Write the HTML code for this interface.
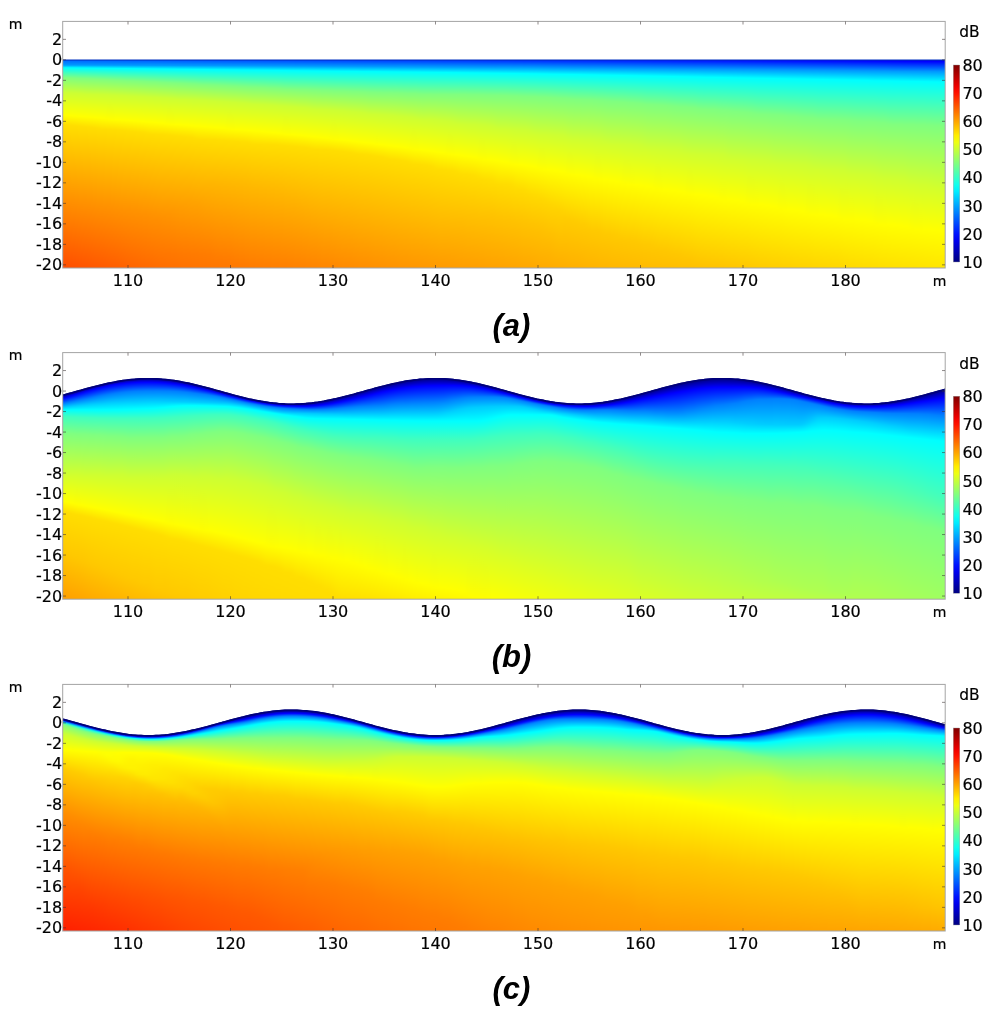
<!DOCTYPE html>
<html lang="en"><head><meta charset="utf-8"><title>Sound pressure level panels</title>
<style>
html,body{margin:0;padding:0;background:#fff}
body{width:1000px;height:1021px;position:relative;overflow:hidden;font-family:"DejaVu Sans","Liberation Sans",sans-serif}
.hm{position:absolute;left:63px;width:882px;height:246.5px;overflow:hidden}
.in{position:absolute;left:-16px;top:0;width:914px;height:246.5px;filter:url(#hb)}
.hm i{position:absolute;top:0;height:246.5px;display:block}
svg{position:absolute;left:0;top:0;transform:translateZ(0);will-change:transform}
.t{font:16px "DejaVu Sans","Liberation Sans",sans-serif;fill:#000;stroke:#000;stroke-width:.2px}
.u{font:14px "DejaVu Sans","Liberation Sans",sans-serif;fill:#000;stroke:#000;stroke-width:.2px}
.d{font:15.4px "DejaVu Sans","Liberation Sans",sans-serif;fill:#000;stroke:#000;stroke-width:.2px}
.cap{font:italic bold 31px "Liberation Sans",sans-serif;fill:#000}
</style></head><body>
<div class="hm" style="top:21.5px"><div class="in"><i style="left:0px;width:4.5px;background:linear-gradient(#006aff 38.5px,#09f 43.1px,#0ff 45.7px,#80ff80 55.5px,#cf3 70.5px,#ff0 93px,#ffde00 102.5px,#ff9500 172.5px,#ff4c00 246.5px)"></i><i style="left:4px;width:4.5px;background:linear-gradient(#006aff 38.5px,#09f 43.1px,#0ff 45.7px,#80ff80 55.5px,#cf3 70.5px,#ff0 93px,#ffde00 102.5px,#ff9500 172.5px,#ff4c00 246.5px)"></i><i style="left:8px;width:4.5px;background:linear-gradient(#006aff 38.5px,#09f 43.1px,#0ff 45.7px,#80ff80 55.5px,#cf3 70.5px,#ff0 93px,#ffde00 102.5px,#ff9500 172.5px,#ff4c00 246.5px)"></i><i style="left:12px;width:4.5px;background:linear-gradient(#006aff 38.5px,#09f 43.1px,#0ff 45.7px,#80ff80 55.5px,#cf3 70.5px,#ff0 93px,#ffde00 102.5px,#ff9500 172.5px,#ff4c00 246.5px)"></i><i style="left:16px;width:4.5px;background:linear-gradient(#0069ff 38.5px,#09f 43.11px,#0ff 45.73px,#7fff80 55.59px,#cf3 70.6px,#ff0 93.16px,#ffde00 102.7px,#ff9600 172.5px,#ff4d00 246.5px)"></i><i style="left:20px;width:4.5px;background:linear-gradient(#0069ff 38.5px,#09f 43.12px,#0ff 45.78px,#80ff7f 55.78px,#cf3 70.79px,#ff0 93.48px,#ffde00 103.1px,#ff9200 177.5px,#ff4f00 246.5px)"></i><i style="left:24px;width:4.5px;background:linear-gradient(#0068ff 38.5px,#09f 43.13px,#0ff 45.83px,#80ff7f 55.97px,#cf3 70.98px,#ff0 93.8px,#ffde00 103.5px,#ff9200 177.5px,#ff5000 246.5px)"></i><i style="left:28px;width:4.5px;background:linear-gradient(#0068ff 38.5px,#09f 43.14px,#0ff 45.88px,#7fff80 56.15px,#cf3 71.18px,#ff0 94.12px,#ffde00 104px,#ff9300 177.5px,#ff5100 246.5px)"></i><i style="left:32px;width:4.5px;background:linear-gradient(#0067ff 38.5px,#09f 43.15px,#0ff 45.93px,#7fff80 56.34px,#cf3 71.38px,#ff0 94.44px,#ffde00 104.4px,#ff9400 177.5px,#ff5300 246.5px)"></i><i style="left:36px;width:4.5px;background:linear-gradient(#0067ff 38.5px,#09f 43.16px,#0ff 45.98px,#80ff7f 56.53px,#ceff31 72.5px,#ff0 94.76px,#ffde00 104.8px,#ff9400 177.5px,#ff5400 246.5px)"></i><i style="left:40px;width:4.5px;background:linear-gradient(#06f 38.5px,#09f 43.17px,#0ff 46.03px,#80ff7f 56.72px,#ceff31 72.5px,#ff0 95.08px,#ffde00 105.2px,#ff9500 177.5px,#f50 246.5px)"></i><i style="left:44px;width:4.5px;background:linear-gradient(#06f 38.5px,#09f 43.18px,#0ff 46.08px,#80ff7f 56.91px,#cdff32 72.5px,#ff0 95.41px,#ffde00 105.6px,#ff9500 177.5px,#ff5700 246.5px)"></i><i style="left:48px;width:4.5px;background:linear-gradient(#0065ff 38.5px,#09f 43.19px,#0ff 46.13px,#80ff7f 57.1px,#cdff32 72.5px,#ff0 95.73px,#ffde00 106px,#ff9200 182.5px,#ff5800 246.5px)"></i><i style="left:52px;width:4.5px;background:linear-gradient(#0065ff 38.5px,#09f 43.21px,#0ff 46.18px,#80ff7f 57.29px,#cf3 72.5px,#ff0 96.05px,#fd0 107.5px,#ff9200 182.5px,#ff5900 246.5px)"></i><i style="left:56px;width:4.5px;background:linear-gradient(#0064ff 38.5px,#09f 43.22px,#0ff 46.23px,#80ff7f 57.48px,#cf3 72.62px,#ff0 96.38px,#fd0 107.5px,#ff9300 182.5px,#ff5a00 246.5px)"></i><i style="left:60px;width:4.5px;background:linear-gradient(#0064ff 38.5px,#09f 43.23px,#0ff 46.29px,#80ff7f 57.67px,#cf3 72.84px,#fffd00 97.5px,#ffde00 107.5px,#ff9300 182.5px,#ff5c00 246.5px)"></i><i style="left:64px;width:4.5px;background:linear-gradient(#0063ff 38.5px,#09f 43.24px,#0ff 46.34px,#7fff80 57.86px,#cf3 73.05px,#fffe00 97.5px,#ffde00 107.6px,#ff9400 182.5px,#ff5d00 246.5px)"></i><i style="left:68px;width:4.5px;background:linear-gradient(#0063ff 38.5px,#09f 43.26px,#0ff 46.39px,#7fff80 58.05px,#cf3 73.27px,#ff0 97.5px,#ffde00 108px,#ff9500 182.5px,#ff5e00 246.5px)"></i><i style="left:72px;width:4.5px;background:linear-gradient(#0062ff 38.5px,#09f 43.27px,#0ff 46.44px,#80ff7f 58.25px,#cf3 73.49px,#ff0 97.68px,#ffde00 108.4px,#ff9100 187.5px,#ff6000 246.5px)"></i><i style="left:76px;width:4.5px;background:linear-gradient(#0062ff 38.5px,#09f 43.28px,#0ff 46.49px,#81ff7e 58.8px,#cf3 73.71px,#ff0 98.01px,#ffde00 108.8px,#ff9200 187.5px,#ff6100 246.5px)"></i><i style="left:80px;width:4.5px;background:linear-gradient(#0061ff 38.5px,#09f 43.3px,#0ff 46.54px,#80ff7f 58.8px,#cf3 73.93px,#ff0 98.34px,#ffde00 109.2px,#ff9200 187.5px,#ff6300 246.5px)"></i><i style="left:84px;width:4.5px;background:linear-gradient(#0061ff 38.5px,#09f 43.31px,#0ff 46.59px,#80ff7f 58.83px,#cf3 74.16px,#ff0 98.67px,#ffde00 109.6px,#ff9300 187.5px,#ff6400 246.5px)"></i><i style="left:88px;width:4.5px;background:linear-gradient(#0060ff 38.5px,#09f 43.33px,#0ff 46.64px,#7fff80 59.02px,#cf3 74.38px,#ff0 99px,#ffde00 110px,#ff9300 187.5px,#ff6500 246.5px)"></i><i style="left:92px;width:4.5px;background:linear-gradient(#0060ff 38.5px,#09f 43.34px,#0ff 46.69px,#80ff7f 59.22px,#cf3 74.61px,#ff0 99.33px,#ffde00 110.4px,#ff9000 192.5px,#ff6700 246.5px)"></i><i style="left:96px;width:4.5px;background:linear-gradient(#005fff 38.5px,#009dff 43.49px,#0ff 46.74px,#7fff80 59.41px,#cf3 74.84px,#ff0 99.66px,#ffde00 110.8px,#ff9000 192.5px,#ff6800 246.5px)"></i><i style="left:100px;width:4.5px;background:linear-gradient(#005fff 38.5px,#009dff 43.49px,#0ff 46.79px,#7fff80 59.61px,#cf3 75.07px,#ff0 99.99px,#fd0 112.5px,#ff9100 192.5px,#ff6900 246.5px)"></i><i style="left:104px;width:4.5px;background:linear-gradient(#005eff 38.5px,#009cff 43.49px,#0ff 46.85px,#80ff7f 59.81px,#cf3 75.31px,#ff0 100.3px,#fd0 112.5px,#ff9200 192.5px,#ff6a00 246.5px)"></i><i style="left:108px;width:4.5px;background:linear-gradient(#005eff 38.5px,#009cff 43.49px,#0ff 46.9px,#80ff7f 60.01px,#cf3 75.54px,#ff0 100.7px,#ffde00 112.5px,#ff8e00 197.5px,#ff6c00 246.5px)"></i><i style="left:112px;width:4.5px;background:linear-gradient(#005dff 38.5px,#009bff 43.49px,#0ff 46.95px,#7fff80 60.2px,#cf3 75.78px,#ff0 101px,#ffde00 112.5px,#ff8f00 197.5px,#ff6f00 242.5px,#ff6d00 246.5px)"></i><i style="left:116px;width:4.5px;background:linear-gradient(#005dff 38.5px,#009bff 43.49px,#0ff 47px,#7fff80 60.4px,#cf3 76.02px,#ff0 101.3px,#ffde00 112.8px,#ff9400 192.5px,#ff7600 232.5px,#ff6e00 246.5px)"></i><i style="left:120px;width:4.5px;background:linear-gradient(#005cff 38.5px,#009aff 43.49px,#0ff 47.05px,#7fff80 60.6px,#cf3 76.26px,#fffd00 102.5px,#ffde00 113.2px,#ff9400 192.5px,#f70 232.5px,#ff6f00 246.5px)"></i><i style="left:124px;width:4.5px;background:linear-gradient(#005cff 38.5px,#009aff 43.49px,#0ff 47.1px,#80ff80 60.8px,#cf3 76.5px,#fffe00 102.5px,#ffde00 113.6px,#f90 187.5px,#f70 232.5px,#ff6f00 246.5px)"></i><i style="left:128px;width:4.5px;background:linear-gradient(#005bff 38.5px,#09f 43.49px,#0ff 47.15px,#7fff80 61px,#ceff31 77.5px,#ff0 102.5px,#ffde00 114px,#ff9a00 187.5px,#ff7800 232.5px,#ff7000 246.5px)"></i><i style="left:132px;width:4.5px;background:linear-gradient(#005bff 38.5px,#09f 43.5px,#0ff 47.25px,#80ff7f 61.21px,#cdff32 77.5px,#ff0 102.7px,#ffde00 114.4px,#ff9f00 182.5px,#ff7900 232.5px,#ff7100 246.5px)"></i><i style="left:136px;width:4.5px;background:linear-gradient(#005aff 38.5px,#09f 43.51px,#0ff 47.25px,#7fff80 61.41px,#cdff32 77.5px,#ff0 103px,#ffde00 114.8px,#ff9f00 182.5px,#ff7900 232.5px,#ff7200 246.5px)"></i><i style="left:140px;width:4.5px;background:linear-gradient(#005aff 38.5px,#09f 43.53px,#0ff 47.3px,#7fff80 61.62px,#cf3 77.5px,#ff0 103.3px,#ffde00 115.2px,#ffa400 177.5px,#ff7a00 232.5px,#ff7200 246.5px)"></i><i style="left:144px;width:4.5px;background:linear-gradient(#0059ff 38.5px,#09f 43.55px,#0ff 47.35px,#7fff80 61.83px,#cf3 77.74px,#ff0 103.7px,#ffde00 115.5px,#ffa400 178.2px,#ff7a00 232.5px,#ff7300 246.5px)"></i><i style="left:148px;width:4.5px;background:linear-gradient(#0059ff 38.5px,#09f 43.56px,#0ff 47.41px,#7fff80 62.04px,#cf3 77.99px,#ff0 104px,#fd0 117.5px,#ffa100 182.5px,#ff7b00 232.5px,#ff7400 246.5px)"></i><i style="left:152px;width:4.5px;background:linear-gradient(#0058ff 38.5px,#09f 43.58px,#0ff 47.46px,#82ff7d 62.85px,#cf3 78.25px,#ff0 104.3px,#fd0 117.5px,#ffa400 179.7px,#ff7b00 232.5px,#ff7400 246.5px)"></i><i style="left:156px;width:4.5px;background:linear-gradient(#0058ff 38.5px,#09f 43.6px,#0ff 47.51px,#81ff7e 62.85px,#cf3 78.51px,#ff0 104.7px,#fd0 117.5px,#ffab00 172.5px,#ff7c00 232.5px,#ff7500 246.5px)"></i><i style="left:160px;width:4.5px;background:linear-gradient(#0057ff 38.5px,#09f 43.62px,#0ff 47.56px,#80ff7f 62.85px,#cf3 78.77px,#ff0 105px,#ffde00 117.5px,#ffb000 167.5px,#ff7c00 232.5px,#ff7500 246.5px)"></i><i style="left:164px;width:4.5px;background:linear-gradient(#0057ff 38.5px,#09f 43.63px,#0ff 47.61px,#7fff80 62.9px,#cf3 79.03px,#ff0 105.3px,#ffde00 117.5px,#ffb400 162.5px,#ff7d00 232.5px,#ff7600 246.5px)"></i><i style="left:168px;width:4.5px;background:linear-gradient(#0056ff 38.5px,#09f 43.65px,#0ff 47.66px,#7fff80 63.12px,#cf3 79.3px,#ff0 105.6px,#ffde00 117.8px,#ffb500 162.5px,#ff7b00 237.5px,#ff7600 246.5px)"></i><i style="left:172px;width:4.5px;background:linear-gradient(#05f 38.5px,#09f 43.67px,#0ff 47.71px,#80ff7f 63.34px,#cf3 79.56px,#ff0 106px,#ffde00 118.2px,#ffb500 162.5px,#ff7b00 237.5px,#f70 246.5px)"></i><i style="left:176px;width:4.5px;background:linear-gradient(#05f 38.5px,#09f 43.69px,#0ff 47.76px,#7fff80 63.55px,#cf3 79.83px,#ff0 106.3px,#ffde00 118.5px,#ffb600 162.5px,#ff7c00 237.5px,#f70 246.5px)"></i><i style="left:180px;width:4.5px;background:linear-gradient(#0054ff 38.5px,#09f 43.71px,#0ff 47.81px,#80ff7f 63.77px,#cf3 80.1px,#fffd00 107.5px,#ffde00 118.8px,#ffb600 162.5px,#ff7c00 237.5px,#ff7800 246.5px)"></i><i style="left:184px;width:4.5px;background:linear-gradient(#0054ff 38.5px,#09f 43.73px,#0ff 47.86px,#7fff80 63.98px,#cf3 80.38px,#fffe00 107.5px,#ffde00 119.2px,#ffb700 162.5px,#ff7d00 237.5px,#ff7800 246.5px)"></i><i style="left:188px;width:4.5px;background:linear-gradient(#0053ff 38.5px,#09f 43.74px,#0ff 47.91px,#80ff7f 64.2px,#cf3 80.65px,#ff0 107.5px,#ffde00 119.5px,#ffb700 162.5px,#ff7b00 242.5px,#ff7900 246.5px)"></i><i style="left:192px;width:4.5px;background:linear-gradient(#0053ff 38.5px,#09f 43.76px,#0ff 47.97px,#7fff80 64.41px,#cf3 80.93px,#ff0 107.7px,#ffde00 119.9px,#ffb800 162.5px,#ff7b00 242.5px,#ff7900 246.5px)"></i><i style="left:196px;width:4.5px;background:linear-gradient(#0052ff 38.5px,#09f 43.78px,#0ff 48.02px,#7fff80 64.62px,#cf3 81.21px,#ff0 108px,#ffde00 120.2px,#ffb800 162.5px,#ff7c00 242.5px,#ff7a00 246.5px)"></i><i style="left:200px;width:4.5px;background:linear-gradient(#0052ff 38.5px,#09f 43.8px,#0ff 48.07px,#7fff80 64.83px,#cf3 81.5px,#ff0 108.4px,#ffde00 120.5px,#ffb900 162.5px,#ff7a00 246.5px)"></i><i style="left:204px;width:4.5px;background:linear-gradient(#0051ff 38.5px,#09f 43.82px,#0ff 48.12px,#7fff80 65.04px,#cdff32 82.5px,#ff0 108.7px,#fd0 122.5px,#ffb600 167.5px,#ff7b00 246.5px)"></i><i style="left:208px;width:4.5px;background:linear-gradient(#0051ff 38.5px,#09f 43.84px,#0ff 48.17px,#80ff7f 65.25px,#cdff32 82.5px,#ff0 109.1px,#fd0 122.5px,#ffb600 167.5px,#ff7b00 246.5px)"></i><i style="left:212px;width:4.5px;background:linear-gradient(#0050ff 38.5px,#09f 43.86px,#0ff 48.22px,#80ff7f 65.45px,#cf3 82.5px,#ff0 109.4px,#fd0 122.5px,#ffb700 167.5px,#ff7c00 246.5px)"></i><i style="left:216px;width:4.5px;background:linear-gradient(#0050ff 38.5px,#09f 43.88px,#0ff 48.27px,#80ff7f 65.65px,#cf3 82.65px,#ff0 109.8px,#ffde00 122.5px,#ffb700 167.5px,#ff7c00 246.5px)"></i><i style="left:220px;width:4.5px;background:linear-gradient(#004fff 38.5px,#09f 43.9px,#0ff 48.32px,#7fff80 65.84px,#cf3 82.95px,#ff0 110.2px,#ffde00 122.5px,#ffb800 167.5px,#ff7d00 246.5px)"></i><i style="left:224px;width:4.5px;background:linear-gradient(#004fff 38.5px,#09f 43.92px,#0ff 48.37px,#80ff7f 66.04px,#cf3 83.25px,#ff0 110.5px,#ffde00 122.5px,#ffb800 167.5px,#ff7d00 246.5px)"></i><i style="left:228px;width:4.5px;background:linear-gradient(#004eff 38.5px,#09f 43.94px,#0ff 48.42px,#7fff80 66.22px,#cf3 83.55px,#ff0 110.9px,#ffde00 122.8px,#ffb900 167.5px,#ff7e00 246.5px)"></i><i style="left:232px;width:4.5px;background:linear-gradient(#004eff 38.5px,#09f 43.96px,#0ff 48.47px,#80ff7f 66.41px,#cf3 83.85px,#ff0 111.3px,#ffde00 123.2px,#ffb500 172.5px,#ff7e00 246.5px)"></i><i style="left:236px;width:4.5px;background:linear-gradient(#004dff 38.5px,#09f 43.98px,#0ff 48.53px,#83ff7c 67.5px,#cf3 84.15px,#fffd00 112.5px,#ffde00 123.5px,#ffb600 172.5px,#ff7f00 246.5px)"></i><i style="left:240px;width:4.5px;background:linear-gradient(#004dff 38.5px,#09f 44px,#0ff 48.58px,#83ff7c 67.5px,#cf3 84.46px,#fffe00 112.5px,#ffde00 123.9px,#ffb700 172.5px,#ff7f00 246.5px)"></i><i style="left:244px;width:4.5px;background:linear-gradient(#004cff 38.5px,#09f 44.03px,#0ff 48.63px,#82ff7d 67.5px,#cf3 84.77px,#ff0 112.5px,#ffde00 124.2px,#ffb300 177.5px,#ff8000 246.5px)"></i><i style="left:248px;width:4.5px;background:linear-gradient(#004bff 38.5px,#09f 44.05px,#0ff 48.68px,#81ff7e 67.5px,#cf3 85.09px,#ff0 112.9px,#ffde00 124.6px,#ffb000 182.5px,#ff8100 246.5px)"></i><i style="left:252px;width:4.5px;background:linear-gradient(#004bff 38.5px,#09f 44.07px,#0ff 48.73px,#80ff7f 67.5px,#cf3 85.4px,#ff0 113.3px,#ffde00 125px,#ffad00 187.5px,#ff8100 246.5px)"></i><i style="left:256px;width:4.5px;background:linear-gradient(#004aff 38.5px,#09f 44.09px,#0ff 48.77px,#80ff7f 67.5px,#cf3 85.72px,#ff0 113.7px,#ffde00 125.4px,#fa0 192.5px,#ff8200 246.5px)"></i><i style="left:260px;width:4.5px;background:linear-gradient(#004aff 38.5px,#09f 44.11px,#0ff 48.82px,#80ff7f 67.67px,#cf3 86.04px,#ff0 114.2px,#ffde00 125.8px,#ffa700 197.5px,#ff8300 246.5px)"></i><i style="left:264px;width:4.5px;background:linear-gradient(#0049ff 38.5px,#09f 44.13px,#0ff 48.87px,#7fff80 67.84px,#ceff31 87.5px,#ff0 114.6px,#fd0 127.5px,#ff8300 246.5px)"></i><i style="left:268px;width:4.5px;background:linear-gradient(#0049ff 38.5px,#09f 44.16px,#0ff 48.92px,#80ff7f 68.02px,#cdff32 87.5px,#ff0 115px,#fd0 127.5px,#ff8400 246.5px)"></i><i style="left:272px;width:4.5px;background:linear-gradient(#0048ff 38.5px,#09f 44.18px,#0ff 48.97px,#7fff80 68.19px,#cdff32 87.5px,#ff0 115.5px,#ffde00 127.5px,#ff8500 246.5px)"></i><i style="left:276px;width:4.5px;background:linear-gradient(#0048ff 38.5px,#09f 44.2px,#0ff 49.02px,#7fff80 68.36px,#cf3 87.5px,#ff0 115.9px,#ffde00 127.5px,#ff8600 246.5px)"></i><i style="left:280px;width:4.5px;background:linear-gradient(#0047ff 38.5px,#09f 44.22px,#0ff 49.07px,#80ff7f 68.54px,#cf3 87.7px,#ff0 116.3px,#ffde00 127.8px,#ff8600 246.5px)"></i><i style="left:284px;width:4.5px;background:linear-gradient(#0047ff 38.5px,#09f 44.24px,#0ff 49.11px,#7fff80 68.7px,#cf3 88.04px,#fffd00 117.5px,#ffde00 128.3px,#ff8700 246.5px)"></i><i style="left:288px;width:4.5px;background:linear-gradient(#0046ff 38.5px,#09f 44.27px,#0ff 49.16px,#7fff80 68.87px,#cf3 88.39px,#fffe00 117.5px,#ffde00 128.8px,#f80 246.5px)"></i><i style="left:292px;width:4.5px;background:linear-gradient(#0046ff 38.5px,#09f 44.29px,#0ff 49.21px,#80ff7f 69.04px,#cf3 88.73px,#ff0 117.7px,#ffde00 129.2px,#ff8900 246.5px)"></i><i style="left:296px;width:4.5px;background:linear-gradient(#0045ff 38.5px,#09f 44.31px,#0ff 49.26px,#80ff7f 69.2px,#cf3 89.08px,#ff0 118.2px,#ffde00 129.8px,#ff8a00 246.5px)"></i><i style="left:300px;width:4.5px;background:linear-gradient(#0045ff 38.5px,#09f 44.34px,#0ff 49.3px,#80ff7f 69.36px,#cf3 89.43px,#ff0 118.6px,#ffde00 130.3px,#ff8a00 246.5px)"></i><i style="left:304px;width:4.5px;background:linear-gradient(#04f 38.5px,#09f 44.36px,#0ff 49.35px,#7fff80 69.51px,#cf3 89.79px,#ff0 119.1px,#ffde00 130.8px,#ff8b00 246.5px)"></i><i style="left:308px;width:4.5px;background:linear-gradient(#0043ff 38.5px,#09f 44.38px,#0ff 49.4px,#80ff7f 69.67px,#cf3 90.15px,#ff0 119.6px,#fd0 132.5px,#ff8c00 246.5px)"></i><i style="left:312px;width:4.5px;background:linear-gradient(#0043ff 38.5px,#09f 44.41px,#01fffe 49.57px,#80ff7f 69.82px,#cf3 90.51px,#ff0 120.1px,#ffde00 132.5px,#ff8d00 246.5px)"></i><i style="left:316px;width:4.5px;background:linear-gradient(#0042ff 38.5px,#09f 44.43px,#0ff 49.57px,#80ff7f 69.97px,#cf3 90.87px,#ff0 120.6px,#ffde00 132.5px,#ff8d00 246.5px)"></i><i style="left:320px;width:4.5px;background:linear-gradient(#0042ff 38.5px,#09f 44.45px,#0ff 49.57px,#7fff80 70.11px,#ceff31 92.5px,#ff0 121px,#ffde00 133.1px,#ff8e00 246.5px)"></i><i style="left:324px;width:4.5px;background:linear-gradient(#0041ff 38.5px,#09f 44.48px,#0ff 49.59px,#7fff80 70.25px,#ceff31 92.5px,#ff0 121.5px,#ffde00 133.7px,#ff8f00 246.5px)"></i><i style="left:328px;width:4.5px;background:linear-gradient(#0041ff 38.5px,#09f 44.5px,#0ff 49.64px,#7fff80 70.39px,#cdff32 92.5px,#fffe00 122.5px,#ffde00 134.3px,#ff9000 246.5px)"></i><i style="left:332px;width:4.5px;background:linear-gradient(#0040ff 38.5px,#09f 44.52px,#0ff 49.69px,#7fff80 70.52px,#cf3 92.5px,#ff0 122.5px,#ffde00 135px,#ff9000 246.5px)"></i><i style="left:336px;width:4.5px;background:linear-gradient(#0040ff 38.5px,#09f 44.55px,#0ff 49.73px,#7fff80 70.65px,#cf3 92.73px,#ff0 123px,#ffde00 135.7px,#ff9100 246.5px)"></i><i style="left:340px;width:4.5px;background:linear-gradient(#003fff 38.5px,#09f 44.57px,#0ff 49.78px,#80ff7f 70.78px,#cf3 93.12px,#ff0 123.5px,#fd0 137.5px,#ff9200 246.5px)"></i><i style="left:344px;width:4.5px;background:linear-gradient(#003fff 38.5px,#09f 44.6px,#0ff 49.83px,#80ff80 70.9px,#cf3 93.5px,#ff0 124px,#ffde00 137.5px,#ff9200 246.5px)"></i><i style="left:348px;width:4.5px;background:linear-gradient(#003eff 38.5px,#09f 44.62px,#0ff 49.88px,#80ff7f 71.02px,#cf3 93.89px,#ff0 124.5px,#ffde00 137.7px,#ff9300 246.5px)"></i><i style="left:352px;width:4.5px;background:linear-gradient(#003dff 38.5px,#00a4ff 45.24px,#0ff 49.93px,#80ff7f 71.13px,#cf3 94.28px,#ff0 125px,#ffde00 138.5px,#ff9400 246.5px)"></i><i style="left:356px;width:4.5px;background:linear-gradient(#003dff 38.5px,#00a4ff 45.24px,#0ff 49.98px,#7fff80 71.23px,#cf3 94.68px,#ff0 125.5px,#ffde00 139.2px,#ff9400 246.5px)"></i><i style="left:360px;width:4.5px;background:linear-gradient(#003cff 38.5px,#00a3ff 45.24px,#0ff 50.03px,#7fff80 71.33px,#cf3 95.08px,#ff0 126.1px,#ffde00 139.9px,#ff9500 246.5px)"></i><i style="left:364px;width:4.5px;background:linear-gradient(#003cff 38.5px,#00a3ff 45.24px,#0ff 50.07px,#80ff7f 71.43px,#cf3 95.49px,#fffd00 127.5px,#fd0 142.5px,#ff9600 246.5px)"></i><i style="left:368px;width:4.5px;background:linear-gradient(#003bff 38.5px,#00a2ff 45.24px,#0ff 50.12px,#80ff7f 71.52px,#cfff30 97.5px,#fffe00 127.5px,#fd0 142.5px,#ff9600 246.5px)"></i><i style="left:372px;width:4.5px;background:linear-gradient(#003bff 38.5px,#00a2ff 45.24px,#0ff 50.17px,#82ff7d 72.5px,#ceff31 97.5px,#ff0 127.6px,#ffde00 142.5px,#ff9700 246.5px)"></i><i style="left:376px;width:4.5px;background:linear-gradient(#003aff 38.5px,#00a1ff 45.24px,#0ff 50.22px,#82ff7d 72.5px,#cdff32 97.5px,#ff0 128.2px,#ffde00 143px,#ff9700 246.5px)"></i><i style="left:380px;width:4.5px;background:linear-gradient(#003aff 38.5px,#00a1ff 45.24px,#0ff 50.28px,#82ff7d 72.5px,#cdff32 97.5px,#ff0 128.7px,#ffde00 143.8px,#ff9800 246.5px)"></i><i style="left:384px;width:4.5px;background:linear-gradient(#0039ff 38.5px,#00a0ff 45.24px,#0ff 50.33px,#81ff7e 72.5px,#cf3 97.59px,#ff0 129.2px,#ffde00 144.6px,#f90 246.5px)"></i><i style="left:388px;width:4.5px;background:linear-gradient(#0039ff 38.5px,#00a0ff 45.24px,#0ff 50.38px,#81ff7e 72.5px,#cf3 98.02px,#ff0 129.8px,#fd0 147.5px,#f90 246.5px)"></i><i style="left:392px;width:4.5px;background:linear-gradient(#0038ff 38.5px,#009fff 45.24px,#0ff 50.43px,#81ff7e 72.5px,#cf3 98.46px,#ff0 130.4px,#fd0 147.5px,#ffab00 222.5px,#ff9a00 246.5px)"></i><i style="left:396px;width:4.5px;background:linear-gradient(#0037ff 38.5px,#009fff 45.24px,#0ff 50.48px,#81ff7e 72.5px,#cf3 98.89px,#ff0 130.9px,#ffde00 147.5px,#ffb100 212.5px,#ff9a00 246.5px)"></i><i style="left:400px;width:4.5px;background:linear-gradient(#0037ff 38.5px,#009eff 45.24px,#0ff 50.53px,#80ff7f 72.5px,#cf3 99.33px,#fffd00 132.5px,#ffde00 148px,#ffb500 207.5px,#ff9b00 246.5px)"></i><i style="left:404px;width:4.5px;background:linear-gradient(#0036ff 38.5px,#009eff 45.24px,#0ff 50.59px,#80ff7f 72.5px,#cf3 99.78px,#fffe00 132.5px,#ffde00 148.8px,#ffb900 202.5px,#ff9b00 246.5px)"></i><i style="left:408px;width:4.5px;background:linear-gradient(#0036ff 38.5px,#009dff 45.24px,#0ff 50.64px,#80ff7f 72.5px,#d0ff2f 102.5px,#ff0 132.6px,#ffde00 149.7px,#ffb900 202.5px,#ff9c00 246.5px)"></i><i style="left:412px;width:4.5px;background:linear-gradient(#0035ff 38.5px,#009dff 45.24px,#0ff 50.7px,#80ff7f 72.5px,#cfff30 102.5px,#ff0 133.2px,#fd0 152.5px,#ffb900 202.5px,#ff9d00 246.5px)"></i><i style="left:416px;width:4.5px;background:linear-gradient(#0035ff 38.5px,#009cff 45.24px,#0ff 50.75px,#80ff7f 72.51px,#ceff31 102.5px,#ff0 133.8px,#fd0 152.5px,#ffbd00 197.5px,#ff9d00 246.5px)"></i><i style="left:420px;width:4.5px;background:linear-gradient(#0034ff 38.5px,#009cff 45.24px,#0ff 50.81px,#7fff80 72.59px,#cdff32 102.5px,#ff0 134.4px,#ffde00 152.5px,#ffbe00 197.5px,#ff9e00 246.5px)"></i><i style="left:424px;width:4.5px;background:linear-gradient(#0034ff 38.5px,#009bff 45.24px,#0ff 50.86px,#7fff80 72.68px,#cdff32 102.5px,#ff0 134.9px,#ffde00 153.2px,#ffc100 192.5px,#ff9e00 246.5px)"></i><i style="left:428px;width:4.5px;background:linear-gradient(#03f 38.5px,#009bff 45.24px,#0ff 50.92px,#80ff7f 72.78px,#cf3 102.5px,#ff0 135.5px,#ffde00 154.1px,#ffc200 192.5px,#ff9f00 246.5px)"></i><i style="left:432px;width:4.5px;background:linear-gradient(#0032ff 38.5px,#009aff 45.24px,#0ff 50.97px,#7fff80 72.87px,#cf3 103px,#fffd00 137.5px,#ffdc00 157.5px,#ffbf00 197.5px,#ff9f00 246.5px)"></i><i style="left:436px;width:4.5px;background:linear-gradient(#0032ff 38.5px,#009aff 45.24px,#0ff 51.03px,#7fff80 72.97px,#cf3 103.4px,#fffe00 137.5px,#fd0 157.5px,#ffbf00 197.5px,#ffa000 246.5px)"></i><i style="left:440px;width:4.5px;background:linear-gradient(#0031ff 38.5px,#009aff 45.24px,#0ff 51.09px,#7fff80 73.08px,#cf3 103.9px,#ff0 137.5px,#ffde00 157.5px,#ffc300 192.5px,#ffa100 246.5px)"></i><i style="left:444px;width:4.5px;background:linear-gradient(#0031ff 38.5px,#09f 45.24px,#0ff 51.15px,#7fff80 73.19px,#cf3 104.3px,#ff0 138px,#ffde00 157.7px,#ffc300 192.5px,#ffa100 246.5px)"></i><i style="left:448px;width:4.5px;background:linear-gradient(#0030ff 38.5px,#09f 45.26px,#0ff 51.21px,#7fff80 73.31px,#d0ff2f 107.5px,#ff0 138.6px,#ffdb00 162.5px,#ffc100 197.5px,#ffa200 246.5px)"></i><i style="left:452px;width:4.5px;background:linear-gradient(#0030ff 38.5px,#00baff 47.25px,#0ff 51.27px,#80ff7f 73.44px,#cfff30 107.5px,#ff0 139.2px,#ffdc00 162.5px,#ffc100 197.5px,#ffa200 246.5px)"></i><i style="left:456px;width:4.5px;background:linear-gradient(#002fff 38.5px,#00baff 47.25px,#0ff 51.33px,#80ff7f 73.57px,#cfff30 107.5px,#ff0 139.8px,#ffdc00 162.5px,#ffc200 197.5px,#ffa300 246.5px)"></i><i style="left:460px;width:4.5px;background:linear-gradient(#002fff 38.5px,#00b9ff 47.25px,#0ff 51.39px,#80ff7f 73.71px,#ceff31 107.5px,#ff0 140.4px,#fd0 162.5px,#ffc200 197.5px,#ffa400 246.5px)"></i><i style="left:464px;width:4.5px;background:linear-gradient(#002eff 38.5px,#00b9ff 47.25px,#0ff 51.46px,#7fff80 73.85px,#cdff32 107.5px,#fffd00 142.5px,#ffde00 162.5px,#ffc300 197.5px,#ffa400 246.5px)"></i><i style="left:468px;width:4.5px;background:linear-gradient(#002dff 38.5px,#00b8ff 47.25px,#0ff 51.52px,#80ff7f 74.01px,#cf3 107.5px,#fffe00 142.5px,#ffdb00 167.5px,#ffc000 202.5px,#ffa500 246.5px)"></i><i style="left:472px;width:4.5px;background:linear-gradient(#002dff 38.5px,#00deff 49.57px,#0ff 51.58px,#7fff80 74.17px,#cf3 107.7px,#ff0 142.5px,#ffdb00 167.5px,#ffc400 197.5px,#ffa600 246.5px)"></i><i style="left:476px;width:4.5px;background:linear-gradient(#002cff 38.5px,#0df 49.57px,#0ff 51.65px,#7fff80 74.34px,#cf3 108.1px,#ff0 143.1px,#ffdc00 167.5px,#ffc500 197.5px,#ffa700 246.5px)"></i><i style="left:480px;width:4.5px;background:linear-gradient(#002cff 38.5px,#0ff 51.72px,#7fff80 74.52px,#cf3 108.6px,#ff0 143.8px,#ffd900 172.5px,#ffc200 202.5px,#ffa700 246.5px)"></i><i style="left:484px;width:4.5px;background:linear-gradient(#002bff 38.5px,#0ff 51.78px,#80ff7f 74.71px,#d1ff2e 112.5px,#ff0 144.5px,#ffda00 172.5px,#ffc300 202.5px,#ffa800 246.5px)"></i><i style="left:488px;width:4.5px;background:linear-gradient(#002bff 38.5px,#0ff 51.85px,#80ff7f 74.9px,#d0ff2f 112.5px,#ff0 145.2px,#ffdb00 172.5px,#ffc300 202.5px,#ffa900 246.5px)"></i><i style="left:492px;width:4.5px;background:linear-gradient(#002aff 38.5px,#0ff 51.92px,#7fff80 75.09px,#cfff30 112.5px,#fffd00 147.5px,#ffd700 177.5px,#ffc100 207.5px,#fa0 246.5px)"></i><i style="left:496px;width:4.5px;background:linear-gradient(#0029ff 38.5px,#0ff 51.99px,#80ff7f 75.3px,#cfff30 112.5px,#fffe00 147.5px,#ffd800 177.5px,#ffc500 202.5px,#fa0 246.5px)"></i><i style="left:500px;width:4.5px;background:linear-gradient(#0029ff 38.5px,#0ff 52.06px,#80ff7f 75.51px,#ceff31 112.5px,#ff0 147.5px,#ffd500 182.5px,#ffb900 222.5px,#ffab00 246.5px)"></i><i style="left:504px;width:4.5px;background:linear-gradient(#0028ff 38.5px,#01fffe 52.23px,#7fff80 75.72px,#cdff32 112.5px,#ff0 148px,#ffd600 182.5px,#ffc000 212.5px,#ffac00 246.5px)"></i><i style="left:508px;width:4.5px;background:linear-gradient(#0028ff 38.5px,#0ff 52.23px,#7fff80 75.94px,#cf3 112.5px,#ff0 148.7px,#ffd200 187.5px,#ffad00 246.5px)"></i><i style="left:512px;width:4.5px;background:linear-gradient(#0027ff 38.5px,#0ff 52.28px,#7fff80 76.16px,#cf3 112.7px,#ff0 149.5px,#ffd300 187.5px,#ffad00 246.5px)"></i><i style="left:516px;width:4.5px;background:linear-gradient(#0027ff 38.5px,#0ff 52.35px,#7fff80 76.39px,#cf3 113.2px,#ff0 150.2px,#fc0 196.1px,#ffae00 246.5px)"></i><i style="left:520px;width:4.5px;background:linear-gradient(#0026ff 38.5px,#0ff 52.43px,#7fff80 76.62px,#d1ff2e 117.5px,#fffd00 152.5px,#fc0 197.5px,#ffaf00 246.5px)"></i><i style="left:524px;width:4.5px;background:linear-gradient(#0025ff 38.5px,#0ff 52.5px,#81ff7e 77.5px,#d0ff2f 117.5px,#fffe00 152.5px,#fc0 198.3px,#ffb000 246.5px)"></i><i style="left:528px;width:4.5px;background:linear-gradient(#0025ff 38.5px,#0ff 52.58px,#80ff7f 77.5px,#d0ff2f 117.5px,#ff0 152.5px,#fc0 199.4px,#ffb000 246.5px)"></i><i style="left:532px;width:4.5px;background:linear-gradient(#0024ff 38.5px,#00d1ff 49.57px,#0ff 52.65px,#80ff7f 77.5px,#cfff30 117.5px,#ff0 153.1px,#ffcb00 202.5px,#ffb100 246.5px)"></i><i style="left:536px;width:4.5px;background:linear-gradient(#0024ff 38.5px,#00d0ff 49.57px,#0ff 52.73px,#7fff80 77.59px,#ceff31 117.5px,#ff0 153.8px,#ffcb00 202.5px,#ffb200 246.5px)"></i><i style="left:540px;width:4.5px;background:linear-gradient(#0023ff 38.5px,#00cfff 49.57px,#0ff 52.8px,#80ff7f 77.84px,#ceff31 117.5px,#ff0 154.5px,#ffc900 207.5px,#ffb300 246.5px)"></i><i style="left:544px;width:4.5px;background:linear-gradient(#0023ff 38.5px,#00acff 47.25px,#0ff 52.88px,#80ff7f 78.09px,#cdff32 117.5px,#ff0 155.2px,#ffca00 207.5px,#ffb300 246.5px)"></i><i style="left:548px;width:4.5px;background:linear-gradient(#02f 38.5px,#00abff 47.25px,#0ff 52.96px,#7fff80 78.34px,#cf3 117.5px,#fffd00 157.5px,#ffca00 207.5px,#ffb400 246.5px)"></i><i style="left:552px;width:4.5px;background:linear-gradient(#0021ff 38.5px,#00abff 47.25px,#0ff 53.04px,#80ff7f 78.6px,#cf3 117.8px,#fffe00 157.5px,#ffcb00 207.5px,#ffb500 246.5px)"></i><i style="left:556px;width:4.5px;background:linear-gradient(#0021ff 38.5px,#0af 47.25px,#0ff 53.12px,#7fff80 78.85px,#d2ff2d 122.5px,#ff0 157.5px,#ffc900 212.5px,#ffb500 246.5px)"></i><i style="left:560px;width:4.5px;background:linear-gradient(#0020ff 38.5px,#00a9ff 47.25px,#0ff 53.19px,#7fff80 79.11px,#d1ff2e 122.5px,#ff0 158px,#ffc900 212.5px,#ffb600 246.5px)"></i><i style="left:564px;width:4.5px;background:linear-gradient(#0020ff 38.5px,#00a9ff 47.25px,#0ff 53.27px,#7fff80 79.37px,#d0ff2f 122.5px,#ff0 158.7px,#ffca00 212.5px,#ffb700 246.5px)"></i><i style="left:568px;width:4.5px;background:linear-gradient(#001fff 38.5px,#00a8ff 47.25px,#0ff 53.35px,#7fff80 79.63px,#d0ff2f 122.5px,#ff0 159.3px,#ffcb00 212.5px,#ffb700 246.5px)"></i><i style="left:572px;width:4.5px;background:linear-gradient(#001fff 38.5px,#00a8ff 47.25px,#0ff 53.43px,#80ff7f 79.9px,#cfff30 122.5px,#ff0 160px,#ffc800 217.5px,#ffb800 246.5px)"></i><i style="left:576px;width:4.5px;background:linear-gradient(#001eff 38.5px,#00a7ff 47.25px,#0ff 53.51px,#80ff7f 80.18px,#ceff31 122.5px,#fffd00 162.5px,#ffc900 217.5px,#ffb800 246.5px)"></i><i style="left:580px;width:4.5px;background:linear-gradient(#001dff 38.5px,#00a7ff 47.25px,#0ff 53.59px,#7fff80 80.46px,#ceff31 122.5px,#fffe00 162.5px,#ffc900 217.5px,#ffb900 246.5px)"></i><i style="left:584px;width:4.5px;background:linear-gradient(#001dff 38.5px,#00a6ff 47.25px,#0ff 53.67px,#80ff7f 80.76px,#cdff32 122.5px,#fffe00 162.5px,#ffca00 217.5px,#ffb900 246.5px)"></i><i style="left:588px;width:4.5px;background:linear-gradient(#001cff 38.5px,#00a5ff 47.25px,#0ff 53.76px,#7fff80 81.06px,#cf3 122.5px,#ff0 162.6px,#ffca00 217.5px,#ffba00 246.5px)"></i><i style="left:592px;width:4.5px;background:linear-gradient(#001cff 38.5px,#00a5ff 47.25px,#0ff 53.84px,#80ff7f 81.37px,#cf3 122.6px,#ff0 163.2px,#ffc800 222.5px,#ffba00 246.5px)"></i><i style="left:596px;width:4.5px;background:linear-gradient(#001bff 38.5px,#00a4ff 47.25px,#0ff 53.92px,#81ff7e 82.5px,#d2ff2d 127.5px,#ff0 163.9px,#ffc900 222.5px,#fb0 246.5px)"></i><i style="left:600px;width:4.5px;background:linear-gradient(#001bff 38.5px,#00a4ff 47.25px,#0ff 54px,#80ff7f 82.5px,#d1ff2e 127.5px,#ff0 164.5px,#ffc900 222.5px,#fb0 246.5px)"></i><i style="left:604px;width:4.5px;background:linear-gradient(#001aff 38.5px,#00a3ff 47.25px,#0ff 54.08px,#80ff7f 82.5px,#d0ff2f 127.5px,#ff0 165.2px,#ffca00 222.5px,#ffbc00 246.5px)"></i><i style="left:608px;width:4.5px;background:linear-gradient(#0019ff 38.5px,#00a3ff 47.25px,#0ff 54.16px,#7fff80 82.66px,#d0ff2f 127.5px,#fffd00 167.5px,#ffc700 227.5px,#ffbc00 246.5px)"></i><i style="left:612px;width:4.5px;background:linear-gradient(#0019ff 38.5px,#00a2ff 47.25px,#0ff 54.24px,#80ff7f 83px,#cfff30 127.5px,#fffe00 167.5px,#ffc800 227.5px,#ffbc00 246.5px)"></i><i style="left:616px;width:4.5px;background:linear-gradient(#0018ff 38.5px,#00a2ff 47.25px,#0ff 54.33px,#80ff7f 83.34px,#cfff30 127.5px,#ff0 167.5px,#ffc800 227.5px,#ffbd00 246.5px)"></i><i style="left:620px;width:4.5px;background:linear-gradient(#0018ff 38.5px,#00a1ff 47.25px,#0ff 54.41px,#80ff7f 83.68px,#ceff31 127.5px,#ff0 167.7px,#ffc900 227.5px,#ffbd00 246.5px)"></i><i style="left:624px;width:4.5px;background:linear-gradient(#0017ff 38.5px,#00a0ff 47.25px,#0ff 54.49px,#7fff80 84.02px,#cdff32 127.5px,#ff0 168.3px,#ffc600 232.5px,#ffbe00 246.5px)"></i><i style="left:628px;width:4.5px;background:linear-gradient(#0016ff 38.5px,#00a0ff 47.25px,#0ff 54.57px,#7fff80 84.37px,#cdff32 127.5px,#ff0 168.9px,#ffc700 232.5px,#ffbe00 246.5px)"></i><i style="left:632px;width:4.5px;background:linear-gradient(#0016ff 38.5px,#009fff 47.25px,#0ff 54.65px,#7fff80 84.72px,#cf3 127.5px,#ff0 169.6px,#ffc700 232.5px,#ffbf00 246.5px)"></i><i style="left:636px;width:4.5px;background:linear-gradient(#0015ff 38.5px,#009fff 47.25px,#0ff 54.73px,#80ff7f 85.07px,#d2ff2d 132.5px,#ff0 170.2px,#ffc500 237.5px,#ffbf00 246.5px)"></i><i style="left:640px;width:4.5px;background:linear-gradient(#0015ff 38.5px,#009eff 47.25px,#0ff 54.81px,#80ff7f 85.42px,#d1ff2e 132.5px,#fffd00 172.5px,#ffc500 237.5px,#ffbf00 246.5px)"></i><i style="left:644px;width:4.5px;background:linear-gradient(#0014ff 38.5px,#009eff 47.25px,#0ff 54.9px,#80ff7f 85.77px,#d0ff2f 132.5px,#fffe00 172.5px,#ffc600 237.5px,#ffc000 246.5px)"></i><i style="left:648px;width:4.5px;background:linear-gradient(#0013ff 38.5px,#009dff 47.25px,#0ff 54.98px,#80ff7f 86.12px,#d0ff2f 132.5px,#ff0 172.5px,#ffc300 242.5px,#ffc000 246.5px)"></i><i style="left:652px;width:4.5px;background:linear-gradient(#0013ff 38.5px,#009dff 47.25px,#0ff 55.06px,#81ff7e 87.5px,#cfff30 132.5px,#ff0 172.7px,#ffc400 242.5px,#ffc100 246.5px)"></i><i style="left:656px;width:4.5px;background:linear-gradient(#0012ff 38.5px,#009cff 47.25px,#01fffe 55.29px,#81ff7e 87.5px,#cfff30 132.5px,#ff0 173.3px,#ffc100 246.5px)"></i><i style="left:660px;width:4.5px;background:linear-gradient(#0012ff 38.5px,#009cff 47.25px,#0ff 55.29px,#80ff7f 87.5px,#ceff31 132.5px,#ff0 174px,#ffc200 246.5px)"></i><i style="left:664px;width:4.5px;background:linear-gradient(#01f 38.5px,#009bff 47.25px,#0ff 55.3px,#80ff7f 87.5px,#ceff31 132.5px,#ff0 174.6px,#ffc200 246.5px)"></i><i style="left:668px;width:4.5px;background:linear-gradient(#01f 38.5px,#009bff 47.25px,#0ff 55.38px,#80ff7f 87.84px,#cdff32 132.5px,#ff0 175.2px,#ffc300 246.5px)"></i><i style="left:672px;width:4.5px;background:linear-gradient(#0010ff 38.5px,#009aff 47.25px,#0ff 55.46px,#7fff80 88.17px,#cdff32 132.5px,#fffe00 177.5px,#ffc300 246.5px)"></i><i style="left:676px;width:4.5px;background:linear-gradient(#000fff 38.5px,#009aff 47.25px,#0ff 55.54px,#80ff80 88.5px,#cf3 132.5px,#fffe00 177.5px,#ffc400 246.5px)"></i><i style="left:680px;width:4.5px;background:linear-gradient(#000fff 38.5px,#09f 47.25px,#0ff 55.62px,#80ff7f 88.83px,#d1ff2e 137.5px,#ff0 177.5px,#ffc500 246.5px)"></i><i style="left:684px;width:4.5px;background:linear-gradient(#000eff 38.5px,#09f 47.27px,#0ff 55.7px,#7fff80 89.16px,#d1ff2e 137.5px,#ff0 177.8px,#ffc500 246.5px)"></i><i style="left:688px;width:4.5px;background:linear-gradient(#000eff 38.5px,#09f 47.31px,#0ff 55.78px,#80ff7f 89.5px,#d0ff2f 137.5px,#ff0 178.4px,#ffc600 246.5px)"></i><i style="left:692px;width:4.5px;background:linear-gradient(#000dff 38.5px,#09f 47.36px,#0ff 55.86px,#80ff7f 89.84px,#d0ff2f 137.5px,#ff0 179.1px,#ffc700 246.5px)"></i><i style="left:696px;width:4.5px;background:linear-gradient(#000cff 38.5px,#09f 47.4px,#0ff 55.94px,#80ff7f 90.18px,#cfff30 137.5px,#ff0 179.7px,#ffc700 246.5px)"></i><i style="left:700px;width:4.5px;background:linear-gradient(#000cff 38.5px,#09f 47.44px,#0ff 56.02px,#80ff7f 90.52px,#ceff31 137.5px,#fffd00 182.5px,#ffc800 246.5px)"></i><i style="left:704px;width:4.5px;background:linear-gradient(#000bff 38.5px,#09f 47.48px,#0ff 56.1px,#7fff80 90.86px,#ceff31 137.5px,#fffe00 182.5px,#ffc900 246.5px)"></i><i style="left:708px;width:4.5px;background:linear-gradient(#000bff 38.5px,#09f 47.52px,#0ff 56.18px,#82ff7d 92.5px,#cdff32 137.5px,#fffe00 182.5px,#ffca00 246.5px)"></i><i style="left:712px;width:4.5px;background:linear-gradient(#000aff 38.5px,#09f 47.57px,#0ff 56.26px,#81ff7e 92.5px,#cdff32 137.5px,#ff0 182.5px,#ffcb00 246.5px)"></i><i style="left:716px;width:4.5px;background:linear-gradient(#0009ff 38.5px,#09f 47.61px,#0ff 56.34px,#81ff7e 92.5px,#cf3 137.5px,#ff0 183px,#ffcb00 246.5px)"></i><i style="left:720px;width:4.5px;background:linear-gradient(#0009ff 38.5px,#09f 47.65px,#0ff 56.42px,#80ff7f 92.5px,#cf3 137.6px,#ff0 183.7px,#fc0 246.5px)"></i><i style="left:724px;width:4.5px;background:linear-gradient(#0008ff 38.5px,#09f 47.69px,#0ff 56.5px,#7fff80 92.58px,#d1ff2e 142.5px,#ff0 184.3px,#ffcd00 246.5px)"></i><i style="left:728px;width:4.5px;background:linear-gradient(#0008ff 38.5px,#09f 47.74px,#0ff 56.58px,#80ff7f 92.93px,#d0ff2f 142.5px,#ff0 185px,#ffcd00 246.5px)"></i><i style="left:732px;width:4.5px;background:linear-gradient(#0007ff 38.5px,#09f 47.78px,#0ff 56.67px,#80ff7f 93.27px,#d0ff2f 142.5px,#fffd00 187.5px,#ffce00 246.5px)"></i><i style="left:736px;width:4.5px;background:linear-gradient(#0006ff 38.5px,#09f 47.82px,#0ff 56.75px,#80ff7f 93.61px,#cfff30 142.5px,#fffe00 187.5px,#ffcf00 246.5px)"></i><i style="left:740px;width:4.5px;background:linear-gradient(#0006ff 38.5px,#09f 47.87px,#0ff 56.83px,#7fff80 93.94px,#cfff30 142.5px,#ff0 187.5px,#ffcf00 246.5px)"></i><i style="left:744px;width:4.5px;background:linear-gradient(#0005ff 38.5px,#09f 47.91px,#0ff 56.91px,#80ff7f 94.28px,#ceff31 142.5px,#ff0 187.6px,#ffd000 246.5px)"></i><i style="left:748px;width:4.5px;background:linear-gradient(#0005ff 38.5px,#09f 47.96px,#0ff 56.99px,#80ff7f 94.61px,#ceff31 142.5px,#ff0 188.3px,#ffd100 246.5px)"></i><i style="left:752px;width:4.5px;background:linear-gradient(#0004ff 38.5px,#09f 48px,#0ff 57.07px,#7fff80 94.93px,#cdff32 142.5px,#ff0 188.9px,#ffd400 242.5px,#ffd200 246.5px)"></i><i style="left:756px;width:4.5px;background:linear-gradient(#0003ff 38.5px,#09f 48.04px,#0ff 57.16px,#7fff80 95.25px,#cdff32 142.5px,#ff0 189.6px,#ffd500 242.5px,#ffd200 246.5px)"></i><i style="left:760px;width:4.5px;background:linear-gradient(#0003ff 38.5px,#09f 48.09px,#0ff 57.24px,#7fff80 95.57px,#cf3 142.5px,#fffd00 192.5px,#ffd500 242.5px,#ffd300 246.5px)"></i><i style="left:764px;width:4.5px;background:linear-gradient(#0002ff 38.5px,#09f 48.13px,#0ff 57.32px,#80ff7f 95.89px,#d1ff2e 147.5px,#fffe00 192.5px,#ffd600 242.5px,#ffd300 246.5px)"></i><i style="left:768px;width:4.5px;background:linear-gradient(#0002ff 38.5px,#09f 48.18px,#0ff 57.4px,#82ff7d 97.5px,#d1ff2e 147.5px,#fffe00 192.5px,#ffd700 242.5px,#ffd400 246.5px)"></i><i style="left:772px;width:4.5px;background:linear-gradient(#0001ff 38.5px,#09f 48.22px,#0ff 57.48px,#81ff7e 97.5px,#d0ff2f 147.5px,#ff0 192.5px,#ffd700 242.5px,#ffd500 246.5px)"></i><i style="left:776px;width:4.5px;background:linear-gradient(#00f 38.5px,#09f 48.27px,#0ff 57.57px,#81ff7e 97.5px,#cfff30 147.5px,#ff0 192.7px,#ffd800 242.5px,#ffd500 246.5px)"></i><i style="left:780px;width:4.5px;background:linear-gradient(#00f 38.5px,#09f 48.31px,#0ff 57.65px,#80ff7f 97.5px,#cfff30 147.5px,#ff0 193.3px,#ffd800 242.5px,#ffd600 246.5px)"></i><i style="left:784px;width:4.5px;background:linear-gradient(#0000fe 38.5px,#09f 48.36px,#0ff 57.73px,#80ff7f 97.5px,#ceff31 147.5px,#ff0 193.9px,#ffd900 242.5px,#ffd700 246.5px)"></i><i style="left:788px;width:4.5px;background:linear-gradient(#0000fd 38.5px,#09f 48.41px,#0ff 57.82px,#80ff7f 97.64px,#ceff31 147.5px,#ff0 194.5px,#ffd900 242.5px,#ffd700 246.5px)"></i><i style="left:792px;width:4.5px;background:linear-gradient(#0000fd 38.5px,#09f 48.45px,#0ff 57.9px,#80ff7f 97.91px,#cdff32 147.5px,#fffd00 197.5px,#ffda00 242.5px,#ffd800 246.5px)"></i><i style="left:796px;width:4.5px;background:linear-gradient(#0000fc 38.5px,#09f 48.5px,#0ff 57.98px,#80ff7f 98.18px,#cdff32 147.5px,#fffe00 197.5px,#ffd800 246.5px)"></i><i style="left:800px;width:4.5px;background:linear-gradient(#0000fc 38.5px,#03f 41.97px,#09f 48.54px,#0ff 58.07px,#80ff7f 98.45px,#d1ff2e 152.5px,#fffe00 197.5px,#ffd900 246.5px)"></i><i style="left:804px;width:4.5px;background:linear-gradient(#0000fb 38.5px,#001dff 40.65px,#09f 48.59px,#0ff 58.15px,#7fff80 98.71px,#d1ff2e 152.5px,#fffe00 197.5px,#ffda00 246.5px)"></i><i style="left:808px;width:4.5px;background:linear-gradient(#0000fa 38.5px,#001dff 40.65px,#09f 48.64px,#0ff 58.23px,#7fff80 98.97px,#d0ff2f 152.5px,#ff0 197.5px,#ffda00 246.5px)"></i><i style="left:812px;width:4.5px;background:linear-gradient(#0000fa 38.5px,#000aff 39.5px,#09f 48.68px,#0ff 58.32px,#7fff80 99.23px,#d0ff2f 152.5px,#ff0 198px,#ffdb00 246.5px)"></i><i style="left:816px;width:4.5px;background:linear-gradient(#0000f9 38.5px,#000aff 39.5px,#09f 48.73px,#0ff 58.4px,#7fff80 99.49px,#cfff30 152.5px,#ff0 198.6px,#ffdb00 246.5px)"></i><i style="left:820px;width:4.5px;background:linear-gradient(#0000f9 38.5px,#0009ff 39.5px,#09f 48.78px,#0ff 58.48px,#80ff7f 99.75px,#cfff30 152.5px,#ff0 199.2px,#ffdc00 246.5px)"></i><i style="left:824px;width:4.5px;background:linear-gradient(#0000f8 38.5px,#0008ff 39.5px,#09f 48.83px,#01fffe 58.8px,#80ff7f 100px,#ceff31 152.5px,#ff0 199.7px,#ffdc00 246.5px)"></i><i style="left:828px;width:4.5px;background:linear-gradient(#0000f7 38.5px,#0008ff 39.5px,#09f 48.87px,#0ff 58.8px,#80ff7f 100.2px,#cdff32 152.5px,#fffd00 202.5px,#fd0 246.5px)"></i><i style="left:832px;width:4.5px;background:linear-gradient(#0000f7 38.5px,#0007ff 39.5px,#09f 48.92px,#0ff 58.8px,#7fff80 100.5px,#d2ff2d 157.5px,#fffe00 202.5px,#ffde00 246.5px)"></i><i style="left:836px;width:4.5px;background:linear-gradient(#0000f6 38.5px,#0007ff 39.5px,#09f 48.97px,#0ff 58.82px,#80ff7f 100.7px,#d1ff2e 157.5px,#fffe00 202.5px,#ffde00 246.5px)"></i><i style="left:840px;width:4.5px;background:linear-gradient(#0000f5 38.5px,#0006ff 39.5px,#09f 49.02px,#0ff 58.91px,#82ff7d 102.5px,#d1ff2e 157.5px,#ff0 202.5px,#ffdf00 246.5px)"></i><i style="left:844px;width:4.5px;background:linear-gradient(#0000f5 38.5px,#0005ff 39.5px,#009eff 49.57px,#0ff 58.99px,#81ff7e 102.5px,#d0ff2f 157.5px,#ff0 202.6px,#ffdf00 246.5px)"></i><i style="left:848px;width:4.5px;background:linear-gradient(#0000f4 38.5px,#0005ff 39.5px,#009eff 49.57px,#0ff 59.07px,#81ff7e 102.5px,#d0ff2f 157.5px,#ff0 203.1px,#ffe000 246.5px)"></i><i style="left:852px;width:4.5px;background:linear-gradient(#0000f4 38.5px,#0004ff 39.5px,#009dff 49.57px,#0ff 59.16px,#81ff7e 102.5px,#cfff30 157.5px,#ff0 203.7px,#ffe000 246.5px)"></i><i style="left:856px;width:4.5px;background:linear-gradient(#0000f3 38.5px,#0003ff 39.5px,#009dff 49.57px,#0ff 59.24px,#80ff7f 102.5px,#cfff30 157.5px,#ff0 204.2px,#ffe100 246.5px)"></i><i style="left:860px;width:4.5px;background:linear-gradient(#0000f2 38.5px,#0003ff 39.5px,#009cff 49.57px,#0ff 59.33px,#80ff7f 102.5px,#d3ff2c 162.5px,#ff0 204.8px,#ffe100 246.5px)"></i><i style="left:864px;width:4.5px;background:linear-gradient(#0000f2 38.5px,#0002ff 39.5px,#009cff 49.57px,#0ff 59.41px,#80ff7f 102.5px,#d3ff2c 162.5px,#fffd00 207.5px,#ffe200 246.5px)"></i><i style="left:868px;width:4.5px;background:linear-gradient(#0000f1 38.5px,#0002ff 39.5px,#009bff 49.57px,#0ff 59.5px,#7fff80 102.6px,#d2ff2d 162.5px,#fffe00 207.5px,#ffe200 246.5px)"></i><i style="left:872px;width:4.5px;background:linear-gradient(#0000f1 38.5px,#0001ff 39.5px,#009bff 49.57px,#0ff 59.59px,#80ff7f 102.8px,#d1ff2e 162.5px,#fffe00 207.5px,#ffe300 246.5px)"></i><i style="left:876px;width:4.5px;background:linear-gradient(#0000f0 38.5px,#00f 39.5px,#009aff 49.57px,#0ff 59.67px,#80ff7f 103px,#d1ff2e 162.5px,#ff0 207.5px,#ffe300 246.5px)"></i><i style="left:880px;width:4.5px;background:linear-gradient(#0000ef 38.5px,#00f 39.5px,#009aff 49.57px,#0ff 59.76px,#80ff7f 103.2px,#d0ff2f 162.5px,#ff0 207.5px,#ffe400 246.5px)"></i><i style="left:884px;width:4.5px;background:linear-gradient(#0000ef 38.5px,#0000fe 39.5px,#09f 49.57px,#0ff 59.84px,#7fff80 103.4px,#d5ff2a 167.5px,#ff0 207.9px,#ffe400 246.5px)"></i><i style="left:888px;width:4.5px;background:linear-gradient(#00e 38.5px,#0000fd 39.5px,#09f 49.6px,#0ff 59.93px,#7fff80 103.6px,#d4ff2b 167.5px,#ff0 208.5px,#ffe500 246.5px)"></i><i style="left:892px;width:4.5px;background:linear-gradient(#0000ed 38.5px,#0000fd 39.5px,#09f 49.65px,#0ff 60.01px,#80ff7f 103.8px,#d3ff2c 167.5px,#ff0 209px,#ffe500 246.5px)"></i><i style="left:896px;width:4.5px;background:linear-gradient(#0000ed 38.5px,#0000fc 39.5px,#0074ff 47.25px,#09f 49.7px,#0ff 60.1px,#80ff80 104px,#d3ff2c 167.5px,#ff0 209.5px,#ffe600 246.5px)"></i><i style="left:900px;width:4.5px;background:linear-gradient(#0000ed 38.5px,#0000fc 39.5px,#0074ff 47.25px,#09f 49.7px,#0ff 60.1px,#80ff80 104px,#d3ff2c 167.5px,#ff0 209.5px,#ffe600 246.5px)"></i><i style="left:904px;width:4.5px;background:linear-gradient(#0000ed 38.5px,#0000fc 39.5px,#0074ff 47.25px,#09f 49.7px,#0ff 60.1px,#80ff80 104px,#d3ff2c 167.5px,#ff0 209.5px,#ffe600 246.5px)"></i><i style="left:908px;width:4.5px;background:linear-gradient(#0000ed 38.5px,#0000fc 39.5px,#0074ff 47.25px,#09f 49.7px,#0ff 60.1px,#80ff80 104px,#d3ff2c 167.5px,#ff0 209.5px,#ffe600 246.5px)"></i><i style="left:912px;width:2.5px;background:linear-gradient(#0000ed 38.5px,#0000fc 39.5px,#0074ff 47.25px,#09f 49.7px,#0ff 60.1px,#80ff80 104px,#d3ff2c 167.5px,#ff0 209.5px,#ffe600 246.5px)"></i></div></div>
<div class="hm" style="top:352.7px"><div class="in"><i style="left:0px;width:4.5px;background:linear-gradient(#000080 45.23px,#00f 48.98px,#0080ff 53.98px,#0cf 54.38px,#0ff 56.8px,#3fffc0 63.3px,#80ff80 80.3px,#d6ff29 124.2px,#ff0 148.3px,#ffde00 159.2px,#ffc800 199.2px,#ff9e00 246.5px)"></i><i style="left:4px;width:4.5px;background:linear-gradient(#000080 44.28px,#00f 48.03px,#0080ff 53.04px,#0cf 54.2px,#0ff 56.8px,#3fffc0 63.3px,#80ff80 80.3px,#df2 128.3px,#ff0 148.3px,#ffde00 158.3px,#ffc800 198.3px,#ff9e00 246.5px)"></i><i style="left:8px;width:4.5px;background:linear-gradient(#000080 43.29px,#00f 47.04px,#0080ff 52.05px,#00cfff 54.36px,#0ff 56.8px,#41ffbe 63.6px,#80ff80 80.3px,#dbff24 127.3px,#ff0 148.3px,#ffde00 158.3px,#ffc500 202.3px,#ff9e00 246.5px)"></i><i style="left:12px;width:4.5px;background:linear-gradient(#000080 42.26px,#00f 46.01px,#00b7ff 53.33px,#0cf 54.2px,#0ff 56.8px,#3fffc0 63.3px,#81ff7e 81.26px,#daff25 126.3px,#ff0 148.3px,#ffde00 158.3px,#ffc600 201.3px,#ff9e00 246.5px)"></i><i style="left:16px;width:4.5px;background:linear-gradient(#000080 41.19px,#00f 44.88px,#0080ff 50.11px,#0df 54.92px,#0ff 56.8px,#3fffc0 63.42px,#80ff80 80.4px,#d7ff28 125.2px,#ff0 148.7px,#ffde00 158.8px,#ffc800 200.2px,#ff9f00 246.5px)"></i><i style="left:20px;width:4.5px;background:linear-gradient(#000080 40.1px,#00f 43.67px,#007fff 49.34px,#00d1ff 53.83px,#01fffe 56.89px,#3fffc0 63.65px,#80ff80 80.6px,#d5ff2a 124.1px,#ff0 149.5px,#ffde00 159.7px,#ffc600 204.1px,#ffa100 246.5px)"></i><i style="left:24px;width:4.5px;background:linear-gradient(#000080 39px,#00f 42.47px,#007fff 48.55px,#0cf 53.09px,#0ff 56.8px,#3fffc0 63.86px,#80ff80 80.8px,#d3ff2c 123px,#ff0 150.3px,#ffde00 160.6px,#ffc800 203px,#ffa200 246.5px)"></i><i style="left:28px;width:4.5px;background:linear-gradient(#000080 37.88px,#00f 41.24px,#007fff 47.74px,#0cf 52.66px,#0ff 56.8px,#3fffc0 64.06px,#81ff7e 81.88px,#d1ff2e 121.9px,#fffd00 151.9px,#ffde00 161.9px,#ffc600 206.9px,#ffa400 246.5px)"></i><i style="left:32px;width:4.5px;background:linear-gradient(#000080 36.77px,#00f 40.05px,#0080ff 46.92px,#0cf 52.25px,#0ff 56.8px,#3fffc0 64.23px,#80ff80 81.2px,#ceff31 120.8px,#ff0 151.9px,#ffde00 162.4px,#ffc800 205.8px,#ffa500 246.5px)"></i><i style="left:36px;width:4.5px;background:linear-gradient(#000080 35.66px,#00f 38.87px,#007fff 46.08px,#00d2ff 52.45px,#0ff 56.8px,#40ffbf 64.66px,#80ff80 81.4px,#d4ff2b 124.7px,#ff0 152.7px,#ffde00 163.3px,#ffc600 209.7px,#ffa700 246.5px)"></i><i style="left:40px;width:4.5px;background:linear-gradient(#000080 34.57px,#00f 37.73px,#0084ff 45.64px,#0cf 51.48px,#0ff 56.8px,#3fffc0 64.54px,#80ff80 81.6px,#d2ff2d 123.6px,#ff0 153.6px,#ffde00 164.3px,#ffc900 208.6px,#ffa900 246.5px)"></i><i style="left:44px;width:4.5px;background:linear-gradient(#000080 33.51px,#00f 36.63px,#0081ff 44.58px,#0cf 51.12px,#0ff 56.8px,#3fffc0 64.67px,#81ff7e 82.51px,#d0ff2f 122.5px,#ff0 154.3px,#ffde00 165.2px,#ffc700 212.5px,#fa0 246.5px)"></i><i style="left:48px;width:4.5px;background:linear-gradient(#000080 32.48px,#00f 35.59px,#007fff 43.59px,#0cf 50.78px,#0ff 56.83px,#3fffc0 64.78px,#80ff80 82px,#ceff31 121.5px,#ff0 155.1px,#ffde00 166.5px,#ffc900 211.5px,#ffac00 246.5px)"></i><i style="left:52px;width:4.5px;background:linear-gradient(#000080 31.49px,#00f 34.6px,#0080ff 42.79px,#00d7ff 51.8px,#0ff 56.8px,#42ffbd 65.5px,#80ff80 82.2px,#cf3 120.5px,#ff0 155.9px,#ffde00 167.1px,#ffc700 215.5px,#ffad00 246.5px)"></i><i style="left:56px;width:4.5px;background:linear-gradient(#000080 30.56px,#00f 33.68px,#0080ff 42.03px,#00d1ff 50.86px,#0ff 56.78px,#3fffc0 64.97px,#7fff80 82.4px,#d2ff2d 124.6px,#ff0 156.7px,#ffde00 168.1px,#ffc900 214.6px,#ffaf00 246.5px)"></i><i style="left:60px;width:4.5px;background:linear-gradient(#000080 29.68px,#00f 32.86px,#007fff 41.32px,#00cdff 49.98px,#0ff 56.74px,#3fffc0 65.04px,#82ff7d 83.68px,#d0ff2f 123.7px,#ff0 157.5px,#ffde00 169px,#ffc700 218.7px,#ffb000 246.5px)"></i><i style="left:64px;width:4.5px;background:linear-gradient(#000080 28.86px,#00f 32.12px,#007fff 40.68px,#0cf 49.63px,#0ff 56.67px,#3fffc0 65.11px,#7fff80 82.89px,#cfff30 122.9px,#ff0 158.3px,#ffde00 170px,#ffc900 217.9px,#ffb200 246.5px)"></i><i style="left:68px;width:4.5px;background:linear-gradient(#000080 28.11px,#00f 31.47px,#007fff 40.1px,#0cf 49.39px,#0ff 56.59px,#3fffc0 65.16px,#80ff7f 83.16px,#cdff32 122.1px,#ff0 159.1px,#ffde00 170.9px,#ffc700 222.1px,#ffb300 246.5px)"></i><i style="left:72px;width:4.5px;background:linear-gradient(#000080 27.44px,#00f 30.91px,#007fff 39.59px,#00deff 51.79px,#0ff 56.49px,#3fffc0 65.2px,#7fff80 83.42px,#cf3 121.4px,#ff0 159.9px,#ffde00 171.9px,#ffc900 221.4px,#ffb400 246.5px)"></i><i style="left:76px;width:4.5px;background:linear-gradient(#000080 26.85px,#00f 30.43px,#0080ff 39.15px,#00dbff 51.2px,#0ff 56.38px,#42ffbd 65.85px,#7fff80 83.67px,#cf3 121.7px,#ff0 160.8px,#ffde00 172.9px,#ffc700 225.8px,#ffb600 246.5px)"></i><i style="left:80px;width:4.5px;background:linear-gradient(#000080 26.34px,#00f 30.03px,#007fff 38.77px,#00d9ff 50.69px,#0ff 56.25px,#40ffbf 65.35px,#82ff7d 85.35px,#d0ff2f 125.3px,#ff0 161.5px,#ffde00 173.9px,#ffc800 225.3px,#ffb700 246.5px)"></i><i style="left:84px;width:4.5px;background:linear-gradient(#000080 25.93px,#00f 29.72px,#0080ff 38.47px,#0ff 56.12px,#3fffc0 65.28px,#81ff7e 84.93px,#d0ff2f 124.9px,#ff0 162.3px,#ffde00 174.9px,#ffca00 224.9px,#ffb800 246.5px)"></i><i style="left:88px;width:4.5px;background:linear-gradient(#000080 25.6px,#00f 29.48px,#0080ff 38.24px,#0ff 55.97px,#3fffc0 65.29px,#80ff7f 84.6px,#cfff30 124.6px,#ff0 163.1px,#ffde00 175.9px,#ffc700 229.6px,#ffba00 246.5px)"></i><i style="left:92px;width:4.5px;background:linear-gradient(#000080 25.37px,#00f 29.32px,#007fff 38.07px,#0ff 55.82px,#3fffc0 65.3px,#80ff7f 84.37px,#cfff30 124.4px,#fffe00 164.4px,#ffde00 176.9px,#ffc900 229.4px,#fb0 246.5px)"></i><i style="left:96px;width:4.5px;background:linear-gradient(#000080 25.24px,#00f 29.23px,#0080ff 37.98px,#0ff 55.67px,#3fffc0 65.29px,#7fff80 84.29px,#ceff31 124.2px,#ff0 164.7px,#ffde00 177.9px,#ffca00 229.2px,#ffbc00 246.5px)"></i><i style="left:100px;width:4.5px;background:linear-gradient(#000080 25.2px,#00f 29.2px,#0080ff 37.95px,#0ff 55.51px,#3fffc0 65.24px,#80ff7f 84.23px,#ceff31 124.2px,#ff0 165.5px,#ffde00 179.2px,#ffc700 234.2px,#ffbd00 246.5px)"></i><i style="left:104px;width:4.5px;background:linear-gradient(#000080 25.26px,#00f 29.25px,#007fff 37.93px,#0ff 55.27px,#3fffc0 65.13px,#80ff7f 84.26px,#ceff31 124.3px,#ff0 166.3px,#ffde00 180px,#ffc900 234.3px,#ffbf00 246.5px)"></i><i style="left:108px;width:4.5px;background:linear-gradient(#000080 25.42px,#00f 29.37px,#0080ff 37.92px,#00d6ff 49.77px,#0ff 54.96px,#3fffc0 64.98px,#80ff7f 84.42px,#ceff31 124.4px,#ff0 167.1px,#ffde00 181px,#ffca00 234.4px,#ffc000 246.5px)"></i><i style="left:112px;width:4.5px;background:linear-gradient(#000080 25.67px,#00f 29.58px,#0080ff 37.93px,#00d8ff 50.02px,#01fffe 54.68px,#3fffc0 64.78px,#81ff7e 84.68px,#cfff30 124.7px,#ff0 167.9px,#ffde00 182.1px,#ffca00 234.7px,#ffc100 246.5px)"></i><i style="left:116px;width:4.5px;background:linear-gradient(#000080 26.02px,#00f 29.87px,#007fff 37.96px,#0cf 48.61px,#0ff 54.18px,#41ffbe 65.02px,#82ff7d 85.02px,#cfff30 125px,#ff0 168.7px,#ffde00 183.1px,#ffc700 240px,#ffc200 246.5px)"></i><i style="left:120px;width:4.5px;background:linear-gradient(#000080 26.46px,#00f 30.24px,#0080ff 38.05px,#0cf 48.67px,#0ff 53.78px,#3fffc0 64.31px,#80ff7f 83.26px,#cf3 122.3px,#fffd00 170.5px,#ffde00 185.5px,#ffc800 240.5px,#ffc300 246.5px)"></i><i style="left:124px;width:4.5px;background:linear-gradient(#000080 26.99px,#00f 30.69px,#0080ff 38.19px,#0cf 48.73px,#0ff 53.4px,#3fffc0 64.03px,#80ff7f 82.99px,#cf3 122.3px,#fffd00 171px,#ffde00 186px,#ffc900 241px,#ffc400 246.5px)"></i><i style="left:128px;width:4.5px;background:linear-gradient(#000080 27.6px,#00f 31.22px,#007fff 38.39px,#0cf 48.81px,#0ff 53.06px,#3fffc0 63.75px,#7fff80 82.71px,#cf3 122.3px,#fffe00 171.6px,#ffde00 186.6px,#ffc900 241.6px,#ffc600 246.5px)"></i><i style="left:132px;width:4.5px;background:linear-gradient(#000080 28.29px,#00f 31.83px,#007fff 38.67px,#0cf 48.9px,#0ff 52.8px,#3fffc0 63.45px,#7fff80 82.43px,#cf3 122.3px,#fffe00 172.3px,#ffde00 187.3px,#ffca00 242.3px,#ffc700 246.5px)"></i><i style="left:136px;width:4.5px;background:linear-gradient(#000080 29.06px,#00f 32.53px,#0080ff 39.04px,#00d1ff 49.36px,#0ff 52.64px,#3fffc0 63.15px,#81ff7e 83.06px,#cdff32 123.1px,#fffe00 173.1px,#ffde00 188.4px,#ffc800 246.5px)"></i><i style="left:140px;width:4.5px;background:linear-gradient(#000080 29.89px,#00f 33.27px,#0080ff 39.5px,#0cf 49.1px,#0ff 52.6px,#3fffc0 62.85px,#80ff7f 81.77px,#ceff31 123.9px,#fffe00 173.9px,#ffde00 189.5px,#ffc900 246.5px)"></i><i style="left:144px;width:4.5px;background:linear-gradient(#000080 30.79px,#00f 34.08px,#007fff 39.97px,#0cf 49.22px,#0ff 52.62px,#3fffc0 62.57px,#80ff80 81.3px,#ceff31 124.8px,#fffe00 174.8px,#ffde00 190.6px,#ffca00 246.5px)"></i><i style="left:148px;width:4.5px;background:linear-gradient(#000080 31.74px,#00f 34.93px,#0080ff 40.49px,#0cf 49.34px,#0ff 52.66px,#3fffc0 62.29px,#80ff7f 80.78px,#cfff30 125.7px,#fffe00 175.7px,#ffde00 191.7px,#ffcb00 246.5px)"></i><i style="left:152px;width:4.5px;background:linear-gradient(#000080 32.73px,#00f 35.82px,#007fff 40.92px,#00cdff 49.52px,#0ff 52.72px,#3fffc0 62.04px,#82ff7d 81.74px,#cf3 122.8px,#fffd00 176.7px,#ffde00 192.8px,#fc0 246.5px)"></i><i style="left:156px;width:4.5px;background:linear-gradient(#000080 33.77px,#00f 36.75px,#0080ff 41.43px,#0cf 49.61px,#0ff 52.8px,#3fffc0 61.82px,#7fff80 79.7px,#cf3 123px,#fffd00 177.8px,#ffde00 193.8px,#fc0 246.5px)"></i><i style="left:160px;width:4.5px;background:linear-gradient(#000080 34.84px,#00f 37.7px,#0080ff 41.98px,#0cf 49.76px,#0ff 52.89px,#3fffc0 61.62px,#7fff80 79.21px,#cdff32 123.8px,#ff0 177.4px,#ffde00 194.9px,#ffcd00 246.5px)"></i><i style="left:164px;width:4.5px;background:linear-gradient(#000080 35.93px,#00f 38.69px,#0081ff 42.68px,#0cf 49.91px,#0ff 53px,#3fffc0 61.47px,#81ff7e 79.94px,#cdff32 124.9px,#ff0 178.2px,#ffde00 196px,#ffce00 246.5px)"></i><i style="left:168px;width:4.5px;background:linear-gradient(#000080 37.04px,#00f 39.7px,#0080ff 43.26px,#0cf 50.07px,#0ff 53.12px,#3fffc0 61.39px,#7fff80 78.49px,#ceff31 126.1px,#ff0 179px,#ffde00 197.1px,#ffcf00 246.5px)"></i><i style="left:172px;width:4.5px;background:linear-gradient(#000080 38.16px,#00f 40.73px,#007fff 44.01px,#0cf 50.23px,#0ff 53.26px,#3fffc0 61.31px,#7fff80 78.32px,#cfff30 127.2px,#ff0 179.9px,#ffde00 198.1px,#ffd000 246.5px)"></i><i style="left:176px;width:4.5px;background:linear-gradient(#000080 39.27px,#00f 41.77px,#007fff 44.87px,#0cf 50.4px,#0ff 53.4px,#3fffc0 61.32px,#80ff7f 78.33px,#cf3 124.5px,#ff0 180.8px,#ffde00 199.2px,#ffd100 246.5px)"></i><i style="left:180px;width:4.5px;background:linear-gradient(#000080 40.38px,#00f 42.82px,#007fff 45.78px,#00daff 51.44px,#0ff 53.62px,#3fffc0 61.5px,#81ff7e 79.38px,#cf3 124.9px,#ff0 181.7px,#ffde00 200.3px,#ffd100 246.5px)"></i><i style="left:184px;width:4.5px;background:linear-gradient(#000080 41.46px,#00f 43.84px,#007fff 46.68px,#0ff 53.97px,#3fffc0 61.83px,#80ff7f 78.89px,#cf3 125.6px,#ff0 182.7px,#ffde00 201.4px,#ffd200 246.5px)"></i><i style="left:188px;width:4.5px;background:linear-gradient(#000080 42.52px,#00f 44.84px,#007fff 47.56px,#00f0ff 53.59px,#0ff 54.42px,#41ffbe 62.83px,#7fff80 79.39px,#cf3 126.5px,#ff0 183.7px,#ffde00 202.5px,#ffd300 246.5px)"></i><i style="left:192px;width:4.5px;background:linear-gradient(#000080 43.54px,#00f 45.81px,#007fff 48.42px,#00cfff 52.3px,#0ff 54.95px,#3fffc0 62.86px,#80ff7f 80.02px,#cf3 127.6px,#ff0 184.8px,#ffde00 203.6px,#ffd400 246.5px)"></i><i style="left:196px;width:4.5px;background:linear-gradient(#000080 44.53px,#00f 46.74px,#0080ff 49.26px,#00d5ff 53.28px,#0ff 55.59px,#3fffc0 63.51px,#80ff7f 80.73px,#cdff32 128.5px,#ff0 185.8px,#ffde00 204.7px,#ffd400 246.5px)"></i><i style="left:200px;width:4.5px;background:linear-gradient(#000080 45.46px,#00f 47.63px,#007fff 50.06px,#00d9ff 54.21px,#0ff 56.18px,#3fffc0 64.22px,#7fff80 81.5px,#cdff32 129.5px,#ff0 186.9px,#ffde00 205.8px,#ffd500 246.5px)"></i><i style="left:204px;width:4.5px;background:linear-gradient(#000080 46.33px,#0001ff 48.48px,#0080ff 50.84px,#00dcff 55.08px,#0ff 56.84px,#3fffc0 64.96px,#80ff7f 82.31px,#cf3 130.3px,#ff0 187.9px,#ffde00 207px,#ffd600 246.5px)"></i><i style="left:208px;width:4.5px;background:linear-gradient(#000080 47.14px,#0002ff 49.29px,#0080ff 51.58px,#0ff 57.49px,#3fffc0 65.71px,#7fff80 83.12px,#cf3 131.1px,#ff0 188.9px,#ffde00 208.2px,#ffd600 246.5px)"></i><i style="left:212px;width:4.5px;background:linear-gradient(#000080 47.87px,#0002ff 50.02px,#0080ff 52.28px,#0ff 58.11px,#3fffc0 66.45px,#80ff7f 83.92px,#cf3 131.9px,#ff0 189.8px,#ffde00 209.4px,#ffd700 246.5px)"></i><i style="left:216px;width:4.5px;background:linear-gradient(#000080 48.54px,#00f 50.64px,#007fff 52.94px,#00dcff 57.29px,#0ff 58.69px,#3fffc0 67.17px,#80ff7f 84.69px,#cf3 132.8px,#ff0 190.7px,#ffde00 212.5px,#ffd700 246.5px)"></i><i style="left:220px;width:4.5px;background:linear-gradient(#000080 49.12px,#0002ff 51.27px,#0080ff 53.56px,#0cf 57.4px,#0ff 59.31px,#3fffc0 67.99px,#7fff80 85.55px,#cf3 133.9px,#fffd00 193.1px,#ffde00 213.1px,#ffd800 246.5px)"></i><i style="left:224px;width:4.5px;background:linear-gradient(#000080 49.61px,#0001ff 51.76px,#007fff 54.11px,#00d4ff 58.37px,#0ff 59.95px,#3fffc0 68.92px,#7fff80 86.5px,#cfff30 138.6px,#fffd00 193.6px,#ffde00 213.6px,#ffd800 246.5px)"></i><i style="left:228px;width:4.5px;background:linear-gradient(#000080 50.02px,#00f 52.18px,#0080ff 54.61px,#00ceff 58.77px,#0ff 60.61px,#41ffbe 70.32px,#80ff7f 87.52px,#ceff31 139px,#fffe00 194px,#ffde00 214.7px,#ffd900 246.5px)"></i><i style="left:232px;width:4.5px;background:linear-gradient(#000080 50.33px,#00f 52.53px,#0080ff 55.03px,#0cf 59.2px,#0ff 61.25px,#3fffc0 70.97px,#81ff7e 89.33px,#ceff31 139.3px,#ff0 194.3px,#ffde00 216.1px,#ffd900 246.5px)"></i><i style="left:236px;width:4.5px;background:linear-gradient(#000080 50.55px,#00f 52.79px,#007fff 55.37px,#0cf 59.6px,#0ff 61.88px,#3fffc0 72.03px,#7fff80 89.67px,#cdff32 139.6px,#ff0 194.8px,#ffde00 219.6px,#ffd900 246.5px)"></i><i style="left:240px;width:4.5px;background:linear-gradient(#000080 50.67px,#00f 52.96px,#0080ff 55.67px,#0ff 62.46px,#3fffc0 73.09px,#80ff7f 90.77px,#cf3 140.1px,#ff0 195.6px,#ffde00 219.7px,#ffda00 246.5px)"></i><i style="left:244px;width:4.5px;background:linear-gradient(#000080 50.7px,#00f 53.07px,#007fff 55.84px,#00eaff 61.76px,#0ff 63.03px,#43ffbc 75.05px,#80ff7f 91.84px,#cfff30 144.7px,#ff0 196.3px,#ffde00 220.7px,#ffda00 246.5px)"></i><i style="left:248px;width:4.5px;background:linear-gradient(#000080 50.62px,#00f 53.18px,#0080ff 56.07px,#0cf 60.15px,#0ff 63.62px,#3fffc0 75.06px,#7fff80 92.87px,#ceff31 144.6px,#ff0 197.1px,#ffde00 224.6px,#ffda00 246.5px)"></i><i style="left:252px;width:4.5px;background:linear-gradient(#000080 50.45px,#00f 53.25px,#007fff 56.28px,#0cf 60.29px,#0ff 64.21px,#3fffc0 75.92px,#80ff7f 94.45px,#cdff32 144.4px,#fffd00 199.4px,#ffde00 224.4px,#ffdb00 246.5px)"></i><i style="left:256px;width:4.5px;background:linear-gradient(#000080 50.19px,#00f 53.26px,#0080ff 56.46px,#0cf 60.42px,#0ff 64.73px,#3fffc0 76.67px,#7fff80 94.74px,#d0ff2f 149.2px,#fffe00 199.2px,#ffde00 225.7px,#ffdb00 246.5px)"></i><i style="left:260px;width:4.5px;background:linear-gradient(#000080 49.83px,#00f 53.16px,#0080ff 56.57px,#0cf 60.54px,#0ff 65.15px,#4fb 78.83px,#80ff7f 95.62px,#cfff30 148.8px,#ff0 199.5px,#ffde00 228.8px,#ffdb00 246.5px)"></i><i style="left:264px;width:4.5px;background:linear-gradient(#000080 49.38px,#00f 52.93px,#0080ff 56.58px,#0cf 60.65px,#0ff 65.4px,#40ffbf 78.38px,#80ff7f 96.48px,#cdff32 148.4px,#ff0 200.2px,#ffde00 229.2px,#ffdb00 246.5px)"></i><i style="left:268px;width:4.5px;background:linear-gradient(#000080 48.84px,#00f 52.57px,#0080ff 56.51px,#0cf 60.76px,#0ff 65.62px,#3fffc0 78.84px,#80ff7f 97.84px,#d1ff2e 152.8px,#fffd00 202.8px,#ffde00 232.8px,#ffdc00 246.5px)"></i><i style="left:272px;width:4.5px;background:linear-gradient(#000080 48.22px,#00f 52.12px,#007fff 56.38px,#0cf 60.85px,#0ff 65.65px,#3fffc0 79.52px,#80ff7f 98.15px,#cfff30 152.2px,#fffe00 202.2px,#ffde00 232.8px,#ffdc00 246.5px)"></i><i style="left:276px;width:4.5px;background:linear-gradient(#000080 47.51px,#00f 51.58px,#0080ff 56.27px,#00cfff 61.24px,#0ff 65.75px,#4fb 81.52px,#7fff80 98.95px,#cdff32 151.5px,#ff0 202.5px,#ffde00 236.5px,#ffdc00 246.5px)"></i><i style="left:280px;width:4.5px;background:linear-gradient(#000080 46.74px,#00f 50.97px,#0080ff 55.99px,#0cf 61.01px,#0ff 65.82px,#3fffc0 80.75px,#81ff7e 100.7px,#d1ff2e 155.7px,#fffd00 205.7px,#ffde00 236.7px,#ffdc00 246.5px)"></i><i style="left:284px;width:4.5px;background:linear-gradient(#000080 45.9px,#00f 50.28px,#007fff 55.72px,#0cf 61.08px,#0ff 65.89px,#4bffb4 84.9px,#7fff80 100.5px,#cfff30 154.9px,#fffe00 204.9px,#ffde00 239.9px,#fd0 246.5px)"></i><i style="left:288px;width:4.5px;background:linear-gradient(#000080 45px,#00f 49.53px,#007fff 55.42px,#00d3ff 61.78px,#0ff 65.95px,#47ffb8 84px,#7fff80 101.2px,#cdff32 154px,#ff0 204.9px,#ffde00 244px,#fd0 246.5px)"></i><i style="left:292px;width:4.5px;background:linear-gradient(#000080 44.04px,#00f 48.72px,#0080ff 55.11px,#0cf 61.16px,#0ff 66.02px,#42ffbd 83.04px,#81ff7e 103px,#d0ff2f 158px,#fffd00 208px,#fd0 246.5px)"></i><i style="left:296px;width:4.5px;background:linear-gradient(#000080 43.04px,#00f 47.86px,#0080ff 54.72px,#00e2ff 63.34px,#0ff 66.09px,#3fffc0 82.45px,#80ff7f 102.6px,#ceff31 157px,#ff0 207px,#ffde00 246.5px)"></i><i style="left:300px;width:4.5px;background:linear-gradient(#000080 42px,#0001ff 46.99px,#007fff 54.33px,#00d7ff 62.3px,#01fffe 66.35px,#4affb5 86px,#7fff80 103.3px,#d1ff2e 161px,#ff0 207.8px,#ffde00 246.5px)"></i><i style="left:304px;width:4.5px;background:linear-gradient(#000080 40.92px,#00f 46.03px,#007fff 53.95px,#0ff 66.28px,#45ffba 84.92px,#81ff7e 104.9px,#cfff30 159.9px,#fffe00 209.9px,#ffdf00 246.5px)"></i><i style="left:308px;width:4.5px;background:linear-gradient(#000080 39.83px,#00f 45.07px,#0080ff 53.64px,#0ff 66.39px,#41ffbe 83.83px,#80ff7f 104.5px,#ceff31 158.8px,#ff0 210.2px,#ffdf00 246.5px)"></i><i style="left:312px;width:4.5px;background:linear-gradient(#000080 38.72px,#00f 44.1px,#0080ff 53.38px,#0ff 66.51px,#3fffc0 83.34px,#80ff7f 105.1px,#d1ff2e 162.7px,#fffe00 212.7px,#ffe000 246.5px)"></i><i style="left:316px;width:4.5px;background:linear-gradient(#000080 37.6px,#00f 43.12px,#0080ff 53.15px,#0ff 66.64px,#48ffb7 86.6px,#81ff7e 106.6px,#cfff30 161.6px,#ff0 212.6px,#ffe100 246.5px)"></i><i style="left:320px;width:4.5px;background:linear-gradient(#000080 36.49px,#00f 42.14px,#0083ff 53.27px,#0ff 66.76px,#45ffba 85.49px,#80ff7f 106.3px,#cdff32 160.5px,#fffe00 215.5px,#ffe100 246.5px)"></i><i style="left:324px;width:4.5px;background:linear-gradient(#000080 35.39px,#00f 41.17px,#0080ff 52.71px,#0ff 66.89px,#41ffbe 84.39px,#7fff80 106.8px,#d0ff2f 164.4px,#ff0 215.2px,#ffe200 246.5px)"></i><i style="left:328px;width:4.5px;background:linear-gradient(#000080 34.3px,#00f 40.21px,#0080ff 52.46px,#0ff 67.01px,#3fffc0 84.02px,#81ff7e 108.3px,#ceff31 163.3px,#fffd00 218.3px,#ffe300 246.5px)"></i><i style="left:332px;width:4.5px;background:linear-gradient(#000080 33.25px,#00f 39.28px,#008bff 53.55px,#0ff 67.25px,#3fffc0 84.2px,#7fff80 108px,#d1ff2e 167.2px,#ff0 217.7px,#ffe400 246.5px)"></i><i style="left:336px;width:4.5px;background:linear-gradient(#000080 32.23px,#00f 38.39px,#0085ff 52.53px,#0ff 67.23px,#4fb 86.23px,#7fff80 108.6px,#cfff30 166.2px,#fffd00 221.2px,#ffe500 246.5px)"></i><i style="left:340px;width:4.5px;background:linear-gradient(#000080 31.26px,#00f 37.54px,#0081ff 51.56px,#0ff 67.32px,#41ffbe 85.26px,#81ff7e 110.3px,#cdff32 165.3px,#ff0 220.3px,#ffe600 246.5px)"></i><i style="left:344px;width:4.5px;background:linear-gradient(#000080 30.33px,#00f 36.75px,#0080ff 50.97px,#0ff 67.41px,#3fffc0 84.89px,#7fff80 110.1px,#d0ff2f 169.3px,#ff0 221.4px,#ffe700 246.5px)"></i><i style="left:348px;width:4.5px;background:linear-gradient(#000080 29.47px,#00f 36.03px,#0080ff 50.62px,#0ff 67.5px,#3fffc0 85.16px,#80ff7f 110.9px,#ceff31 168.5px,#fffe00 223.5px,#ffe800 246.5px)"></i><i style="left:352px;width:4.5px;background:linear-gradient(#000080 28.67px,#00f 35.41px,#0080ff 50.32px,#0ff 67.67px,#45ffba 87.67px,#81ff7e 112.7px,#cdff32 167.7px,#ff0 224px,#ffe900 246.5px)"></i><i style="left:356px;width:4.5px;background:linear-gradient(#000080 27.94px,#00f 34.8px,#008fff 52.29px,#0ff 67.69px,#42ffbd 86.94px,#80ff7f 112.4px,#d0ff2f 171.9px,#fffd00 226.9px,#ffeb00 246.5px)"></i><i style="left:360px;width:4.5px;background:linear-gradient(#000080 27.29px,#00f 34.29px,#008cff 51.64px,#0ff 67.77px,#40ffbf 86.29px,#80ff7f 113.1px,#ceff31 171.3px,#ff0 226.4px,#ffec00 246.5px)"></i><i style="left:364px;width:4.5px;background:linear-gradient(#000080 26.72px,#00f 33.86px,#0089ff 51.07px,#0ff 67.85px,#3fffc0 86.08px,#82ff7d 115.7px,#d1ff2e 175.7px,#ff0 227.6px,#ffed00 246.5px)"></i><i style="left:368px;width:4.5px;background:linear-gradient(#000080 26.23px,#00f 33.5px,#0086ff 50.58px,#0ff 67.92px,#3fffc0 86.22px,#81ff7e 115.2px,#d0ff2f 175.2px,#fffe00 230.2px,#fe0 246.5px)"></i><i style="left:372px;width:4.5px;background:linear-gradient(#000080 25.84px,#00f 33.2px,#0084ff 50.19px,#0ff 67.98px,#3fffc0 86.29px,#80ff7f 114.8px,#cfff30 174.8px,#ff0 229.8px,#fe0 246.5px)"></i><i style="left:376px;width:4.5px;background:linear-gradient(#000080 25.54px,#00f 32.98px,#0083ff 49.88px,#0ff 68.02px,#3fffc0 86.3px,#80ff7f 114.5px,#ceff31 174.5px,#ff0 230.8px,#ffef00 246.5px)"></i><i style="left:380px;width:4.5px;background:linear-gradient(#000080 25.33px,#00f 32.82px,#0082ff 49.68px,#0ff 68.04px,#3fffc0 86.3px,#80ff7f 114.3px,#d1ff2e 179.3px,#ff0 231.7px,#fff000 246.5px)"></i><i style="left:384px;width:4.5px;background:linear-gradient(#000080 25.22px,#00f 32.72px,#0082ff 49.57px,#0ff 68.05px,#3fffc0 86.3px,#80ff80 114.3px,#d0ff2f 179.2px,#fffd00 234.2px,#fff100 246.5px)"></i><i style="left:388px;width:4.5px;background:linear-gradient(#000080 25.21px,#00f 32.62px,#0084ff 49.56px,#0ff 68.05px,#3fffc0 86.3px,#80ff80 114.3px,#cfff30 179.2px,#fffe00 234.2px,#fff200 246.5px)"></i><i style="left:392px;width:4.5px;background:linear-gradient(#000080 25.29px,#00f 32.52px,#0087ff 49.64px,#00e8ff 64.29px,#0ff 68.05px,#3fffc0 86.3px,#80ff80 114.3px,#cfff30 179.3px,#ff0 234.3px,#fff300 246.5px)"></i><i style="left:396px;width:4.5px;background:linear-gradient(#000080 25.47px,#00f 32.44px,#008cff 49.82px,#00ceff 59.48px,#0ff 68.05px,#3fffc0 86.3px,#80ff7f 114.5px,#d3ff2c 184.5px,#ff0 234.8px,#fff400 246.5px)"></i><i style="left:400px;width:4.5px;background:linear-gradient(#000080 25.75px,#0001ff 32.5px,#007fff 47.32px,#00d3ff 59.75px,#0ff 68.05px,#3fffc0 86.3px,#80ff7f 114.8px,#d2ff2d 184.8px,#ff0 235.5px,#fff500 246.5px)"></i><i style="left:404px;width:4.5px;background:linear-gradient(#000080 26.12px,#00f 32.39px,#0080ff 46.64px,#0cf 57.69px,#0ff 68.05px,#3fffc0 86.3px,#80ff7f 115.1px,#d2ff2d 185.1px,#ff0 236.2px,#fff600 246.5px)"></i><i style="left:408px;width:4.5px;background:linear-gradient(#000080 26.59px,#00f 32.47px,#0086ff 46.89px,#0cf 56.89px,#0ff 68.05px,#3fffc0 86.3px,#81ff7e 115.6px,#d2ff2d 185.6px,#ff0 237px,#fff700 246.5px)"></i><i style="left:412px;width:4.5px;background:linear-gradient(#000080 27.14px,#00f 32.63px,#007fff 45.31px,#0cf 56.14px,#0ff 68.05px,#3fffc0 86.3px,#82ff7d 116.1px,#d1ff2e 186.1px,#ff0 237.9px,#fff800 246.5px)"></i><i style="left:416px;width:4.5px;background:linear-gradient(#000080 27.77px,#00f 32.89px,#0080ff 44.77px,#0cf 55.43px,#0ff 68.05px,#41ffbe 86.77px,#7fff80 114.3px,#d1ff2e 186.8px,#ff0 238.8px,#fff800 246.5px)"></i><i style="left:420px;width:4.5px;background:linear-gradient(#000080 28.48px,#00f 33.27px,#007fff 44.35px,#0cf 54.85px,#0ff 68.05px,#43ffbc 87.48px,#80ff7f 114.2px,#d6ff29 192.5px,#fffd00 242.5px,#fff900 246.5px)"></i><i style="left:424px;width:4.5px;background:linear-gradient(#000080 29.26px,#00f 33.77px,#0080ff 44.12px,#0cf 54.43px,#01fffe 68.26px,#3fffc0 85.8px,#7fff80 114.1px,#d6ff29 193.3px,#fffd00 243.3px,#fffa00 246.5px)"></i><i style="left:428px;width:4.5px;background:linear-gradient(#000080 30.11px,#00f 34.41px,#0080ff 44.06px,#00cdff 54.46px,#0ff 68px,#3fffc0 85.39px,#80ff7f 114.1px,#d6ff29 194.1px,#fffd00 244.1px,#fffb00 246.5px)"></i><i style="left:432px;width:4.5px;background:linear-gradient(#000080 31.02px,#00f 35.11px,#0080ff 44px,#0cf 53.99px,#0ff 67.63px,#40ffbf 85.02px,#81ff7e 115px,#d6ff29 195px,#fffd00 245px,#fffc00 246.5px)"></i><i style="left:436px;width:4.5px;background:linear-gradient(#000080 31.98px,#00f 35.88px,#0080ff 43.93px,#0cf 53.8px,#0ff 66.98px,#43ffbc 85.98px,#7fff80 113.5px,#d6ff29 196px,#fffd00 246.5px)"></i><i style="left:440px;width:4.5px;background:linear-gradient(#000080 32.99px,#00f 36.69px,#0081ff 44.06px,#0cf 53.62px,#0ff 66.13px,#3fffc0 83.82px,#80ff7f 113.3px,#d6ff29 197px,#fffe00 246.5px)"></i><i style="left:444px;width:4.5px;background:linear-gradient(#000080 34.04px,#00f 37.55px,#0080ff 43.89px,#0cf 53.46px,#0ff 65.17px,#3fffc0 83.3px,#80ff7f 113px,#d6ff29 198px,#ff0 246.5px)"></i><i style="left:448px;width:4.5px;background:linear-gradient(#000080 35.11px,#00f 38.46px,#007fff 43.98px,#0cf 53.32px,#0ff 64.19px,#42ffbd 84.11px,#81ff7e 114.1px,#d6ff29 199.1px,#feff01 246.5px)"></i><i style="left:452px;width:4.5px;background:linear-gradient(#000080 36.21px,#00f 39.41px,#0080ff 44.2px,#0cf 53.21px,#0ff 63.28px,#3fffc0 82.45px,#7fff80 112.4px,#daff25 205.2px,#fdff02 246.5px)"></i><i style="left:456px;width:4.5px;background:linear-gradient(#000080 37.32px,#00f 40.39px,#0080ff 44.56px,#0cf 53.12px,#0ff 62.51px,#3fffc0 82.17px,#7fff80 112.2px,#dbff24 206.3px,#fcff03 246.5px)"></i><i style="left:460px;width:4.5px;background:linear-gradient(#000080 38.44px,#00f 41.41px,#0080ff 45.18px,#0cf 53.07px,#0ff 61.99px,#41ffbe 82.44px,#80ff7f 112.4px,#dbff24 207.4px,#fbff04 246.5px)"></i><i style="left:464px;width:4.5px;background:linear-gradient(#000080 39.55px,#00f 42.45px,#007fff 45.85px,#00cdff 53.28px,#0ff 61.8px,#4fb 83.55px,#82ff7d 113.6px,#dbff24 208.6px,#faff05 246.5px)"></i><i style="left:468px;width:4.5px;background:linear-gradient(#000080 40.65px,#00f 43.5px,#0080ff 46.72px,#0cf 53.18px,#0ff 61.8px,#3fffc0 81.34px,#80ff7f 110.8px,#dbff24 209.7px,#f9ff06 246.5px)"></i><i style="left:472px;width:4.5px;background:linear-gradient(#000080 41.73px,#00f 44.54px,#0080ff 47.58px,#0cf 53.53px,#01fffe 62.03px,#3fffc0 81.09px,#80ff7f 110.7px,#dfff20 215.7px,#f8ff07 246.5px)"></i><i style="left:476px;width:4.5px;background:linear-gradient(#000080 42.78px,#00f 45.56px,#0080ff 48.43px,#0cf 54.05px,#0ff 61.8px,#41ffbe 81.78px,#7fff80 109.7px,#dfff20 216.8px,#f7ff08 246.5px)"></i><i style="left:480px;width:4.5px;background:linear-gradient(#000080 43.79px,#00f 46.55px,#0080ff 49.27px,#00cdff 54.86px,#0ff 61.8px,#4fb 82.8px,#7fff80 109.2px,#dfff20 217.8px,#f6ff09 246.5px)"></i><i style="left:484px;width:4.5px;background:linear-gradient(#000080 44.76px,#00f 47.49px,#007fff 50.08px,#00cfff 55.83px,#0ff 61.8px,#3fffc0 80.49px,#80ff80 108.8px,#e3ff1c 223.8px,#f5ff0a 246.5px)"></i><i style="left:488px;width:4.5px;background:linear-gradient(#000080 45.68px,#00f 48.39px,#0080ff 50.87px,#00d1ff 56.75px,#0ff 61.8px,#3fffc0 80.37px,#81ff7e 109.7px,#e3ff1c 224.7px,#f4ff0b 246.5px)"></i><i style="left:492px;width:4.5px;background:linear-gradient(#000080 46.54px,#00f 49.22px,#007fff 51.63px,#00d2ff 57.6px,#0ff 61.8px,#40ffbf 80.54px,#7fff80 108.3px,#e3ff1c 225.5px,#f3ff0c 246.5px)"></i><i style="left:496px;width:4.5px;background:linear-gradient(#000080 47.33px,#00f 49.98px,#0080ff 52.36px,#00d4ff 58.39px,#0ff 61.8px,#42ffbd 81.33px,#80ff7f 108.3px,#e7ff18 231.3px,#f2ff0d 246.5px)"></i><i style="left:500px;width:4.5px;background:linear-gradient(#000080 48.05px,#00f 50.66px,#0080ff 53.05px,#0ff 61.8px,#43ffbc 82.05px,#7fff80 108.4px,#e6ff19 232.1px,#f1ff0e 246.5px)"></i><i style="left:504px;width:4.5px;background:linear-gradient(#000080 48.69px,#00f 51.24px,#007fff 53.75px,#0ff 62.05px,#43ffbc 82.69px,#80ff7f 108.7px,#e6ff19 232.7px,#f0ff0f 246.5px)"></i><i style="left:508px;width:4.5px;background:linear-gradient(#000080 49.25px,#00f 51.72px,#007fff 54.52px,#0ff 62.91px,#4fb 83.25px,#7fff80 109px,#e5ff1a 233.2px,#efff10 246.5px)"></i><i style="left:512px;width:4.5px;background:linear-gradient(#000080 49.72px,#00f 52.13px,#0080ff 55.26px,#00d7ff 60.79px,#0ff 63.91px,#43ffbc 83.72px,#7fff80 109.4px,#e5ff1a 233.7px,#ef1 246.5px)"></i><i style="left:516px;width:4.5px;background:linear-gradient(#000080 50.11px,#00f 52.51px,#007fff 55.85px,#0cf 60.47px,#0ff 64.62px,#42ffbd 84.11px,#7fff80 109.8px,#e8ff17 239.1px,#edff12 246.5px)"></i><i style="left:520px;width:4.5px;background:linear-gradient(#000080 50.4px,#00f 52.84px,#0080ff 56.32px,#00d2ff 61.46px,#0ff 65.26px,#41ffbe 84.4px,#80ff7f 110.3px,#e7ff18 239.4px,#ecff13 246.5px)"></i><i style="left:524px;width:4.5px;background:linear-gradient(#000080 50.59px,#00f 53.11px,#0080ff 56.68px,#00ceff 61.66px,#0ff 65.87px,#40ffbf 84.59px,#7fff80 110.9px,#e6ff19 239.6px,#ebff14 246.5px)"></i><i style="left:528px;width:4.5px;background:linear-gradient(#000080 50.69px,#00f 53.32px,#007fff 56.93px,#0cf 61.97px,#0ff 66.46px,#3fffc0 85.19px,#80ff7f 111.4px,#e5ff1a 239.7px,#eaff15 246.5px)"></i><i style="left:532px;width:4.5px;background:linear-gradient(#000080 50.69px,#00f 53.44px,#007fff 57.09px,#0cf 62.44px,#0ff 67.03px,#3fffc0 85.95px,#7fff80 112px,#e5ff1a 239.7px,#eaff15 246.5px)"></i><i style="left:536px;width:4.5px;background:linear-gradient(#000080 50.59px,#00f 53.49px,#007fff 57.17px,#0cf 62.88px,#0ff 67.56px,#47ffb8 89.59px,#80ff7f 112.6px,#e7ff18 244.6px,#e9ff16 246.5px)"></i><i style="left:540px;width:4.5px;background:linear-gradient(#000080 50.4px,#00f 53.46px,#007fff 57.17px,#00d5ff 64.12px,#0ff 68.07px,#4fb 89.4px,#80ff7f 114.4px,#e6ff19 244.4px,#e8ff17 246.5px)"></i><i style="left:544px;width:4.5px;background:linear-gradient(#000080 50.11px,#00f 53.33px,#0080ff 57.11px,#0ef 66.89px,#0ff 68.55px,#42ffbd 89.11px,#80ff7f 114.2px,#e7ff18 246.5px)"></i><i style="left:548px;width:4.5px;background:linear-gradient(#000080 49.72px,#00f 53.11px,#007fff 56.99px,#0ff 68.99px,#3fffc0 88.93px,#80ff7f 115.2px,#e6ff19 246.5px)"></i><i style="left:552px;width:4.5px;background:linear-gradient(#000080 49.25px,#00f 52.79px,#0080ff 56.84px,#0ff 69.55px,#48ffb7 93.25px,#80ff7f 116.2px,#e5ff1a 246.5px)"></i><i style="left:556px;width:4.5px;background:linear-gradient(#000080 48.69px,#00f 52.39px,#0080ff 56.78px,#0ff 69.77px,#4fb 92.69px,#80ff7f 117.7px,#deff21 237.7px,#e4ff1b 246.5px)"></i><i style="left:560px;width:4.5px;background:linear-gradient(#000080 48.05px,#00f 51.94px,#0080ff 56.83px,#0ff 70.12px,#41ffbe 92.05px,#80ff7f 118.5px,#d9ff26 232.1px,#e3ff1c 246.5px)"></i><i style="left:564px;width:4.5px;background:linear-gradient(#000080 47.33px,#00f 51.41px,#007fff 56.96px,#0ff 70.44px,#49ffb6 96.33px,#81ff7e 121.3px,#d4ff2b 226.3px,#e2ff1d 246.5px)"></i><i style="left:568px;width:4.5px;background:linear-gradient(#000080 46.54px,#00f 50.83px,#007fff 57.14px,#0ff 70.89px,#45ffba 95.54px,#80ff7f 120.7px,#cfff30 220.5px,#e1ff1e 246.5px)"></i><i style="left:572px;width:4.5px;background:linear-gradient(#000080 45.68px,#00f 50.2px,#007fff 57.34px,#0ff 71.04px,#4dffb2 99.68px,#80ff7f 121.8px,#cdff32 219.7px,#e0ff1f 246.5px)"></i><i style="left:576px;width:4.5px;background:linear-gradient(#000080 44.76px,#00f 49.51px,#007fff 57.53px,#0ff 71.33px,#49ffb6 98.76px,#80ff7f 123.8px,#cf3 218.9px,#dfff20 246.5px)"></i><i style="left:580px;width:4.5px;background:linear-gradient(#000080 43.79px,#00f 48.79px,#007fff 57.68px,#0ff 71.62px,#50ffaf 102.8px,#7fff80 123.8px,#ceff31 222.8px,#deff21 246.5px)"></i><i style="left:584px;width:4.5px;background:linear-gradient(#000080 42.78px,#00f 47.99px,#007fff 57.76px,#0ff 71.92px,#57ffa8 106.8px,#81ff7e 126.8px,#d3ff2c 231.8px,#df2 246.5px)"></i><i style="left:588px;width:4.5px;background:linear-gradient(#000080 41.73px,#00f 47.17px,#0086ff 58.52px,#0ff 72.22px,#5dffa2 110.7px,#80ff7f 125.9px,#d8ff27 240.7px,#dcff23 246.5px)"></i><i style="left:592px;width:4.5px;background:linear-gradient(#000080 40.65px,#00f 46.34px,#007fff 57.66px,#0ff 72.54px,#64ff9b 114.7px,#7fff80 126.9px,#dbff24 246.5px)"></i><i style="left:596px;width:4.5px;background:linear-gradient(#000080 39.55px,#00f 45.51px,#0080ff 57.71px,#0ff 72.86px,#6bff94 118.6px,#80ff7f 128.6px,#daff25 246.5px)"></i><i style="left:600px;width:4.5px;background:linear-gradient(#000080 38.44px,#00f 44.71px,#0087ff 58.74px,#0ff 73.17px,#7fff80 129px,#daff25 246.5px)"></i><i style="left:604px;width:4.5px;background:linear-gradient(#000080 37.32px,#00f 43.91px,#007fff 58.03px,#0ff 73.49px,#80ff7f 130px,#d9ff26 246.5px)"></i><i style="left:608px;width:4.5px;background:linear-gradient(#000080 36.21px,#00f 43.13px,#0ff 73.81px,#7fff80 130.9px,#d8ff27 246.5px)"></i><i style="left:612px;width:4.5px;background:linear-gradient(#000080 35.11px,#00f 42.36px,#0ff 74.13px,#7fff80 131.8px,#d7ff28 246.5px)"></i><i style="left:616px;width:4.5px;background:linear-gradient(#000080 34.04px,#00f 41.61px,#00a2ff 63.04px,#0ff 74.45px,#80ff7f 133px,#d6ff29 246.5px)"></i><i style="left:620px;width:4.5px;background:linear-gradient(#000080 32.99px,#00f 40.86px,#09f 61.99px,#0ff 74.76px,#80ff7f 133.6px,#d5ff2a 246.5px)"></i><i style="left:624px;width:4.5px;background:linear-gradient(#000080 31.98px,#00f 40.12px,#0091ff 60.98px,#0ff 75.09px,#80ff7f 134.5px,#d4ff2b 246.5px)"></i><i style="left:628px;width:4.5px;background:linear-gradient(#000080 31.02px,#00f 39.4px,#008aff 60.02px,#0ff 75.41px,#75ff8a 130px,#80ff7f 135.3px,#d3ff2c 246.5px)"></i><i style="left:632px;width:4.5px;background:linear-gradient(#000080 30.11px,#00f 38.67px,#0085ff 59.11px,#0ff 75.73px,#71ff8e 129.1px,#7fff80 136.1px,#d2ff2d 246.5px)"></i><i style="left:636px;width:4.5px;background:linear-gradient(#000080 29.26px,#00f 38.01px,#00a4ff 63.26px,#0ff 76.06px,#64ff9b 123.3px,#80ff7f 138.3px,#d1ff2e 246.5px)"></i><i style="left:640px;width:4.5px;background:linear-gradient(#000080 28.48px,#00f 37.24px,#00e4ff 72.48px,#0ff 76.38px,#61ff9e 122.5px,#80ff7f 137.7px,#d0ff2f 246.5px)"></i><i style="left:644px;width:4.5px;background:linear-gradient(#000080 27.77px,#00f 36.58px,#0ff 76.77px,#5fa 116.8px,#7fff80 138.5px,#cfff30 246.5px)"></i><i style="left:648px;width:4.5px;background:linear-gradient(#000080 27.14px,#00f 35.99px,#0082ff 56.14px,#0ff 77.1px,#53ffac 116.1px,#81ff7e 141.1px,#cfff30 246.5px)"></i><i style="left:652px;width:4.5px;background:linear-gradient(#000080 26.59px,#00f 35.47px,#0083ff 55.59px,#00f4ff 75.59px,#0ff 77.49px,#51ffae 115.6px,#80ff7f 140.6px,#ceff31 246.5px)"></i><i style="left:656px;width:4.5px;background:linear-gradient(#000080 26.12px,#00f 35.05px,#0084ff 55.13px,#00efff 75.13px,#0ff 77.86px,#50ffaf 115.1px,#80ff7f 140.7px,#cdff32 246.5px)"></i><i style="left:660px;width:4.5px;background:linear-gradient(#000080 25.75px,#00f 34.7px,#0085ff 54.75px,#0ff 78.23px,#4effb1 114.8px,#7fff80 141.3px,#cf3 246.5px)"></i><i style="left:664px;width:4.5px;background:linear-gradient(#000080 25.47px,#00f 34.45px,#0080ff 53.01px,#0ff 78.57px,#4dffb2 114.5px,#80ff7f 142px,#cbff34 246.5px)"></i><i style="left:668px;width:4.5px;background:linear-gradient(#000080 25.29px,#00f 34.28px,#0080ff 52.47px,#01fffe 79.29px,#43ffbc 109.3px,#81ff7e 144.3px,#cbff34 246.5px)"></i><i style="left:672px;width:4.5px;background:linear-gradient(#000080 25.21px,#00f 34.2px,#007fff 52px,#0ff 79.21px,#43ffbc 109.2px,#80ff7f 144.2px,#c4ff3b 239.2px,#caff35 246.5px)"></i><i style="left:676px;width:4.5px;background:linear-gradient(#000080 25.22px,#00f 34.21px,#007fff 51.61px,#00e6ff 74.22px,#0ff 79.35px,#42ffbd 109.2px,#80ff7f 144.2px,#bfff40 234.2px,#c9ff36 246.5px)"></i><i style="left:680px;width:4.5px;background:linear-gradient(#000080 25.33px,#00f 34.21px,#0080ff 51.12px,#00e6ff 74.33px,#0ff 79.53px,#42ffbd 109.3px,#80ff7f 144.6px,#bfff40 234.3px,#c9ff36 246.5px)"></i><i style="left:684px;width:4.5px;background:linear-gradient(#000080 25.54px,#0001ff 34.29px,#0080ff 50.5px,#00ceff 69.54px,#0ff 79.72px,#42ffbd 109.5px,#80ff7f 145.2px,#baff45 229.5px,#c8ff37 246.5px)"></i><i style="left:688px;width:4.5px;background:linear-gradient(#000080 25.84px,#00f 34.14px,#0081ff 50.19px,#00ceff 69.84px,#0ff 79.89px,#43ffbc 109.8px,#7fff80 145.8px,#baff45 229.8px,#c7ff38 246.5px)"></i><i style="left:692px;width:4.5px;background:linear-gradient(#000080 26.23px,#00f 34.13px,#007fff 49.04px,#00cfff 70.23px,#0ff 80.23px,#43ffbc 110.2px,#80ff7f 146.2px,#b9ff46 230.2px,#c7ff38 246.5px)"></i><i style="left:696px;width:4.5px;background:linear-gradient(#000080 26.72px,#00f 34.17px,#0080ff 48.3px,#00cfff 70.72px,#01fffe 80.72px,#43ffbc 110.7px,#80ff80 146.7px,#b4ff4b 225.7px,#c6ff39 246.5px)"></i><i style="left:700px;width:4.5px;background:linear-gradient(#000080 27.29px,#00f 34.27px,#007fff 47.6px,#00d0ff 71.29px,#0ff 80.33px,#4fb 111.3px,#7fff80 147.1px,#b4ff4b 226.3px,#c5ff3a 246.5px)"></i><i style="left:704px;width:4.5px;background:linear-gradient(#000080 27.94px,#00f 34.47px,#007fff 46.99px,#00d2ff 71.94px,#0ff 80.43px,#45ffba 111.9px,#80ff7f 147.5px,#b4ff4b 226.9px,#c5ff3a 246.5px)"></i><i style="left:708px;width:4.5px;background:linear-gradient(#000080 28.67px,#00f 34.79px,#0080ff 46.52px,#0cf 71.05px,#0ff 80.51px,#46ffb9 112.7px,#7fff80 147.8px,#b3ff4c 227.7px,#c4ff3b 246.5px)"></i><i style="left:712px;width:4.5px;background:linear-gradient(#000080 29.47px,#00f 35.25px,#0080ff 46.25px,#0cf 71.24px,#0ff 80.55px,#47ffb8 113.5px,#80ff7f 148.5px,#b3ff4c 228.5px,#c3ff3c 246.5px)"></i><i style="left:716px;width:4.5px;background:linear-gradient(#000080 30.33px,#00f 35.86px,#007fff 46.09px,#0cf 71.34px,#0ff 80.54px,#40ffbf 109.3px,#80ff7f 149.3px,#b3ff4c 229.3px,#c3ff3c 246.5px)"></i><i style="left:720px;width:4.5px;background:linear-gradient(#000080 31.26px,#00f 36.56px,#007fff 45.97px,#0cf 71.43px,#0ff 80.51px,#41ffbe 110.3px,#80ff7f 150.3px,#b3ff4c 230.3px,#c2ff3d 246.5px)"></i><i style="left:724px;width:4.5px;background:linear-gradient(#000080 32.23px,#00f 37.33px,#0080ff 45.96px,#0cf 71.51px,#0ff 80.43px,#42ffbd 111.2px,#81ff7e 151.2px,#aeff51 226.2px,#c1ff3e 246.5px)"></i><i style="left:728px;width:4.5px;background:linear-gradient(#000080 33.25px,#0001ff 38.24px,#0080ff 45.78px,#00d0ff 72.25px,#0ff 80.32px,#4fb 112.2px,#7fff80 149.2px,#aeff51 227.2px,#c1ff3e 246.5px)"></i><i style="left:732px;width:4.5px;background:linear-gradient(#000080 34.3px,#00f 39.03px,#007fff 45.77px,#0cf 71.65px,#0ff 80.19px,#45ffba 113.3px,#7fff80 149.5px,#aeff51 228.3px,#c0ff3f 246.5px)"></i><i style="left:736px;width:4.5px;background:linear-gradient(#000080 35.39px,#00f 39.94px,#0080ff 45.87px,#0cf 71.7px,#0ff 80.03px,#47ffb8 114.4px,#7fff80 149.8px,#aeff51 229.4px,#bfff40 246.5px)"></i><i style="left:740px;width:4.5px;background:linear-gradient(#000080 36.49px,#00f 40.87px,#0080ff 46.1px,#0cf 71.74px,#0ff 79.85px,#48ffb7 115.5px,#80ff7f 150.5px,#aeff51 230.5px,#bfff40 246.5px)"></i><i style="left:744px;width:4.5px;background:linear-gradient(#000080 37.6px,#00f 41.81px,#0080ff 46.5px,#0cf 71.78px,#0ff 79.66px,#42ffbd 111.6px,#80ff7f 151.6px,#aeff51 231.6px,#beff41 246.5px)"></i><i style="left:748px;width:4.5px;background:linear-gradient(#000080 38.72px,#00f 42.75px,#0080ff 47.1px,#0cf 71.8px,#0ff 79.46px,#43ffbc 112.7px,#81ff7e 152.7px,#aeff51 232.7px,#bdff42 246.5px)"></i><i style="left:752px;width:4.5px;background:linear-gradient(#000080 39.83px,#00f 43.68px,#007fff 47.92px,#0cf 71.75px,#0ff 79.24px,#4fb 113.8px,#81ff7e 153.8px,#aeff51 233.8px,#bcff43 246.5px)"></i><i style="left:756px;width:4.5px;background:linear-gradient(#000080 40.92px,#00f 44.55px,#007fff 48.82px,#0cf 70.63px,#0ff 78.84px,#46ffb9 114.9px,#7fff80 151.7px,#aeff51 234.9px,#bcff43 246.5px)"></i><i style="left:760px;width:4.5px;background:linear-gradient(#000080 42px,#00f 45.39px,#0080ff 49.73px,#0cf 68.61px,#0ff 78.3px,#47ffb8 116px,#7fff80 152.1px,#aeff51 236px,#bf4 246.5px)"></i><i style="left:764px;width:4.5px;background:linear-gradient(#000080 43.04px,#00f 46.22px,#0080ff 50.64px,#0ff 77.78px,#50ffaf 122px,#80ff7f 152.6px,#afff50 237px,#baff45 246.5px)"></i><i style="left:768px;width:4.5px;background:linear-gradient(#000080 44.04px,#00f 47.08px,#007fff 51.56px,#0cf 64.76px,#01fffe 78.04px,#51ffae 123px,#80ff7f 153.1px,#afff50 238px,#b9ff46 246.5px)"></i><i style="left:772px;width:4.5px;background:linear-gradient(#000080 45px,#00f 48px,#0080ff 52.5px,#00d0ff 65.3px,#0ff 77.3px,#51ffae 124px,#80ff7f 154px,#afff50 239px,#b9ff46 246.5px)"></i><i style="left:776px;width:4.5px;background:linear-gradient(#000080 45.9px,#00f 48.9px,#0080ff 53.41px,#0cf 64.39px,#0ff 77.35px,#52ffad 124.9px,#80ff7f 154.9px,#afff50 239.9px,#b8ff47 246.5px)"></i><i style="left:780px;width:4.5px;background:linear-gradient(#000080 46.74px,#00f 49.75px,#007fff 54.27px,#0cf 64.59px,#0ff 77.46px,#53ffac 125.7px,#80ff7f 155.7px,#abff54 237.4px,#b7ff48 246.5px)"></i><i style="left:784px;width:4.5px;background:linear-gradient(#000080 47.51px,#00f 50.52px,#0080ff 55.08px,#0cf 64.88px,#0ff 77.62px,#5bffa4 131.5px,#80ff7f 156.5px,#abff54 238px,#b6ff49 246.5px)"></i><i style="left:788px;width:4.5px;background:linear-gradient(#000080 48.22px,#00f 51.23px,#007fff 55.82px,#0cf 65.25px,#0ff 77.83px,#5bffa4 132.2px,#80ff7f 157.2px,#abff54 238.6px,#b6ff49 246.5px)"></i><i style="left:792px;width:4.5px;background:linear-gradient(#000080 48.84px,#00f 51.86px,#0080ff 56.5px,#0cf 65.68px,#0ff 78.08px,#5bffa4 132.8px,#80ff7f 157.8px,#abff54 239.2px,#b5ff4a 246.5px)"></i><i style="left:796px;width:4.5px;background:linear-gradient(#000080 49.38px,#00f 52.41px,#0080ff 57.1px,#0cf 66.16px,#0ff 78.38px,#63ff9c 138.4px,#80ff7f 158.4px,#abff54 239.7px,#b4ff4b 246.5px)"></i><i style="left:800px;width:4.5px;background:linear-gradient(#000080 49.83px,#00f 52.87px,#007fff 57.62px,#0cf 66.66px,#0ff 78.83px,#63ff9c 138.8px,#80ff7f 158.8px,#abff54 240.3px,#b3ff4c 246.5px)"></i><i style="left:804px;width:4.5px;background:linear-gradient(#000080 50.19px,#00f 53.24px,#0080ff 58.07px,#0cf 67.18px,#0ff 79.19px,#72ff8d 149.2px,#80ff7f 159.2px,#b0ff4f 244.2px,#b3ff4c 246.5px)"></i><i style="left:808px;width:4.5px;background:linear-gradient(#000080 50.45px,#00f 53.52px,#007fff 58.42px,#0cf 67.69px,#0ff 79.45px,#80ff7f 158.8px,#afff50 244.4px,#b2ff4d 246.5px)"></i><i style="left:812px;width:4.5px;background:linear-gradient(#000080 50.62px,#00f 53.71px,#007fff 58.69px,#0cf 68.19px,#0ff 79.63px,#80ff7f 159.6px,#afff50 244.6px,#b1ff4e 246.5px)"></i><i style="left:816px;width:4.5px;background:linear-gradient(#000080 50.7px,#00f 53.8px,#0080ff 58.88px,#0cf 68.67px,#0ff 79.88px,#7fff80 160.3px,#aeff51 244.7px,#b0ff4f 246.5px)"></i><i style="left:820px;width:4.5px;background:linear-gradient(#000080 50.67px,#00f 53.83px,#007fff 59.07px,#0cf 69.17px,#0ff 80.21px,#7fff80 161.2px,#afff50 246.5px)"></i><i style="left:824px;width:4.5px;background:linear-gradient(#000080 50.55px,#00f 53.79px,#007fff 59.3px,#0cf 69.73px,#0ff 80.58px,#80ff7f 162px,#afff50 246.5px)"></i><i style="left:828px;width:4.5px;background:linear-gradient(#000080 50.33px,#00f 53.68px,#0080ff 59.55px,#00cdff 70.64px,#0ff 80.99px,#80ff7f 164.3px,#aeff51 246.5px)"></i><i style="left:832px;width:4.5px;background:linear-gradient(#000080 50.02px,#00f 53.51px,#007fff 59.79px,#0cf 70.94px,#0ff 81.42px,#80ff7f 164px,#adff52 246.5px)"></i><i style="left:836px;width:4.5px;background:linear-gradient(#000080 49.61px,#00f 53.27px,#007fff 60.02px,#0cf 71.55px,#0ff 81.86px,#7fff80 164.6px,#acff53 246.5px)"></i><i style="left:840px;width:4.5px;background:linear-gradient(#000080 49.12px,#00f 52.95px,#0080ff 60.22px,#00d3ff 73.47px,#0ff 82.32px,#80ff7f 165.5px,#abff54 246.5px)"></i><i style="left:844px;width:4.5px;background:linear-gradient(#000080 48.54px,#00f 52.57px,#0080ff 60.37px,#00cdff 72.89px,#0ff 82.77px,#80ff7f 167.5px,#abff54 246.5px)"></i><i style="left:848px;width:4.5px;background:linear-gradient(#000080 47.87px,#00f 52.12px,#0080ff 60.46px,#0cf 73.21px,#0ff 83.22px,#6fff90 156.9px,#7fff80 167.2px,#af5 246.5px)"></i><i style="left:852px;width:4.5px;background:linear-gradient(#000080 47.14px,#00f 51.59px,#0080ff 60.48px,#00d9ff 76.14px,#0ff 83.66px,#64ff9b 151.1px,#7fff80 168.1px,#a9ff56 246.5px)"></i><i style="left:856px;width:4.5px;background:linear-gradient(#000080 46.33px,#00f 51.03px,#0080ff 60.5px,#00ecff 80.33px,#0ff 84.09px,#59ffa6 145.3px,#80ff7f 170.3px,#a8ff57 246.5px)"></i><i style="left:860px;width:4.5px;background:linear-gradient(#000080 45.46px,#00f 50.46px,#007fff 60.54px,#0ff 84.52px,#56ffa9 144.5px,#80ff7f 170px,#a7ff58 246.5px)"></i><i style="left:864px;width:4.5px;background:linear-gradient(#000080 44.53px,#00f 49.87px,#007fff 60.62px,#0ff 84.96px,#4bffb4 138.5px,#80ff7f 170.9px,#a6ff59 246.5px)"></i><i style="left:868px;width:4.5px;background:linear-gradient(#000080 43.54px,#00f 49.28px,#0080ff 60.74px,#0ff 85.4px,#4fffb0 142.6px,#80ff7f 172.6px,#a6ff59 246.5px)"></i><i style="left:872px;width:4.5px;background:linear-gradient(#000080 42.52px,#00f 48.68px,#0080ff 60.89px,#0ff 85.84px,#4cffb3 141.5px,#7fff80 172.9px,#a5ff5a 246.5px)"></i><i style="left:876px;width:4.5px;background:linear-gradient(#000080 41.46px,#0001ff 48.21px,#007fff 61.08px,#0ff 86.29px,#48ffb7 140.5px,#80ff7f 175.5px,#a4ff5b 246.5px)"></i><i style="left:880px;width:4.5px;background:linear-gradient(#000080 40.38px,#00f 47.49px,#0080ff 61.32px,#0ff 86.73px,#4fb 139.4px,#80ff7f 174.9px,#a3ff5c 246.5px)"></i><i style="left:884px;width:4.5px;background:linear-gradient(#000080 39.27px,#00f 46.91px,#007fff 61.6px,#0ff 87.18px,#48ffb7 143.3px,#7fff80 175.9px,#a2ff5d 246.5px)"></i><i style="left:888px;width:4.5px;background:linear-gradient(#000080 38.16px,#00f 46.34px,#0082ff 62.51px,#00e5ff 82.16px,#0ff 87.64px,#4fb 142.2px,#80ff7f 177.2px,#a1ff5e 246.5px)"></i><i style="left:892px;width:4.5px;background:linear-gradient(#000080 37.04px,#00f 45.8px,#007fff 62.33px,#00deff 81.05px,#0ff 88.09px,#48ffb7 146.1px,#7fff80 178px,#a0ff5f 246.5px)"></i><i style="left:896px;width:4.5px;background:linear-gradient(#000080 35.93px,#00f 45.28px,#007fff 62.78px,#00d8ff 79.94px,#0ff 88.55px,#4fb 144.9px,#80ff7f 179.9px,#a0ff5f 246.5px)"></i><i style="left:900px;width:4.5px;background:linear-gradient(#000080 34.84px,#00f 44.19px,#007fff 61.69px,#0ff 88.55px,#42ffbd 143.8px,#80ff7f 178.8px,#a0ff5f 246.5px)"></i><i style="left:904px;width:4.5px;background:linear-gradient(#000080 33.77px,#00f 43.12px,#007fff 60.62px,#0ff 88.55px,#40ffbf 142.8px,#80ff80 178.8px,#a0ff5f 246.5px)"></i><i style="left:908px;width:4.5px;background:linear-gradient(#000080 32.73px,#00f 42.08px,#007fff 59.58px,#0ff 88.55px,#47ffb8 146.7px,#80ff80 178.8px,#a0ff5f 246.5px)"></i><i style="left:912px;width:2.5px;background:linear-gradient(#000080 31.98px,#00f 41.33px,#007fff 58.83px,#00f3ff 85.98px,#0ff 88.55px,#46ffb9 146px,#80ff80 178.8px,#a0ff5f 246.5px)"></i></div></div>
<div class="hm" style="top:684.5px"><div class="in"><i style="left:0px;width:4.5px;background:linear-gradient(#000080 30.47px,#00f 31.93px,#007fff 33.12px,#0ff 33.72px,#80ff7f 38.8px,#cf3 48.5px,#ff0 64.5px,#ffcb00 84.47px,#ff9200 124.5px,#ff6100 169.5px,#ff2800 234.5px,#ff1f00 246.5px)"></i><i style="left:4px;width:4.5px;background:linear-gradient(#000080 31.42px,#00f 32.87px,#0080ff 34.07px,#0ff 34.67px,#80ff7f 38.8px,#cf3 48.5px,#ff0 64.5px,#ffc900 85.42px,#ff9100 125.4px,#ff5b00 175.5px,#ff2400 240.4px,#ff1f00 246.5px)"></i><i style="left:8px;width:4.5px;background:linear-gradient(#000080 32.41px,#00f 33.86px,#0080ff 35.06px,#0ff 35.66px,#80ff7f 38.8px,#cf3 48.5px,#ff0 64.5px,#fc0 83.5px,#ff9000 126.4px,#ff5a00 176.4px,#ff2300 241.4px,#ff1f00 246.5px)"></i><i style="left:12px;width:4.5px;background:linear-gradient(#000080 33.44px,#00f 34.9px,#007fff 36.09px,#0ff 36.69px,#80ff7f 38.8px,#cf3 48.5px,#ff0 64.5px,#fc0 83.5px,#ff8f00 127.4px,#f50 182.4px,#f20 242.4px,#ff1f00 246.5px)"></i><i style="left:16px;width:4.5px;background:linear-gradient(#000080 34.51px,#00f 35.95px,#007fff 37.12px,#0ff 37.73px,#80ff7f 39.53px,#cf3 49.07px,#ff0 64.68px,#fc0 84.12px,#ff8e00 128.5px,#ff5400 183.5px,#ff2000 246.5px)"></i><i style="left:20px;width:4.5px;background:linear-gradient(#000080 35.6px,#00f 37px,#007fff 38.15px,#0ff 38.77px,#7fff80 40.95px,#cf3 50.2px,#ff0 65.02px,#fc0 85.33px,#ff8e00 129.6px,#ff5400 184.6px,#ff2000 246.5px)"></i><i style="left:24px;width:4.5px;background:linear-gradient(#000080 36.7px,#00f 38.08px,#007fff 39.2px,#0ff 39.83px,#80ff7f 42.34px,#cf3 51.28px,#fffe00 65.71px,#fc0 86.51px,#ff8e00 130.7px,#ff5400 185.7px,#ff2100 246.5px)"></i><i style="left:28px;width:4.5px;background:linear-gradient(#000080 37.82px,#0001ff 39.17px,#0080ff 40.27px,#0ff 40.91px,#80ff7f 43.67px,#cf3 52.33px,#ff0 65.67px,#fc0 87.64px,#f80 136.8px,#ff4600 201.8px,#f20 246.5px)"></i><i style="left:32px;width:4.5px;background:linear-gradient(#000080 38.93px,#0001ff 40.26px,#0080ff 41.34px,#00feff 41.99px,#7fff80 44.93px,#cf3 53.32px,#ff0 65.97px,#fc0 88.71px,#f80 137.9px,#ff4600 202.9px,#ff2300 246.5px)"></i><i style="left:36px;width:4.5px;background:linear-gradient(#000080 40.04px,#00f 41.34px,#0080ff 42.41px,#0ff 43.08px,#80ff7f 46.13px,#cf3 54.25px,#ff0 66.25px,#fc0 89.73px,#f80 139px,#ff4600 204px,#ff2400 246.5px)"></i><i style="left:40px;width:4.5px;background:linear-gradient(#000080 41.13px,#00f 42.41px,#007fff 43.46px,#0ff 44.15px,#7fff80 47.23px,#cf3 55.11px,#ff0 66.5px,#ffc500 95.13px,#ff8000 146.2px,#ff3700 222.9px,#ff2500 246.5px)"></i><i style="left:44px;width:4.5px;background:linear-gradient(#000080 42.19px,#00f 43.46px,#0080ff 44.51px,#0ff 45.2px,#7fff80 48.24px,#cf3 55.92px,#ff0 66.71px,#ffc500 96.19px,#ff8000 147.2px,#ff3900 221.2px,#ff2600 246.5px)"></i><i style="left:48px;width:4.5px;background:linear-gradient(#000080 43.22px,#0001ff 44.49px,#007fff 45.52px,#0ff 46.22px,#80ff7f 49.15px,#ceff31 56.95px,#ff0 66.89px,#ffc500 97.22px,#ff7b00 152.2px,#ff3700 225.5px,#ff2700 246.5px)"></i><i style="left:52px;width:4.5px;background:linear-gradient(#000080 44.21px,#00f 45.47px,#0080ff 46.51px,#0ff 47.21px,#80ff7f 49.94px,#cf3 57.14px,#fdff02 67.03px,#fff600 73.21px,#fc0 93.21px,#ff8000 149.1px,#ff3e00 218.2px,#ff2800 246.5px)"></i><i style="left:56px;width:4.5px;background:linear-gradient(#000080 45.14px,#00f 46.41px,#007fff 47.45px,#0ff 48.15px,#7fff80 50.7px,#cf3 57.66px,#fcff03 67.14px,#feff01 69.49px,#fc0 94.14px,#ff7b00 154.1px,#ff3e00 219.1px,#ff2900 246.5px)"></i><i style="left:60px;width:4.5px;background:linear-gradient(#000080 46.02px,#00f 47.3px,#0080ff 48.35px,#0ff 49.05px,#7fff80 51.47px,#cf3 58.15px,#fcff03 67.23px,#ff0 70.37px,#fff800 75.02px,#ffd400 90.02px,#ff8700 145px,#ff4c00 205px,#ff2a00 246.5px)"></i><i style="left:64px;width:4.5px;background:linear-gradient(#000080 46.84px,#00f 48.13px,#0080ff 49.19px,#00feff 49.89px,#80ff7f 52.23px,#cf3 58.61px,#fdff02 67.3px,#fff900 75.84px,#ffde00 85.84px,#ffc400 100.8px,#ff7b00 155.8px,#f40 215.8px,#ff2b00 246.5px)"></i><i style="left:68px;width:4.5px;background:linear-gradient(#000080 47.59px,#0001ff 48.9px,#0080ff 49.97px,#0ff 50.68px,#80ff7f 52.96px,#cf3 59.04px,#ff0 67.89px,#fff900 76.59px,#ffd300 91.59px,#ff8000 152.4px,#ff4800 211.6px,#ff2c00 246.5px)"></i><i style="left:72px;width:4.5px;background:linear-gradient(#000080 48.26px,#00f 49.59px,#007fff 50.67px,#00feff 51.39px,#80ff7f 53.66px,#cf3 59.45px,#ff0 67.42px,#fff900 77.26px,#ffef00 82.26px,#ffd300 92.26px,#ff8000 153.2px,#ff4900 212.3px,#ff2e00 246.5px)"></i><i style="left:76px;width:4.5px;background:linear-gradient(#000080 48.85px,#00f 50.2px,#007fff 51.3px,#0ff 52.04px,#80ff7f 54.31px,#cdff32 59.92px,#ff0 67.48px,#fff800 73.2px,#fff000 82.85px,#ffd300 92.85px,#ff7c00 157.8px,#ff4900 212.8px,#ff2f00 246.5px)"></i><i style="left:80px;width:4.5px;background:linear-gradient(#000080 49.36px,#00f 50.73px,#007fff 51.85px,#0ff 52.6px,#7fff80 54.89px,#ceff31 60.42px,#ff0 67.53px,#fff600 73.7px,#fff100 83.36px,#ffd400 93.36px,#ff8000 154.8px,#ff4a00 213.4px,#ff3000 246.5px)"></i><i style="left:84px;width:4.5px;background:linear-gradient(#000080 49.77px,#00f 51.17px,#007fff 52.31px,#0ff 53.08px,#7fff80 55.41px,#ceff31 60.84px,#ff0 67.59px,#fff400 74.12px,#fff200 83.77px,#fc0 97.5px,#ff7c00 158.8px,#ff4b00 213.8px,#ff3200 246.5px)"></i><i style="left:88px;width:4.5px;background:linear-gradient(#000080 50.1px,#00f 51.52px,#0080ff 52.68px,#0ff 53.47px,#7fff80 55.84px,#ceff31 61.16px,#ff0 67.66px,#fff200 79.1px,#fff100 84.1px,#ffe900 89.1px,#ffcd00 97.92px,#ff7800 164.1px,#ff4b00 214.1px,#f30 246.5px)"></i><i style="left:92px;width:4.5px;background:linear-gradient(#000080 50.33px,#00f 51.77px,#007fff 52.95px,#0ff 53.77px,#7fff80 56.17px,#ceff31 61.4px,#ff0 67.74px,#fff200 79.33px,#ffeb00 89.33px,#fc0 99.33px,#ff7900 164.3px,#ff4c00 214.3px,#ff3500 246.5px)"></i><i style="left:96px;width:4.5px;background:linear-gradient(#000080 50.46px,#0001ff 51.93px,#007fff 53.12px,#0ff 53.97px,#80ff7f 56.4px,#cdff32 61.53px,#ff0 67.84px,#fff100 79.46px,#ffec00 89.46px,#ffce00 99.46px,#ff7e00 159.5px,#ff5100 209.5px,#ff3600 246.5px)"></i><i style="left:100px;width:4.5px;background:linear-gradient(#000080 50.5px,#00f 51.98px,#007fff 53.19px,#0ff 54.08px,#80ff7f 56.5px,#cf3 61.68px,#ff0 67.97px,#fff000 79.5px,#ffeb00 89.5px,#ffe300 94.5px,#ffd100 99.5px,#ffbf00 109.5px,#ff7a00 164.5px,#ff5200 209.5px,#ff3700 246.5px)"></i><i style="left:104px;width:4.5px;background:linear-gradient(#000080 50.44px,#00f 51.94px,#007fff 53.16px,#0ff 54.1px,#80ff7f 56.48px,#cf3 61.94px,#ff0 68.15px,#ffef00 79.44px,#ffe500 94.44px,#ffc700 104.4px,#ff7b00 164.4px,#ff5300 209.4px,#ff3900 246.5px)"></i><i style="left:108px;width:4.5px;background:linear-gradient(#000080 50.28px,#00f 51.8px,#0080ff 53.04px,#00feff 54.02px,#7fff80 56.37px,#cf3 62.16px,#ff0 68.46px,#ffef00 79.28px,#ffe500 94.28px,#ffc100 109.3px,#f70 169.3px,#ff5000 214.3px,#ff3a00 246.5px)"></i><i style="left:112px;width:4.5px;background:linear-gradient(#000080 50.03px,#00f 51.56px,#0080ff 52.82px,#0ff 53.87px,#7fff80 56.2px,#cf3 62.37px,#ff0 68.88px,#ffea00 84.03px,#ffe500 94.03px,#ffda00 99.95px,#ffc200 109px,#ff7800 169px,#ff5100 214px,#ff3b00 246.5px)"></i><i style="left:116px;width:4.5px;background:linear-gradient(#000080 49.68px,#00f 51.23px,#007fff 52.5px,#0ff 53.63px,#7fff80 55.98px,#cf3 62.55px,#ff0 69.4px,#ffe900 83.68px,#ffe500 93.68px,#ffd300 103.7px,#ffc500 108.7px,#ff7900 168.7px,#ff5300 213.7px,#ff3d00 246.5px)"></i><i style="left:120px;width:4.5px;background:linear-gradient(#000080 49.24px,#00f 50.81px,#00bfff 52.71px,#0ff 53.32px,#80ff7f 55.73px,#ceff31 62.96px,#ff0 70px,#ffea00 83.24px,#ffdf00 98.24px,#ffbe00 113.2px,#ff7a00 168.2px,#ff5400 213.2px,#ff3e00 246.5px)"></i><i style="left:124px;width:4.5px;background:linear-gradient(#000080 48.71px,#00f 50.3px,#0ff 52.93px,#7fff80 55.45px,#cf3 62.9px,#ff0 70.66px,#ffe400 87.71px,#ffe000 97.71px,#ffb800 117.7px,#f70 172.7px,#f50 212.7px,#ff3f00 246.5px)"></i><i style="left:128px;width:4.5px;background:linear-gradient(#000080 48.1px,#00f 49.71px,#007fff 51.02px,#0ff 52.47px,#7fff80 55.17px,#cf3 63.07px,#ff0 71.35px,#ffe500 87.1px,#ffd900 102.1px,#ffba00 117.1px,#ff7800 172.1px,#ff5600 212.1px,#ff4100 246.5px)"></i><i style="left:132px;width:4.5px;background:linear-gradient(#000080 47.41px,#00f 49.03px,#0080ff 50.36px,#0ff 51.95px,#7fff80 54.9px,#cf3 63.25px,#ff0 72.07px,#ffdf00 91.41px,#ffda00 101.4px,#ffc200 111.4px,#ff7a00 171.4px,#ff5700 211.4px,#ff4200 246.5px)"></i><i style="left:136px;width:4.5px;background:linear-gradient(#000080 46.64px,#00f 48.28px,#0080ff 49.62px,#0ff 51.36px,#80ff7f 54.66px,#cf3 63.44px,#ff0 72.8px,#ffe000 90.64px,#ffd300 105.6px,#ffbd00 115.6px,#ff7b00 170.6px,#f50 215.6px,#ff4300 246.5px)"></i><i style="left:140px;width:4.5px;background:linear-gradient(#000080 45.81px,#00f 47.45px,#0080ff 48.8px,#0ff 50.73px,#80ff7f 54.45px,#cf3 63.64px,#ff0 73.5px,#ffda00 94.81px,#ffd600 104.8px,#ffb800 119.8px,#ff7800 174.8px,#ff5700 214.8px,#f40 246.5px)"></i><i style="left:144px;width:4.5px;background:linear-gradient(#000080 44.91px,#00f 46.56px,#007fff 47.91px,#0ff 50.05px,#80ff7f 54.3px,#cf3 63.87px,#ff0 74.18px,#ffd500 98.91px,#ffd100 108.9px,#ffba00 118.9px,#ff7900 173.9px,#ff5800 213.9px,#ff4500 246.5px)"></i><i style="left:148px;width:4.5px;background:linear-gradient(#000080 43.96px,#00f 45.61px,#0080ff 46.96px,#0ff 49.35px,#7fff80 54.21px,#cdff32 64.27px,#ff0 74.82px,#ffd500 97.96px,#ffd100 103px,#ffd200 108px,#ffb500 123px,#ff7b00 173px,#ff5600 218px,#ff4600 246.5px)"></i><i style="left:152px;width:4.5px;background:linear-gradient(#000080 42.97px,#00f 44.6px,#0080ff 45.94px,#0ff 48.72px,#80ff7f 54.16px,#cf3 64.44px,#ff0 75.49px,#ffcf00 102.8px,#ffcd00 112px,#ffb800 122px,#ff7800 177px,#ff5700 217px,#ff4700 246.5px)"></i><i style="left:156px;width:4.5px;background:linear-gradient(#000080 41.93px,#00f 43.55px,#0080ff 44.87px,#0ff 48.13px,#80ff7f 54.11px,#cf3 64.77px,#ff0 76.18px,#ffcd00 103.1px,#ffcd00 110.9px,#ffc700 115.9px,#ffb300 125.9px,#ff7900 175.9px,#ff5800 215.9px,#ff4800 246.5px)"></i><i style="left:160px;width:4.5px;background:linear-gradient(#000080 40.86px,#00f 42.46px,#007fff 43.77px,#01fffe 47.6px,#7fff80 54.06px,#cf3 65.21px,#ff0 76.86px,#ffcb00 104.9px,#ffc900 114.9px,#ffaf00 129.9px,#ff7b00 174.9px,#ff5700 219.9px,#ff4900 246.5px)"></i><i style="left:164px;width:4.5px;background:linear-gradient(#000080 39.77px,#00f 41.36px,#0080ff 42.67px,#0ff 46.87px,#80ff80 54px,#cf3 65.5px,#ff0 77.5px,#fc0 103.8px,#ffc400 118.8px,#fa0 133.8px,#ff7800 178.8px,#ff5800 218.8px,#ff4a00 246.5px)"></i><i style="left:168px;width:4.5px;background:linear-gradient(#000080 38.66px,#00f 40.31px,#0080ff 41.66px,#0ff 46.17px,#7fff80 53.91px,#cf3 65.88px,#ff0 78.1px,#fc0 104px,#ffc400 117.7px,#ffa400 139.9px,#ff7a00 177.7px,#ff5700 222.7px,#ff4b00 246.5px)"></i><i style="left:172px;width:4.5px;background:linear-gradient(#000080 37.54px,#00f 39.34px,#007fff 40.81px,#0ff 45.49px,#7fff80 53.79px,#cdff32 66.54px,#ff0 78.68px,#ffca00 106.5px,#ffbf00 121.5px,#ffa200 141.5px,#ff7b00 176.5px,#ff5800 221.5px,#ff4c00 246.5px)"></i><i style="left:176px;width:4.5px;background:linear-gradient(#000080 36.43px,#00f 38.44px,#007fff 40.09px,#0ff 44.82px,#80ff7f 53.66px,#cf3 66.71px,#ff0 79.25px,#ffcb00 105.4px,#ffb900 125.4px,#ff9300 155.4px,#ff7800 180.4px,#ff5900 220.4px,#ff4d00 246.5px)"></i><i style="left:180px;width:4.5px;background:linear-gradient(#000080 35.32px,#00f 37.6px,#007fff 39.46px,#0ff 44.16px,#80ff7f 53.51px,#cf3 67.15px,#ff0 79.8px,#fc0 105px,#ffb200 129.3px,#ff7a00 179.3px,#ff5800 224.3px,#ff4e00 246.5px)"></i><i style="left:184px;width:4.5px;background:linear-gradient(#000080 34.24px,#00f 36.79px,#0080ff 38.88px,#0ff 43.51px,#7fff80 53.36px,#cfff30 68.24px,#ff0 80.35px,#ffc900 108.2px,#ff7b00 178.2px,#ff5900 223.2px,#ff4e00 246.5px)"></i><i style="left:188px;width:4.5px;background:linear-gradient(#000080 33.18px,#00f 36px,#0080ff 38.3px,#0ff 42.84px,#81ff7e 53.48px,#cf3 68.05px,#ff0 80.87px,#ffca00 107.2px,#ff7d00 177.2px,#ff5800 227.2px,#ff4f00 246.5px)"></i><i style="left:192px;width:4.5px;background:linear-gradient(#000080 32.16px,#00f 35.2px,#007fff 37.69px,#0ff 42.15px,#80ff7f 53.12px,#d7ff28 71.16px,#ff0 81.39px,#fc0 106.2px,#ff7a00 181.2px,#ff5900 226.2px,#ff5000 246.5px)"></i><i style="left:196px;width:4.5px;background:linear-gradient(#000080 31.17px,#00f 34.39px,#007fff 37.02px,#0ff 41.45px,#80ff7f 53.04px,#d1ff2e 70.18px,#ff0 81.89px,#fc0 106.6px,#ff7b00 180.2px,#ff5a00 225.2px,#ff5100 246.5px)"></i><i style="left:200px;width:4.5px;background:linear-gradient(#000080 30.24px,#00f 33.54px,#0080ff 36.24px,#0ff 40.71px,#7fff80 53px,#cf3 69.39px,#ff0 82.38px,#ffca00 109.2px,#ff7c00 179.2px,#ff5800 229.2px,#ff5100 246.5px)"></i><i style="left:204px;width:4.5px;background:linear-gradient(#000080 29.37px,#00f 32.67px,#007fff 35.37px,#0ff 39.96px,#80ff80 53px,#daff25 73.37px,#fffe00 83.37px,#ffcb00 108.4px,#ff7a00 183.4px,#ff5900 228.4px,#ff5200 246.5px)"></i><i style="left:208px;width:4.5px;background:linear-gradient(#000080 28.56px,#00f 31.86px,#007fff 34.56px,#0ff 39.27px,#80ff80 53px,#d5ff2a 72.57px,#ff0 83.32px,#fc0 107.9px,#ff7b00 182.6px,#ff5800 232.6px,#ff5300 246.5px)"></i><i style="left:212px;width:4.5px;background:linear-gradient(#000080 27.83px,#00f 31.13px,#0080ff 33.83px,#0ff 38.63px,#80ff80 53px,#e4ff1b 76.83px,#ff0 83.77px,#fc0 108.3px,#ff7c00 181.8px,#ff5900 231.8px,#ff5300 246.5px)"></i><i style="left:216px;width:4.5px;background:linear-gradient(#000080 27.16px,#00f 30.46px,#007fff 33.16px,#0ff 38.07px,#80ff80 53px,#ff0 84.21px,#ffc900 111.2px,#ff7d00 181.2px,#ff5800 236.2px,#ff5400 246.5px)"></i><i style="left:220px;width:4.5px;background:linear-gradient(#000080 26.58px,#00f 29.88px,#007fff 32.58px,#01fffe 37.65px,#80ff80 53px,#ff0 84.65px,#ffca00 110.6px,#ff7b00 185.6px,#ff5900 235.6px,#f50 246.5px)"></i><i style="left:224px;width:4.5px;background:linear-gradient(#000080 26.09px,#00f 29.39px,#0080ff 32.09px,#0ff 37.16px,#80ff80 53px,#ff0 85.09px,#ffcb00 110.1px,#ff7b00 185.1px,#ff5800 240.1px,#ff5600 246.5px)"></i><i style="left:228px;width:4.5px;background:linear-gradient(#000080 25.68px,#00f 28.98px,#007fff 31.68px,#0ff 36.82px,#80ff80 53px,#ff0 85.49px,#fc0 109.9px,#ff7c00 184.7px,#ff5900 239.7px,#ff5600 246.5px)"></i><i style="left:232px;width:4.5px;background:linear-gradient(#000080 25.37px,#00f 28.67px,#0080ff 31.37px,#0ff 36.56px,#80ff80 53px,#ff0 85.9px,#fc0 110.2px,#ff7d00 184.4px,#ff5800 244.4px,#ff5700 246.5px)"></i><i style="left:236px;width:4.5px;background:linear-gradient(#000080 25.15px,#00f 28.45px,#0080ff 31.15px,#0ff 36.37px,#80ff80 53px,#ff0 86.3px,#fc0 110.6px,#ff7e00 184.2px,#ff5800 246.5px)"></i><i style="left:240px;width:4.5px;background:linear-gradient(#000080 25.03px,#00f 28.33px,#0080ff 31.03px,#0ff 36.27px,#80ff80 53px,#ff0 86.7px,#fc0 111px,#ff7f00 184px,#ff5800 246.5px)"></i><i style="left:244px;width:4.5px;background:linear-gradient(#000080 25px,#00f 28.3px,#007fff 31px,#0ff 36.25px,#7fff80 53px,#ff0 87.1px,#ffc900 114px,#ff7f00 184px,#ff5900 246.5px)"></i><i style="left:248px;width:4.5px;background:linear-gradient(#000080 25.08px,#00f 28.37px,#0080ff 31.06px,#0ff 36.26px,#7fff80 53.05px,#ff0 87.49px,#ffca00 114.1px,#ff8000 184.2px,#ff5a00 246.5px)"></i><i style="left:252px;width:4.5px;background:linear-gradient(#000080 25.25px,#00f 28.51px,#0080ff 31.19px,#0ff 36.31px,#80ff7f 53.17px,#ff0 87.88px,#ffca00 114.2px,#ff7f00 185.1px,#ff5b00 246.5px)"></i><i style="left:256px;width:4.5px;background:linear-gradient(#000080 25.51px,#00f 28.75px,#007fff 31.39px,#0ff 36.36px,#7fff80 53.32px,#ff0 88.26px,#ffca00 114.5px,#ff7f00 185.9px,#ff5c00 246.5px)"></i><i style="left:260px;width:4.5px;background:linear-gradient(#000080 25.87px,#00f 29.07px,#0080ff 31.68px,#0ff 36.48px,#7fff80 53.51px,#ff0 88.64px,#ffca00 114.9px,#ff8600 179.9px,#ff5c00 246.5px)"></i><i style="left:264px;width:4.5px;background:linear-gradient(#000080 26.32px,#00f 29.47px,#0080ff 32.04px,#0ff 36.65px,#80ff7f 53.72px,#ff0 89.01px,#ffca00 115.3px,#ff8b00 175.3px,#ff7800 200.3px,#ff5d00 246.5px)"></i><i style="left:268px;width:4.5px;background:linear-gradient(#000080 26.86px,#00f 29.95px,#0080ff 32.48px,#0ff 36.88px,#7fff80 53.93px,#ff0 89.37px,#ffca00 115.9px,#ff8c00 175.9px,#ff7900 200.9px,#ff5e00 246.5px)"></i><i style="left:272px;width:4.5px;background:linear-gradient(#000080 27.48px,#00f 30.51px,#007fff 32.99px,#0ff 37.18px,#80ff7f 54.14px,#ff0 89.73px,#ffca00 116.5px,#ff9000 171.5px,#ff7c00 196.5px,#ff6000 246.5px)"></i><i style="left:276px;width:4.5px;background:linear-gradient(#000080 28.19px,#00f 31.15px,#0080ff 33.58px,#0ff 37.56px,#7fff80 54.32px,#ff0 90.08px,#ffca00 117.2px,#ff9500 167.2px,#ff7c00 197.2px,#ff6100 246.5px)"></i><i style="left:280px;width:4.5px;background:linear-gradient(#000080 28.96px,#00f 31.86px,#0080ff 34.24px,#0ff 38.03px,#80ff7f 54.47px,#ff0 90.42px,#ffc900 118px,#ff9500 168px,#ff7c00 198px,#ff6200 246.5px)"></i><i style="left:284px;width:4.5px;background:linear-gradient(#000080 29.8px,#00f 32.63px,#007fff 34.94px,#0ff 38.56px,#80ff7f 54.58px,#e8ff17 83.8px,#ff0 90.74px,#ffc900 118.8px,#ff9500 168.8px,#ff7c00 198.8px,#ff6300 246.5px)"></i><i style="left:288px;width:4.5px;background:linear-gradient(#000080 30.7px,#00f 33.42px,#0082ff 35.7px,#0ff 39.08px,#81ff7e 55.05px,#eaff15 84.7px,#ff0 91.05px,#ffc900 119.7px,#f90 164.7px,#ff7c00 199.7px,#ff6400 246.5px)"></i><i style="left:292px;width:4.5px;background:linear-gradient(#000080 31.66px,#00f 34.24px,#007fff 36.35px,#0ff 39.61px,#7fff80 54.74px,#df2 80.66px,#ff0 91.34px,#fc0 117.2px,#f90 165.7px,#ff7d00 200.7px,#ff6500 246.5px)"></i><i style="left:296px;width:4.5px;background:linear-gradient(#000080 32.66px,#00f 35.1px,#007fff 37.09px,#0ff 40.17px,#80ff7f 54.82px,#d0ff2f 76.66px,#ff0 91.66px,#fc0 117.8px,#f90 166.7px,#ff7d00 201.7px,#f60 246.5px)"></i><i style="left:300px;width:4.5px;background:linear-gradient(#000080 33.7px,#00f 35.99px,#0080ff 37.87px,#0ff 40.77px,#80ff7f 54.89px,#d3ff2c 77.71px,#fffd00 92.71px,#fc0 118.3px,#ff9d00 162.7px,#ff7d00 202.7px,#ff6700 246.5px)"></i><i style="left:304px;width:4.5px;background:linear-gradient(#000080 34.78px,#00f 36.94px,#007fff 38.7px,#0ff 41.45px,#80ff7f 55.08px,#d6ff29 78.78px,#ff0 92.19px,#fc0 118.9px,#ff9c00 163.8px,#ff7d00 203.8px,#ff6800 246.5px)"></i><i style="left:308px;width:4.5px;background:linear-gradient(#000080 35.87px,#00f 37.93px,#007fff 39.61px,#0ff 42.2px,#7fff80 55.06px,#cf3 75.5px,#ff0 92.5px,#fc0 119.9px,#ff9c00 164.9px,#ff7d00 204.9px,#ff6800 246.5px)"></i><i style="left:312px;width:4.5px;background:linear-gradient(#000080 36.98px,#00f 38.98px,#0080ff 40.61px,#0ff 43.07px,#7fff80 55.18px,#cdff32 75.98px,#ff0 92.83px,#ffcb00 121px,#ff9c00 166px,#ff7d00 206px,#ff6900 246.5px)"></i><i style="left:316px;width:4.5px;background:linear-gradient(#000080 38.1px,#00f 40.07px,#0080ff 41.69px,#0ff 44.03px,#80ff7f 55.34px,#d1ff2e 77.1px,#ff0 93.18px,#ffca00 122.1px,#ff9c00 167.1px,#ff7d00 207.1px,#ff6a00 246.5px)"></i><i style="left:320px;width:4.5px;background:linear-gradient(#000080 39.21px,#00f 41.18px,#0080ff 42.79px,#0ff 45.03px,#80ff7f 55.6px,#cf3 75.22px,#ff0 93.56px,#ffca00 123.2px,#ff9f00 163.2px,#ff7d00 208.2px,#ff6b00 246.5px)"></i><i style="left:324px;width:4.5px;background:linear-gradient(#000080 40.31px,#00f 42.27px,#0080ff 43.88px,#0ff 46.02px,#80ff7f 55.95px,#cf3 74.78px,#fffe00 94.32px,#ffc900 124.3px,#ff9f00 164.3px,#ff7d00 209.3px,#ff6c00 246.5px)"></i><i style="left:328px;width:4.5px;background:linear-gradient(#000080 41.4px,#00f 43.35px,#0080ff 44.95px,#0ff 47.01px,#7fff80 56.36px,#cfff30 75.4px,#fffd00 95.4px,#ffc900 125.4px,#ff9f00 165.4px,#ff7b00 215.4px,#ff6d00 246.5px)"></i><i style="left:332px;width:4.5px;background:linear-gradient(#000080 42.45px,#00f 44.4px,#0080ff 46px,#0ff 47.98px,#80ff7f 56.83px,#cf3 73.58px,#ff0 94.81px,#ffc800 126.4px,#ff9e00 166.4px,#ff7b00 216.4px,#ff6e00 246.5px)"></i><i style="left:336px;width:4.5px;background:linear-gradient(#000080 43.47px,#00f 45.42px,#0080ff 47.01px,#0ff 48.93px,#80ff7f 57.32px,#cf3 72.94px,#ff0 95.26px,#ffc800 127.5px,#ff9e00 167.5px,#ff7b00 217.5px,#ff6e00 246.5px)"></i><i style="left:340px;width:4.5px;background:linear-gradient(#000080 44.44px,#00f 46.39px,#007fff 47.97px,#0ff 49.84px,#7fff80 57.81px,#cf3 72.35px,#ff0 95.72px,#ffc700 128.4px,#ff9e00 168.4px,#ff7b00 218.4px,#ff6f00 246.5px)"></i><i style="left:344px;width:4.5px;background:linear-gradient(#000080 45.37px,#00f 47.3px,#0080ff 48.89px,#0ff 50.7px,#7fff80 58.28px,#cf3 71.88px,#ff0 96.18px,#ffc700 129.4px,#ffa100 164.4px,#ff7c00 219.4px,#ff7000 246.5px)"></i><i style="left:348px;width:4.5px;background:linear-gradient(#000080 46.23px,#00f 48.16px,#007fff 49.74px,#0ff 51.52px,#80ff7f 58.72px,#cf3 71.57px,#ff0 96.65px,#fc0 125.6px,#ffa100 165.2px,#ff7c00 220.2px,#ff7100 246.5px)"></i><i style="left:352px;width:4.5px;background:linear-gradient(#000080 47.03px,#00f 48.96px,#0080ff 50.53px,#0ff 52.27px,#80ff7f 59.09px,#cf3 71.5px,#ff0 97.12px,#fc0 126.3px,#ffa100 166px,#ff7c00 221px,#ff7100 246.5px)"></i><i style="left:356px;width:4.5px;background:linear-gradient(#000080 47.76px,#00f 49.67px,#0080ff 51.24px,#0ff 52.96px,#80ff7f 59.45px,#cdff32 72.11px,#ff0 97.67px,#fc0 126.9px,#ffa100 166.8px,#ff7c00 221.8px,#ff7200 246.5px)"></i><i style="left:360px;width:4.5px;background:linear-gradient(#000080 48.41px,#00f 50.31px,#0082ff 51.89px,#0ff 53.56px,#80ff7f 59.82px,#cf3 71.57px,#ff0 98.3px,#fc0 127.5px,#ffa100 167.4px,#ff7d00 222.4px,#ff7300 246.5px)"></i><i style="left:364px;width:4.5px;background:linear-gradient(#000080 48.98px,#00f 50.86px,#0084ff 52.46px,#0ff 54.09px,#80ff7f 60.19px,#cf3 71.65px,#ff0 98.97px,#fc0 128.1px,#ffa100 168px,#ff7d00 223px,#ff7400 246.5px)"></i><i style="left:368px;width:4.5px;background:linear-gradient(#000080 49.47px,#00f 51.33px,#0087ff 52.94px,#0ff 54.54px,#7fff80 60.55px,#cf3 71.75px,#ff0 99.66px,#fc0 128.7px,#ffa100 168.5px,#ff7d00 223.5px,#ff7400 246.5px)"></i><i style="left:372px;width:4.5px;background:linear-gradient(#000080 49.86px,#00f 51.7px,#008aff 53.34px,#0ff 54.9px,#80ff7f 60.93px,#cf3 71.86px,#ff0 100.3px,#fc0 129.2px,#ffa100 168.9px,#ff7c00 228.9px,#ff7500 246.5px)"></i><i style="left:376px;width:4.5px;background:linear-gradient(#000080 50.16px,#00f 51.99px,#008cff 53.64px,#0ff 55.17px,#80ff7f 61.23px,#cf3 71.99px,#ff0 100.9px,#fc0 129.8px,#ffa200 169.2px,#ff7c00 229.2px,#ff7600 246.5px)"></i><i style="left:380px;width:4.5px;background:linear-gradient(#000080 50.37px,#00f 52.18px,#008dff 53.84px,#0ff 55.36px,#80ff7f 61.5px,#cf3 72.13px,#ff0 101.4px,#ffc800 134.4px,#ffa200 169.4px,#ff7d00 229.4px,#ff7600 246.5px)"></i><i style="left:384px;width:4.5px;background:linear-gradient(#000080 50.48px,#00f 52.28px,#008fff 53.95px,#01fffe 55.47px,#80ff7f 61.74px,#cf3 72.27px,#ff0 101.8px,#ffc800 134.5px,#ff9f00 174.5px,#ff7d00 229.5px,#f70 246.5px)"></i><i style="left:388px;width:4.5px;background:linear-gradient(#000080 50.49px,#00f 52.28px,#0090ff 53.97px,#0ff 55.44px,#80ff7f 61.93px,#cf3 72.42px,#ff0 102px,#ffc900 134.5px,#ffa000 174.5px,#ff7d00 229.5px,#f70 246.5px)"></i><i style="left:392px;width:4.5px;background:linear-gradient(#000080 50.41px,#00f 52.2px,#0090ff 53.88px,#01fffe 55.4px,#7fff80 62.06px,#cf3 72.58px,#ff0 102px,#ffc900 134.4px,#ffa100 174.4px,#ff7c00 234.4px,#ff7800 246.5px)"></i><i style="left:396px;width:4.5px;background:linear-gradient(#000080 50.23px,#00f 52.03px,#008eff 53.7px,#0ff 55.24px,#7fff80 62.17px,#cf3 72.78px,#ff0 101.7px,#ffca00 134.2px,#ffa100 174.2px,#ff7d00 234.2px,#ff7800 246.5px)"></i><i style="left:400px;width:4.5px;background:linear-gradient(#000080 49.95px,#00f 51.78px,#008aff 53.42px,#0ff 55.08px,#7fff80 62.27px,#cf3 73.01px,#ff0 101.3px,#ffcb00 133.9px,#ff9f00 178.9px,#ff7d00 233.9px,#ff7900 246.5px)"></i><i style="left:404px;width:4.5px;background:linear-gradient(#000080 49.58px,#00f 51.45px,#0085ff 53.05px,#0ff 54.87px,#7fff80 62.35px,#cf3 73.27px,#ff0 100.8px,#ffc700 138.6px,#ffa000 178.6px,#ff7c00 238.6px,#ff7a00 246.5px)"></i><i style="left:408px;width:4.5px;background:linear-gradient(#000080 49.11px,#00f 51.03px,#0080ff 52.6px,#0ff 54.61px,#7fff80 62.43px,#cf3 73.56px,#ff0 100.2px,#ffc800 138.1px,#ffa100 178.1px,#ff7d00 238.1px,#ff7a00 246.5px)"></i><i style="left:412px;width:4.5px;background:linear-gradient(#000080 48.56px,#00f 50.54px,#0080ff 52.15px,#0ff 54.3px,#7fff80 62.5px,#cf3 73.87px,#ff0 99.57px,#ffc900 137.6px,#ffa200 177.6px,#ff7c00 242.6px,#ff7b00 246.5px)"></i><i style="left:416px;width:4.5px;background:linear-gradient(#000080 47.93px,#00f 49.97px,#0080ff 51.63px,#0ff 53.94px,#80ff7f 62.57px,#cf3 74.19px,#ff0 98.98px,#ffca00 136.9px,#ffa000 181.9px,#ff7d00 241.9px,#ff7c00 246.5px)"></i><i style="left:420px;width:4.5px;background:linear-gradient(#000080 47.22px,#00f 49.32px,#0080ff 51.04px,#0ff 53.52px,#80ff7f 62.64px,#cf3 74.52px,#ff0 98.47px,#ffc600 141.2px,#ffa100 181.2px,#ff7c00 246.5px)"></i><i style="left:424px;width:4.5px;background:linear-gradient(#000080 46.44px,#00f 48.61px,#0080ff 50.38px,#0ff 53.03px,#7fff80 62.71px,#cdff32 75.44px,#ff0 98.11px,#ffc700 140.4px,#ffa200 180.4px,#ff7d00 246.5px)"></i><i style="left:428px;width:4.5px;background:linear-gradient(#000080 45.59px,#00f 47.83px,#007fff 49.66px,#0ff 52.52px,#7fff80 62.79px,#cf3 75.16px,#ff0 97.92px,#ffc400 144.6px,#ffa200 179.6px,#ff7e00 246.5px)"></i><i style="left:432px;width:4.5px;background:linear-gradient(#000080 44.68px,#00f 47.02px,#0080ff 48.94px,#0ff 52.11px,#80ff7f 62.89px,#cf3 75.49px,#fffe00 98.68px,#ffc500 143.7px,#ffa100 183.7px,#ff7f00 246.5px)"></i><i style="left:436px;width:4.5px;background:linear-gradient(#000080 43.72px,#00f 46.19px,#0080ff 48.21px,#0ff 51.8px,#80ff7f 62.99px,#cf3 75.83px,#ff0 97.72px,#ffc700 142.7px,#ffa200 182.7px,#ff8000 246.5px)"></i><i style="left:440px;width:4.5px;background:linear-gradient(#000080 42.71px,#00f 45.33px,#007fff 47.47px,#0ff 51.55px,#7fff80 63.09px,#cdff32 76.71px,#ff0 97.45px,#ffc300 146.7px,#ffa200 181.7px,#ff8100 246.5px)"></i><i style="left:444px;width:4.5px;background:linear-gradient(#000080 41.66px,#00f 44.44px,#0080ff 46.72px,#0ff 51.33px,#80ff7f 63.2px,#cf3 76.54px,#ff0 97.33px,#ffc500 145.7px,#ffa100 185.7px,#ff8200 246.5px)"></i><i style="left:448px;width:4.5px;background:linear-gradient(#000080 40.59px,#00f 43.53px,#0080ff 45.94px,#0ff 51.12px,#7fff80 63.29px,#cf3 76.91px,#ff0 97.22px,#ffc200 149.6px,#ffa200 184.6px,#ff8200 246.5px)"></i><i style="left:452px;width:4.5px;background:linear-gradient(#000080 39.49px,#00f 42.59px,#007fff 45.13px,#0ff 50.87px,#82ff7d 63.84px,#cf3 77.29px,#ff0 97.13px,#ffc300 148.5px,#ffa300 183.5px,#ff8300 246.5px)"></i><i style="left:456px;width:4.5px;background:linear-gradient(#000080 38.38px,#00f 41.63px,#007fff 44.29px,#0ff 50.57px,#7fff80 63.44px,#cf3 77.68px,#ff0 97.38px,#ffc000 152.4px,#ffa100 187.4px,#ff8400 246.5px)"></i><i style="left:460px;width:4.5px;background:linear-gradient(#000080 37.26px,#00f 40.65px,#0080ff 43.42px,#0ff 50.17px,#7fff80 63.48px,#cf3 78.09px,#ff0 97.01px,#ffc200 151.3px,#ffa200 186.3px,#ff8500 246.5px)"></i><i style="left:464px;width:4.5px;background:linear-gradient(#000080 36.15px,#00f 39.64px,#0080ff 42.5px,#0ff 49.65px,#80ff80 63.5px,#cf3 78.5px,#ff0 97px,#ffbf00 155.2px,#ffa100 190.2px,#ff8600 246.5px)"></i><i style="left:468px;width:4.5px;background:linear-gradient(#000080 35.05px,#00f 38.63px,#007fff 41.55px,#0ff 49.08px,#82ff7d 64.05px,#cf3 79.05px,#ff0 97.1px,#ffc000 154.1px,#ffa200 189.1px,#ff8700 246.5px)"></i><i style="left:472px;width:4.5px;background:linear-gradient(#000080 33.97px,#00f 37.63px,#0080ff 40.61px,#0ff 48.55px,#80ff7f 63.32px,#cf3 79.41px,#fffe00 97.97px,#ffc200 153px,#ffa300 188px,#ff8700 246.5px)"></i><i style="left:476px;width:4.5px;background:linear-gradient(#000080 32.92px,#00f 36.65px,#0080ff 39.68px,#0ff 48.05px,#80ff7f 63.13px,#cf3 79.9px,#ff0 97.8px,#ffbf00 156.9px,#ffa200 191.9px,#f80 246.5px)"></i><i style="left:480px;width:4.5px;background:linear-gradient(#000080 31.91px,#00f 35.71px,#0080ff 38.78px,#0ff 47.57px,#7fff80 62.9px,#cdff32 80.91px,#ff0 98.33px,#ffc100 155.9px,#ffa300 190.9px,#ff8900 246.5px)"></i><i style="left:484px;width:4.5px;background:linear-gradient(#000080 30.94px,#00f 34.81px,#007fff 37.91px,#0ff 47.08px,#80ff7f 62.66px,#cf3 80.92px,#ff0 98.93px,#ffc200 154.9px,#ffa100 194.9px,#ff8a00 246.5px)"></i><i style="left:488px;width:4.5px;background:linear-gradient(#000080 30.02px,#00f 33.96px,#0080ff 37.11px,#0ff 46.59px,#80ff7f 62.43px,#cf3 81.44px,#ff0 99.57px,#ffc400 154px,#ffa200 194px,#ff8a00 246.5px)"></i><i style="left:492px;width:4.5px;background:linear-gradient(#000080 29.16px,#00f 33.16px,#007fff 36.36px,#0ff 46.07px,#7fff80 62.22px,#cfff30 83.17px,#ff0 100.2px,#ffc500 153.2px,#ffa300 193.2px,#ff8b00 246.5px)"></i><i style="left:496px;width:4.5px;background:linear-gradient(#000080 28.37px,#00f 32.43px,#007fff 35.69px,#0ff 45.51px,#81ff7e 62.37px,#cf3 82.43px,#ff0 100.8px,#ffc200 157.4px,#ffa200 197.4px,#ff8b00 246.5px)"></i><i style="left:500px;width:4.5px;background:linear-gradient(#000080 27.65px,#00f 31.76px,#007fff 35.11px,#0ff 44.9px,#7fff80 62px,#cf3 82.89px,#ff0 101.7px,#ffc300 156.7px,#ffa200 196.7px,#ff8c00 246.5px)"></i><i style="left:504px;width:4.5px;background:linear-gradient(#000080 27.01px,#00f 31.18px,#0080ff 34.65px,#0ff 44.26px,#80ff7f 62.03px,#d3ff2c 86.01px,#ff0 101.9px,#ffc400 156px,#ffa100 201px,#ff8d00 246.5px)"></i><i style="left:508px;width:4.5px;background:linear-gradient(#000080 26.45px,#00f 30.69px,#0080ff 34.32px,#0ff 43.7px,#80ff7f 62.14px,#d1ff2e 85.45px,#ff0 102.3px,#ffc500 155.4px,#ffa200 200.4px,#ff8d00 246.5px)"></i><i style="left:512px;width:4.5px;background:linear-gradient(#000080 25.98px,#00f 30.28px,#007fff 34.1px,#0ff 43.23px,#7fff80 62.31px,#ceff31 84.98px,#ff0 102.8px,#ffc600 155px,#ffa200 200px,#ff8e00 246.5px)"></i><i style="left:516px;width:4.5px;background:linear-gradient(#000080 25.59px,#00f 29.96px,#0080ff 33.99px,#0ff 42.84px,#80ff7f 62.54px,#cf3 84.6px,#ff0 103.3px,#ffc700 154.6px,#ffa300 199.6px,#ff8e00 246.5px)"></i><i style="left:520px;width:4.5px;background:linear-gradient(#000080 25.3px,#00f 29.73px,#0081ff 34.06px,#0ff 42.55px,#7fff80 62.79px,#cf3 84.92px,#fffe00 104.3px,#ffc400 159.3px,#ffa100 204.3px,#ff8f00 246.5px)"></i><i style="left:524px;width:4.5px;background:linear-gradient(#000080 25.11px,#00f 29.58px,#007fff 33.95px,#0ff 42.36px,#7fff80 63.06px,#d6ff29 89.11px,#ff0 104.2px,#ffc500 159.1px,#ffa200 204.1px,#ff8f00 246.5px)"></i><i style="left:528px;width:4.5px;background:linear-gradient(#000080 25.01px,#00f 29.51px,#007fff 33.98px,#0ff 42.26px,#82ff7d 64.01px,#d5ff2a 89.01px,#ff0 104.7px,#ffc500 159px,#ffa200 204px,#ff9000 246.5px)"></i><i style="left:532px;width:4.5px;background:linear-gradient(#000080 25.01px,#00f 29.51px,#0080ff 34.01px,#0ff 42.26px,#81ff7e 64.01px,#d4ff2b 89.01px,#ff0 105.1px,#ffc600 159px,#ffa000 209px,#ff9000 246.5px)"></i><i style="left:536px;width:4.5px;background:linear-gradient(#000080 25.11px,#00f 29.58px,#0080ff 34.04px,#0ff 42.29px,#81ff7e 64.11px,#d3ff2c 89.11px,#ff0 105.5px,#ffc600 159.1px,#ffa100 209.1px,#ff9000 246.5px)"></i><i style="left:540px;width:4.5px;background:linear-gradient(#000080 25.3px,#00f 29.72px,#007fff 34.07px,#0ff 42.33px,#80ff7f 64.31px,#d2ff2d 89.31px,#ff0 105.9px,#ffc700 159.3px,#ffa100 209.3px,#ff9100 246.5px)"></i><i style="left:544px;width:4.5px;background:linear-gradient(#000080 25.59px,#00f 29.92px,#0080ff 34.14px,#0ff 42.39px,#80ff7f 64.6px,#d2ff2d 89.6px,#ff0 106.2px,#ffc700 159.6px,#ffa100 209.6px,#ff9100 246.5px)"></i><i style="left:548px;width:4.5px;background:linear-gradient(#000080 25.98px,#00f 30.2px,#007fff 34.24px,#0ff 42.49px,#81ff7e 64.98px,#d2ff2d 89.98px,#ff0 106.6px,#ffc700 160px,#ffa200 210px,#ff9200 246.5px)"></i><i style="left:552px;width:4.5px;background:linear-gradient(#000080 26.45px,#00f 30.55px,#0080ff 34.4px,#0ff 42.62px,#81ff7e 65.45px,#d2ff2d 90.45px,#ff0 106.9px,#ffc700 160.4px,#ffa200 210.4px,#ff9200 246.5px)"></i><i style="left:556px;width:4.5px;background:linear-gradient(#000080 27.01px,#00f 30.98px,#007fff 34.61px,#0ff 42.79px,#82ff7d 66.01px,#d3ff2c 91.01px,#ff0 107.2px,#ffc700 161px,#ffa000 216px,#ff9200 246.5px)"></i><i style="left:560px;width:4.5px;background:linear-gradient(#000080 27.65px,#00f 31.48px,#0080ff 34.9px,#0ff 43px,#80ff7f 65.45px,#d3ff2c 91.65px,#ff0 107.6px,#ffc700 161.7px,#ffa000 216.7px,#ff9300 246.5px)"></i><i style="left:564px;width:4.5px;background:linear-gradient(#000080 28.37px,#00f 32.06px,#0080ff 35.27px,#0ff 43.27px,#80ff7f 65.73px,#d4ff2b 92.37px,#ff0 107.9px,#ffc700 162.4px,#ffa000 217.4px,#ff9300 246.5px)"></i><i style="left:568px;width:4.5px;background:linear-gradient(#000080 29.16px,#00f 32.71px,#007fff 35.72px,#0ff 43.6px,#80ff7f 66px,#d6ff29 93.17px,#ff0 108.3px,#ffc700 163.2px,#ffa000 218.2px,#ff9300 246.5px)"></i><i style="left:572px;width:4.5px;background:linear-gradient(#000080 30.02px,#0002ff 33.49px,#0080ff 36.28px,#0ff 43.99px,#80ff7f 66.26px,#d7ff28 94.02px,#ff0 109px,#ffc700 164px,#ffa000 219px,#ff9400 246.5px)"></i><i style="left:576px;width:4.5px;background:linear-gradient(#000080 30.94px,#00f 34.24px,#0080ff 36.94px,#0ff 44.44px,#80ff80 66.5px,#d8ff27 94.94px,#fffe00 109.9px,#ffc700 164.9px,#ffa000 219.9px,#ff9400 246.5px)"></i><i style="left:580px;width:4.5px;background:linear-gradient(#000080 31.91px,#00f 35.09px,#007fff 37.67px,#0ff 44.83px,#80ff7f 66.75px,#daff25 95.91px,#ff0 109.4px,#ffc600 165.9px,#ffa000 220.9px,#ff9400 246.5px)"></i><i style="left:584px;width:4.5px;background:linear-gradient(#000080 32.92px,#00f 35.98px,#0080ff 38.44px,#0ff 45.09px,#7fff80 67.02px,#dcff23 96.92px,#ff0 109.8px,#ffc600 166.9px,#ffa000 221.9px,#ff9500 246.5px)"></i><i style="left:588px;width:4.5px;background:linear-gradient(#000080 33.97px,#00f 36.89px,#007fff 39.24px,#0ff 45.27px,#82ff7d 67.97px,#df2 97.97px,#ff0 110.2px,#ffc600 168px,#ff9e00 228px,#ff9500 246.5px)"></i><i style="left:592px;width:4.5px;background:linear-gradient(#000080 35.05px,#00f 37.84px,#0080ff 40.08px,#0ff 45.41px,#80ff7f 67.58px,#dfff20 99.05px,#ff0 110.6px,#ffc600 169.1px,#ff9e00 229.1px,#ff9500 246.5px)"></i><i style="left:596px;width:4.5px;background:linear-gradient(#000080 36.15px,#00f 38.81px,#0080ff 40.95px,#0ff 45.56px,#7fff80 67.84px,#e1ff1e 100.2px,#ff0 111px,#ffc500 170.2px,#ff9d00 230.2px,#ff9500 246.5px)"></i><i style="left:600px;width:4.5px;background:linear-gradient(#000080 37.26px,#00f 39.8px,#0080ff 41.85px,#0ff 45.77px,#80ff7f 68.08px,#e3ff1c 101.3px,#ff0 111.4px,#ffc900 166.3px,#ff9d00 231.3px,#ff9500 246.5px)"></i><i style="left:604px;width:4.5px;background:linear-gradient(#000080 38.38px,#00f 40.81px,#0080ff 42.78px,#0ff 46.1px,#7fff80 68.27px,#e5ff1a 102.4px,#fffe00 112.4px,#ffc800 167.4px,#ff9a00 237.4px,#ff9600 246.5px)"></i><i style="left:608px;width:4.5px;background:linear-gradient(#000080 39.49px,#00f 41.83px,#0080ff 43.74px,#0ff 46.58px,#80ff7f 68.49px,#e7ff18 103.5px,#ff0 112.3px,#ffc800 168.5px,#ff9a00 238.5px,#ff9600 246.5px)"></i><i style="left:612px;width:4.5px;background:linear-gradient(#000080 40.59px,#00f 42.86px,#0080ff 44.73px,#0ff 47.33px,#80ff7f 68.49px,#e9ff16 104.6px,#ff0 112.8px,#ffc800 169.6px,#ff9600 246.5px)"></i><i style="left:616px;width:4.5px;background:linear-gradient(#000080 41.66px,#00f 43.9px,#007fff 45.73px,#0ff 48.21px,#7fff80 68.47px,#f8ff07 110.7px,#ff0 113.2px,#ffc700 170.7px,#ff9600 246.5px)"></i><i style="left:620px;width:4.5px;background:linear-gradient(#000080 42.71px,#00f 44.91px,#0080ff 46.72px,#0ff 49.14px,#7fff80 68.25px,#ff0 113.8px,#ffc700 171.7px,#ff9600 246.5px)"></i><i style="left:624px;width:4.5px;background:linear-gradient(#000080 43.72px,#00f 45.89px,#007fff 47.67px,#0ff 50.05px,#80ff7f 68.07px,#ff0 114.3px,#ffc700 172.7px,#ff9700 246.5px)"></i><i style="left:628px;width:4.5px;background:linear-gradient(#000080 44.68px,#00f 46.83px,#007fff 48.58px,#0ff 50.93px,#80ff7f 67.38px,#ff0 114.9px,#ffc600 173.7px,#ff9700 246.5px)"></i><i style="left:632px;width:4.5px;background:linear-gradient(#000080 45.59px,#0002ff 47.74px,#0080ff 49.45px,#0ff 51.76px,#7fff80 66.82px,#ff0 115.5px,#ffc600 174.6px,#ff9700 246.5px)"></i><i style="left:636px;width:4.5px;background:linear-gradient(#000080 46.44px,#00f 48.54px,#0080ff 50.26px,#0ff 52.55px,#80ff7f 66.26px,#ff0 116.1px,#ffc600 175.4px,#ff9700 246.5px)"></i><i style="left:640px;width:4.5px;background:linear-gradient(#000080 47.22px,#00f 49.31px,#0080ff 51.01px,#0ff 53.28px,#7fff80 65.74px,#ff0 116.8px,#ffc900 171.2px,#ff9700 246.5px)"></i><i style="left:644px;width:4.5px;background:linear-gradient(#000080 47.93px,#00f 50px,#0080ff 51.7px,#0ff 53.96px,#80ff7f 65.33px,#ff0 117.4px,#ffc900 171.9px,#ff9800 246.5px)"></i><i style="left:648px;width:4.5px;background:linear-gradient(#000080 48.56px,#00f 50.63px,#0080ff 52.32px,#0ff 54.57px,#80ff7f 65.07px,#ff0 118px,#ffc900 172.6px,#ff9800 246.5px)"></i><i style="left:652px;width:4.5px;background:linear-gradient(#000080 49.11px,#00f 51.18px,#007fff 52.86px,#0ff 55.11px,#7fff80 65px,#ff0 118.7px,#ffc900 173.1px,#ff9800 246.5px)"></i><i style="left:656px;width:4.5px;background:linear-gradient(#000080 49.58px,#00f 51.64px,#0080ff 53.33px,#0ff 55.59px,#80ff7f 65.1px,#ff0 119.3px,#ffc900 173.6px,#ff9800 246.5px)"></i><i style="left:660px;width:4.5px;background:linear-gradient(#000080 49.95px,#00f 52.01px,#0080ff 53.71px,#0ff 56px,#7fff80 65.29px,#e7ff18 108.9px,#ff0 120px,#ffca00 173.9px,#f90 246.5px)"></i><i style="left:664px;width:4.5px;background:linear-gradient(#000080 50.23px,#00f 52.3px,#007fff 53.99px,#0ff 56.32px,#80ff7f 65.57px,#d3ff2c 99.23px,#ff0 120.6px,#ffc700 179.2px,#f90 246.5px)"></i><i style="left:668px;width:4.5px;background:linear-gradient(#000080 50.41px,#00f 52.48px,#007fff 54.18px,#0ff 56.57px,#80ff7f 65.89px,#d4ff2b 99.41px,#ff0 121.3px,#ffc700 179.4px,#f90 246.5px)"></i><i style="left:672px;width:4.5px;background:linear-gradient(#000080 50.49px,#00f 52.58px,#007fff 54.28px,#0ff 56.73px,#80ff7f 66.24px,#cf3 94.8px,#ff0 122px,#ffc700 179.5px,#ff9a00 246.5px)"></i><i style="left:676px;width:4.5px;background:linear-gradient(#000080 50.48px,#00f 52.57px,#0080ff 54.29px,#0ff 56.81px,#7fff80 66.59px,#cf3 94.48px,#ff0 122.7px,#ffc800 179.5px,#ff9a00 246.5px)"></i><i style="left:680px;width:4.5px;background:linear-gradient(#000080 50.37px,#0001ff 52.52px,#0080ff 54.25px,#0ff 56.93px,#80ff7f 67.16px,#cf3 94.37px,#fffe00 124.4px,#ffc800 179.4px,#ff9b00 246.5px)"></i><i style="left:684px;width:4.5px;background:linear-gradient(#000080 50.16px,#00f 52.37px,#007fff 54.18px,#0ff 57.12px,#7fff80 67.58px,#cdff32 94.17px,#ff0 124.2px,#ffc900 179.2px,#ff9b00 246.5px)"></i><i style="left:688px;width:4.5px;background:linear-gradient(#000080 49.86px,#00f 52.18px,#007fff 54.07px,#0ff 57.35px,#80ff7f 68.22px,#cdff32 93.86px,#ff0 124.8px,#ffca00 178.9px,#ff9b00 246.5px)"></i><i style="left:692px;width:4.5px;background:linear-gradient(#000080 49.47px,#00f 51.92px,#0080ff 53.92px,#0ff 57.59px,#80ff7f 68.91px,#cf3 93.47px,#ff0 125.5px,#ffc700 183.5px,#ff9c00 246.5px)"></i><i style="left:696px;width:4.5px;background:linear-gradient(#000080 48.98px,#00f 51.58px,#0080ff 53.7px,#0ff 57.81px,#80ff7f 69.63px,#cf3 93.05px,#ff0 126.2px,#ffc800 183px,#ff9c00 246.5px)"></i><i style="left:700px;width:4.5px;background:linear-gradient(#000080 48.41px,#00f 51.17px,#0080ff 53.42px,#0ff 57.98px,#80ff7f 70.35px,#cf3 92.85px,#ff0 127.4px,#ffc900 182.4px,#ff9d00 246.5px)"></i><i style="left:704px;width:4.5px;background:linear-gradient(#000080 47.76px,#00f 50.68px,#007fff 53.06px,#0ff 58.08px,#7fff80 71.04px,#cf3 92.68px,#ff0 127.7px,#ffc900 181.8px,#ff9d00 246.5px)"></i><i style="left:708px;width:4.5px;background:linear-gradient(#000080 47.03px,#00f 50.11px,#0080ff 52.63px,#0ff 58.1px,#80ff7f 71.69px,#cf3 92.57px,#ff0 128.4px,#ffc700 186px,#ff9d00 246.5px)"></i><i style="left:712px;width:4.5px;background:linear-gradient(#000080 46.23px,#00f 49.46px,#007fff 52.1px,#0ff 57.93px,#7fff80 72.25px,#cf3 92.51px,#fffe00 130.2px,#ffc800 185.2px,#ff9e00 246.5px)"></i><i style="left:716px;width:4.5px;background:linear-gradient(#000080 45.37px,#00f 48.74px,#007fff 51.49px,#0ff 57.65px,#80ff7f 72.74px,#cf3 92.57px,#ff0 129.9px,#ffc900 184.4px,#ff9e00 246.5px)"></i><i style="left:720px;width:4.5px;background:linear-gradient(#000080 44.44px,#00f 47.99px,#007fff 50.83px,#0ff 57.29px,#80ff7f 73.45px,#cdff32 93.45px,#ff0 130.7px,#ffca00 183.4px,#ff9e00 246.5px)"></i><i style="left:724px;width:4.5px;background:linear-gradient(#000080 43.47px,#00f 47.21px,#0081ff 50.21px,#0ff 56.86px,#7fff80 73.74px,#cf3 93.97px,#fffe00 132.5px,#ffc800 187.5px,#ff9f00 246.5px)"></i><i style="left:728px;width:4.5px;background:linear-gradient(#000080 42.45px,#00f 46.39px,#0080ff 49.38px,#0ff 56.38px,#7fff80 74.23px,#cf3 95.1px,#ff0 132.5px,#ffc900 186.4px,#ff9f00 246.5px)"></i><i style="left:732px;width:4.5px;background:linear-gradient(#000080 41.4px,#00f 45.53px,#0080ff 48.61px,#0ff 55.88px,#82ff7d 75.4px,#cf3 96.33px,#ff0 133.4px,#ffca00 185.4px,#ff9f00 246.5px)"></i><i style="left:736px;width:4.5px;background:linear-gradient(#000080 40.31px,#00f 44.61px,#007fff 47.81px,#0ff 55.35px,#7fff80 75.05px,#cf3 97.53px,#ff0 134.3px,#ffc800 189.3px,#ffa000 246.5px)"></i><i style="left:740px;width:4.5px;background:linear-gradient(#000080 39.21px,#00f 43.63px,#0080ff 47.01px,#0ff 54.82px,#80ff7f 75.33px,#cf3 98.57px,#ff0 134.8px,#ffc900 188.2px,#ffa000 246.5px)"></i><i style="left:744px;width:4.5px;background:linear-gradient(#000080 38.1px,#00f 42.59px,#0080ff 46.2px,#0ff 54.29px,#80ff7f 75.48px,#cf3 99.29px,#fffd00 137.1px,#ffca00 187.1px,#ffa000 246.5px)"></i><i style="left:748px;width:4.5px;background:linear-gradient(#000080 36.98px,#00f 41.48px,#007fff 45.39px,#0ff 53.81px,#81ff7e 75.98px,#ceff31 101px,#ff0 136px,#ffc800 191px,#ffa000 246.5px)"></i><i style="left:752px;width:4.5px;background:linear-gradient(#000080 35.87px,#00f 40.37px,#0080ff 44.63px,#0ff 53.42px,#80ff80 75.5px,#cf3 99.87px,#ff0 135.9px,#ffc900 189.9px,#ffa100 246.5px)"></i><i style="left:756px;width:4.5px;background:linear-gradient(#000080 34.78px,#00f 39.28px,#007fff 43.9px,#0ff 53.12px,#80ff80 75.5px,#cf3 100px,#ff0 136.1px,#ffc700 193.8px,#ffa100 246.5px)"></i><i style="left:760px;width:4.5px;background:linear-gradient(#000080 33.7px,#00f 38.2px,#007fff 43.21px,#0ff 52.87px,#80ff80 75.5px,#cf3 100.2px,#fffe00 137.7px,#ffc800 192.7px,#ffa100 246.5px)"></i><i style="left:764px;width:4.5px;background:linear-gradient(#000080 32.66px,#00f 37.16px,#007fff 42.55px,#0ff 52.64px,#80ff80 75.5px,#ceff31 101.7px,#ff0 136.7px,#ffc600 196.7px,#ffa200 246.5px)"></i><i style="left:768px;width:4.5px;background:linear-gradient(#000080 31.66px,#00f 36.16px,#007fff 41.92px,#0ff 52.41px,#80ff7f 75.66px,#cf3 100.7px,#ff0 136.5px,#ffc700 195.7px,#ffa200 246.5px)"></i><i style="left:772px;width:4.5px;background:linear-gradient(#000080 30.7px,#00f 35.2px,#007fff 41.31px,#0ff 52.15px,#80ff80 75.5px,#cf3 100.6px,#ff0 136.6px,#ffc400 199.7px,#ffa200 246.5px)"></i><i style="left:776px;width:4.5px;background:linear-gradient(#000080 29.8px,#00f 34.3px,#0081ff 40.87px,#0ff 51.82px,#80ff80 75.5px,#cf3 100.8px,#ff0 136.8px,#ffc600 198.8px,#ffa200 246.5px)"></i><i style="left:780px;width:4.5px;background:linear-gradient(#000080 28.96px,#00f 33.46px,#007fff 40.15px,#0ff 51.39px,#80ff80 75.5px,#cf3 101px,#fffe00 138px,#ffc300 203px,#ffa300 246.5px)"></i><i style="left:784px;width:4.5px;background:linear-gradient(#000080 28.19px,#00f 32.69px,#0080ff 39.61px,#0ff 50.88px,#7fff80 75.52px,#cdff32 102.2px,#ff0 137.2px,#ffc000 207.2px,#ffa300 246.5px)"></i><i style="left:788px;width:4.5px;background:linear-gradient(#000080 27.48px,#00f 31.98px,#0080ff 39.14px,#0ff 50.44px,#82ff7d 76.49px,#cf3 101.5px,#ff0 137.3px,#ffc100 206.5px,#ffa300 246.5px)"></i><i style="left:792px;width:4.5px;background:linear-gradient(#000080 26.86px,#00f 31.36px,#007fff 38.74px,#0ff 50.05px,#80ff7f 75.86px,#cf3 101.8px,#ff0 137.6px,#ffbe00 210.9px,#ffa300 246.5px)"></i><i style="left:796px;width:4.5px;background:linear-gradient(#000080 26.32px,#00f 30.82px,#007fff 38.42px,#0ff 49.73px,#80ff7f 75.92px,#cf3 102.1px,#ff0 137.8px,#fb0 215.3px,#ffa400 246.5px)"></i><i style="left:800px;width:4.5px;background:linear-gradient(#000080 25.87px,#00f 30.37px,#007fff 38.17px,#0ff 49.47px,#7fff80 76.12px,#cf3 102.5px,#ff0 138px,#ffb800 219.9px,#ffa400 246.5px)"></i><i style="left:804px;width:4.5px;background:linear-gradient(#000080 25.51px,#00f 30.01px,#0080ff 37.99px,#0ff 49.27px,#7fff80 76.34px,#ceff31 104.5px,#fffe00 139.5px,#ffb500 224.5px,#ffa400 246.5px)"></i><i style="left:808px;width:4.5px;background:linear-gradient(#000080 25.25px,#00f 29.75px,#0080ff 37.86px,#0ff 49.13px,#7fff80 76.56px,#cdff32 104.2px,#fffe00 139.2px,#ffae00 234.2px,#ffa400 246.5px)"></i><i style="left:812px;width:4.5px;background:linear-gradient(#000080 25.08px,#00f 29.58px,#007fff 37.78px,#0ff 49.04px,#7fff80 76.77px,#cdff32 104.1px,#ff0 139.1px,#ffa500 246.5px)"></i><i style="left:816px;width:4.5px;background:linear-gradient(#000080 25px,#00f 29.5px,#007fff 37.75px,#0ff 49px,#80ff7f 76.96px,#cf3 104px,#ff0 139px,#ffa500 246.5px)"></i><i style="left:820px;width:4.5px;background:linear-gradient(#000080 25.03px,#00f 29.53px,#0080ff 37.76px,#0ff 48.98px,#80ff7f 77.12px,#cf3 104.2px,#ff0 139.2px,#ffa500 246.5px)"></i><i style="left:824px;width:4.5px;background:linear-gradient(#000080 25.15px,#00f 29.65px,#0080ff 37.79px,#0ff 48.92px,#7fff80 77.26px,#cf3 104.5px,#ff0 139.5px,#ffa500 246.5px)"></i><i style="left:828px;width:4.5px;background:linear-gradient(#000080 25.37px,#00f 29.87px,#007fff 37.85px,#0ff 48.83px,#7fff80 77.4px,#cf3 104.8px,#ff0 139.8px,#ffa500 246.5px)"></i><i style="left:832px;width:4.5px;background:linear-gradient(#000080 25.68px,#00f 30.18px,#007fff 37.96px,#0ff 48.72px,#7fff80 77.54px,#cf3 105.1px,#ff0 140.1px,#ffa600 246.5px)"></i><i style="left:836px;width:4.5px;background:linear-gradient(#000080 26.09px,#00f 30.59px,#007fff 38.12px,#0ff 48.63px,#7fff80 77.68px,#cf3 105.4px,#ff0 140.4px,#ffa600 246.5px)"></i><i style="left:840px;width:4.5px;background:linear-gradient(#000080 26.58px,#00f 31.08px,#0080ff 38.34px,#0ff 48.56px,#7fff80 77.82px,#cf3 105.7px,#ff0 140.7px,#ffa600 246.5px)"></i><i style="left:844px;width:4.5px;background:linear-gradient(#000080 27.16px,#00f 31.66px,#0080ff 38.62px,#0ff 48.53px,#7fff80 77.97px,#cf3 106.2px,#ff0 141.2px,#ffa600 246.5px)"></i><i style="left:848px;width:4.5px;background:linear-gradient(#000080 27.83px,#00f 32.33px,#007fff 38.96px,#0ff 48.56px,#7fff80 78.13px,#cdff32 106.8px,#ff0 141.8px,#ffa700 246.5px)"></i><i style="left:852px;width:4.5px;background:linear-gradient(#000080 28.56px,#00f 33.06px,#0083ff 39.63px,#0ff 48.67px,#80ff7f 78.31px,#cdff32 107.6px,#fffe00 142.6px,#ffa700 246.5px)"></i><i style="left:856px;width:4.5px;background:linear-gradient(#000080 29.37px,#00f 33.87px,#007fff 39.87px,#0ff 48.87px,#80ff80 78.5px,#ceff31 108.4px,#fffe00 143.4px,#fa0 243.4px,#ffa700 246.5px)"></i><i style="left:860px;width:4.5px;background:linear-gradient(#000080 30.24px,#00f 34.73px,#007fff 40.41px,#0ff 49.13px,#81ff7e 79.25px,#cfff30 109.2px,#ff0 142.3px,#ffb300 234.2px,#ffa800 246.5px)"></i><i style="left:864px;width:4.5px;background:linear-gradient(#000080 31.17px,#00f 35.6px,#0080ff 40.98px,#0ff 49.38px,#83ff7c 80.18px,#cf3 107.8px,#ff0 142.6px,#ffb700 230.2px,#ffa800 246.5px)"></i><i style="left:868px;width:4.5px;background:linear-gradient(#000080 32.16px,#00f 36.49px,#007fff 41.55px,#0ff 49.64px,#7fff80 79.21px,#cf3 108.2px,#ff0 142.9px,#fb0 226.2px,#ffa800 246.5px)"></i><i style="left:872px;width:4.5px;background:linear-gradient(#000080 33.18px,#00f 37.4px,#007fff 42.13px,#0ff 49.96px,#80ff7f 79.49px,#cf3 108.6px,#ff0 143.2px,#ffc000 222.2px,#ffa900 246.5px)"></i><i style="left:876px;width:4.5px;background:linear-gradient(#000080 34.24px,#00f 38.32px,#007fff 42.72px,#0ff 50.13px,#80ff7f 79.79px,#cf3 109.1px,#ff0 143.5px,#ffc000 223.2px,#ffa900 246.5px)"></i><i style="left:880px;width:4.5px;background:linear-gradient(#000080 35.32px,#00f 39.25px,#0080ff 43.31px,#0ff 50.36px,#7fff80 80.1px,#cf3 109.5px,#ff0 144.3px,#ffbf00 224.3px,#ffa900 246.5px)"></i><i style="left:884px;width:4.5px;background:linear-gradient(#000080 36.43px,#00f 40.17px,#0080ff 43.89px,#0ff 50.57px,#7fff80 80.43px,#cdff32 110.4px,#fffe00 145.4px,#ffc400 220.4px,#fa0 246.5px)"></i><i style="left:888px;width:4.5px;background:linear-gradient(#000080 37.54px,#00f 41.1px,#007fff 44.45px,#0ff 50.75px,#81ff7e 81.54px,#ceff31 111.5px,#ff0 144.4px,#ffc400 221.5px,#fa0 246.5px)"></i><i style="left:892px;width:4.5px;background:linear-gradient(#000080 38.66px,#00f 42.02px,#0080ff 45px,#0ff 50.9px,#83ff7c 82.66px,#cfff30 112.7px,#ff0 144.7px,#ffc300 222.7px,#ffab00 246.5px)"></i><i style="left:896px;width:4.5px;background:linear-gradient(#000080 39.77px,#00f 42.93px,#0080ff 45.52px,#0ff 51.02px,#80ff80 81.5px,#cfff30 113.8px,#ff0 145px,#ffc300 223.8px,#ffab00 246.5px)"></i><i style="left:900px;width:4.5px;background:linear-gradient(#000080 40.86px,#00f 44.02px,#0080ff 46.61px,#0ff 52.11px,#80ff80 81.5px,#cf3 111.5px,#ff0 145px,#ffc700 219.9px,#ffab00 246.5px)"></i><i style="left:904px;width:4.5px;background:linear-gradient(#000080 41.93px,#00f 45.09px,#0080ff 47.68px,#0ff 53.18px,#80ff80 81.5px,#cf3 111.5px,#fffe00 145.9px,#ffc600 220.9px,#ffab00 246.5px)"></i><i style="left:908px;width:4.5px;background:linear-gradient(#000080 42.97px,#00f 46.13px,#0080ff 48.72px,#0ff 54.22px,#81ff7e 81.97px,#cdff32 112px,#ff0 145px,#ffc500 222px,#ffab00 246.5px)"></i><i style="left:912px;width:2.5px;background:linear-gradient(#000080 43.72px,#00f 46.88px,#0080ff 49.47px,#0ff 54.97px,#80ff80 81.5px,#ceff31 112.7px,#ff0 145px,#ffc400 222.7px,#ffab00 246.5px)"></i></div></div>
<svg width="1000" height="1021" viewBox="0 0 1000 1021">
<defs><linearGradient id="jet" x1="0" y1="0" x2="0" y2="1"><stop offset="0" stop-color="#800000"/><stop offset="0.03571" stop-color="#a40000"/><stop offset="0.07143" stop-color="#c80000"/><stop offset="0.1071" stop-color="#ed0000"/><stop offset="0.1429" stop-color="#ff1200"/><stop offset="0.1786" stop-color="#ff3700"/><stop offset="0.2143" stop-color="#ff5b00"/><stop offset="0.25" stop-color="#ff8000"/><stop offset="0.2857" stop-color="#ffa400"/><stop offset="0.3214" stop-color="#ffc800"/><stop offset="0.3571" stop-color="#ffed00"/><stop offset="0.3929" stop-color="#edff12"/><stop offset="0.4286" stop-color="#c8ff37"/><stop offset="0.4643" stop-color="#a4ff5b"/><stop offset="0.5" stop-color="#80ff80"/><stop offset="0.5357" stop-color="#5bffa4"/><stop offset="0.5714" stop-color="#37ffc8"/><stop offset="0.6071" stop-color="#12ffed"/><stop offset="0.6429" stop-color="#00edff"/><stop offset="0.6786" stop-color="#00c8ff"/><stop offset="0.7143" stop-color="#00a4ff"/><stop offset="0.75" stop-color="#0080ff"/><stop offset="0.7857" stop-color="#005bff"/><stop offset="0.8214" stop-color="#0037ff"/><stop offset="0.8571" stop-color="#0012ff"/><stop offset="0.8929" stop-color="#0000ed"/><stop offset="0.9286" stop-color="#0000c8"/><stop offset="0.9643" stop-color="#0000a4"/><stop offset="1" stop-color="#000080"/></linearGradient><filter id="hb" x="0" y="0" width="1" height="1" color-interpolation-filters="sRGB"><feGaussianBlur stdDeviation="2.5 0"/></filter></defs>
<path d="M63.0 60.0 L66.0 60.0 L69.0 60.0 L72.0 60.0 L75.0 60.0 L78.0 60.0 L81.0 60.0 L84.0 60.0 L87.0 60.0 L90.0 60.0 L93.0 60.0 L96.0 60.0 L99.0 60.0 L102.0 60.0 L105.0 60.0 L108.0 60.0 L111.0 60.0 L114.0 60.0 L117.0 60.0 L120.0 60.0 L123.0 60.0 L126.0 60.0 L129.0 60.0 L132.0 60.0 L135.0 60.0 L138.0 60.0 L141.0 60.0 L144.0 60.0 L147.0 60.0 L150.0 60.0 L153.0 60.0 L156.0 60.0 L159.0 60.0 L162.0 60.0 L165.0 60.0 L168.0 60.0 L171.0 60.0 L174.0 60.0 L177.0 60.0 L180.0 60.0 L183.0 60.0 L186.0 60.0 L189.0 60.0 L192.0 60.0 L195.0 60.0 L198.0 60.0 L201.0 60.0 L204.0 60.0 L207.0 60.0 L210.0 60.0 L213.0 60.0 L216.0 60.0 L219.0 60.0 L222.0 60.0 L225.0 60.0 L228.0 60.0 L231.0 60.0 L234.0 60.0 L237.0 60.0 L240.0 60.0 L243.0 60.0 L246.0 60.0 L249.0 60.0 L252.0 60.0 L255.0 60.0 L258.0 60.0 L261.0 60.0 L264.0 60.0 L267.0 60.0 L270.0 60.0 L273.0 60.0 L276.0 60.0 L279.0 60.0 L282.0 60.0 L285.0 60.0 L288.0 60.0 L291.0 60.0 L294.0 60.0 L297.0 60.0 L300.0 60.0 L303.0 60.0 L306.0 60.0 L309.0 60.0 L312.0 60.0 L315.0 60.0 L318.0 60.0 L321.0 60.0 L324.0 60.0 L327.0 60.0 L330.0 60.0 L333.0 60.0 L336.0 60.0 L339.0 60.0 L342.0 60.0 L345.0 60.0 L348.0 60.0 L351.0 60.0 L354.0 60.0 L357.0 60.0 L360.0 60.0 L363.0 60.0 L366.0 60.0 L369.0 60.0 L372.0 60.0 L375.0 60.0 L378.0 60.0 L381.0 60.0 L384.0 60.0 L387.0 60.0 L390.0 60.0 L393.0 60.0 L396.0 60.0 L399.0 60.0 L402.0 60.0 L405.0 60.0 L408.0 60.0 L411.0 60.0 L414.0 60.0 L417.0 60.0 L420.0 60.0 L423.0 60.0 L426.0 60.0 L429.0 60.0 L432.0 60.0 L435.0 60.0 L438.0 60.0 L441.0 60.0 L444.0 60.0 L447.0 60.0 L450.0 60.0 L453.0 60.0 L456.0 60.0 L459.0 60.0 L462.0 60.0 L465.0 60.0 L468.0 60.0 L471.0 60.0 L474.0 60.0 L477.0 60.0 L480.0 60.0 L483.0 60.0 L486.0 60.0 L489.0 60.0 L492.0 60.0 L495.0 60.0 L498.0 60.0 L501.0 60.0 L504.0 60.0 L507.0 60.0 L510.0 60.0 L513.0 60.0 L516.0 60.0 L519.0 60.0 L522.0 60.0 L525.0 60.0 L528.0 60.0 L531.0 60.0 L534.0 60.0 L537.0 60.0 L540.0 60.0 L543.0 60.0 L546.0 60.0 L549.0 60.0 L552.0 60.0 L555.0 60.0 L558.0 60.0 L561.0 60.0 L564.0 60.0 L567.0 60.0 L570.0 60.0 L573.0 60.0 L576.0 60.0 L579.0 60.0 L582.0 60.0 L585.0 60.0 L588.0 60.0 L591.0 60.0 L594.0 60.0 L597.0 60.0 L600.0 60.0 L603.0 60.0 L606.0 60.0 L609.0 60.0 L612.0 60.0 L615.0 60.0 L618.0 60.0 L621.0 60.0 L624.0 60.0 L627.0 60.0 L630.0 60.0 L633.0 60.0 L636.0 60.0 L639.0 60.0 L642.0 60.0 L645.0 60.0 L648.0 60.0 L651.0 60.0 L654.0 60.0 L657.0 60.0 L660.0 60.0 L663.0 60.0 L666.0 60.0 L669.0 60.0 L672.0 60.0 L675.0 60.0 L678.0 60.0 L681.0 60.0 L684.0 60.0 L687.0 60.0 L690.0 60.0 L693.0 60.0 L696.0 60.0 L699.0 60.0 L702.0 60.0 L705.0 60.0 L708.0 60.0 L711.0 60.0 L714.0 60.0 L717.0 60.0 L720.0 60.0 L723.0 60.0 L726.0 60.0 L729.0 60.0 L732.0 60.0 L735.0 60.0 L738.0 60.0 L741.0 60.0 L744.0 60.0 L747.0 60.0 L750.0 60.0 L753.0 60.0 L756.0 60.0 L759.0 60.0 L762.0 60.0 L765.0 60.0 L768.0 60.0 L771.0 60.0 L774.0 60.0 L777.0 60.0 L780.0 60.0 L783.0 60.0 L786.0 60.0 L789.0 60.0 L792.0 60.0 L795.0 60.0 L798.0 60.0 L801.0 60.0 L804.0 60.0 L807.0 60.0 L810.0 60.0 L813.0 60.0 L816.0 60.0 L819.0 60.0 L822.0 60.0 L825.0 60.0 L828.0 60.0 L831.0 60.0 L834.0 60.0 L837.0 60.0 L840.0 60.0 L843.0 60.0 L846.0 60.0 L849.0 60.0 L852.0 60.0 L855.0 60.0 L858.0 60.0 L861.0 60.0 L864.0 60.0 L867.0 60.0 L870.0 60.0 L873.0 60.0 L876.0 60.0 L879.0 60.0 L882.0 60.0 L885.0 60.0 L888.0 60.0 L891.0 60.0 L894.0 60.0 L897.0 60.0 L900.0 60.0 L903.0 60.0 L906.0 60.0 L909.0 60.0 L912.0 60.0 L915.0 60.0 L918.0 60.0 L921.0 60.0 L924.0 60.0 L927.0 60.0 L930.0 60.0 L933.0 60.0 L936.0 60.0 L939.0 60.0 L942.0 60.0 L945.0 60.0 L945 21.5 L63 21.5 Z" fill="#fff"/>
<path d="M63.0 60.0 L66.0 60.0 L69.0 60.0 L72.0 60.0 L75.0 60.0 L78.0 60.0 L81.0 60.0 L84.0 60.0 L87.0 60.0 L90.0 60.0 L93.0 60.0 L96.0 60.0 L99.0 60.0 L102.0 60.0 L105.0 60.0 L108.0 60.0 L111.0 60.0 L114.0 60.0 L117.0 60.0 L120.0 60.0 L123.0 60.0 L126.0 60.0 L129.0 60.0 L132.0 60.0 L135.0 60.0 L138.0 60.0 L141.0 60.0 L144.0 60.0 L147.0 60.0 L150.0 60.0 L153.0 60.0 L156.0 60.0 L159.0 60.0 L162.0 60.0 L165.0 60.0 L168.0 60.0 L171.0 60.0 L174.0 60.0 L177.0 60.0 L180.0 60.0 L183.0 60.0 L186.0 60.0 L189.0 60.0 L192.0 60.0 L195.0 60.0 L198.0 60.0 L201.0 60.0 L204.0 60.0 L207.0 60.0 L210.0 60.0 L213.0 60.0 L216.0 60.0 L219.0 60.0 L222.0 60.0 L225.0 60.0 L228.0 60.0 L231.0 60.0 L234.0 60.0 L237.0 60.0 L240.0 60.0 L243.0 60.0 L246.0 60.0 L249.0 60.0 L252.0 60.0 L255.0 60.0 L258.0 60.0 L261.0 60.0 L264.0 60.0 L267.0 60.0 L270.0 60.0 L273.0 60.0 L276.0 60.0 L279.0 60.0 L282.0 60.0 L285.0 60.0 L288.0 60.0 L291.0 60.0 L294.0 60.0 L297.0 60.0 L300.0 60.0 L303.0 60.0 L306.0 60.0 L309.0 60.0 L312.0 60.0 L315.0 60.0 L318.0 60.0 L321.0 60.0 L324.0 60.0 L327.0 60.0 L330.0 60.0 L333.0 60.0 L336.0 60.0 L339.0 60.0 L342.0 60.0 L345.0 60.0 L348.0 60.0 L351.0 60.0 L354.0 60.0 L357.0 60.0 L360.0 60.0 L363.0 60.0 L366.0 60.0 L369.0 60.0 L372.0 60.0 L375.0 60.0 L378.0 60.0 L381.0 60.0 L384.0 60.0 L387.0 60.0 L390.0 60.0 L393.0 60.0 L396.0 60.0 L399.0 60.0 L402.0 60.0 L405.0 60.0 L408.0 60.0 L411.0 60.0 L414.0 60.0 L417.0 60.0 L420.0 60.0 L423.0 60.0 L426.0 60.0 L429.0 60.0 L432.0 60.0 L435.0 60.0 L438.0 60.0 L441.0 60.0 L444.0 60.0 L447.0 60.0 L450.0 60.0 L453.0 60.0 L456.0 60.0 L459.0 60.0 L462.0 60.0 L465.0 60.0 L468.0 60.0 L471.0 60.0 L474.0 60.0 L477.0 60.0 L480.0 60.0 L483.0 60.0 L486.0 60.0 L489.0 60.0 L492.0 60.0 L495.0 60.0 L498.0 60.0 L501.0 60.0 L504.0 60.0 L507.0 60.0 L510.0 60.0 L513.0 60.0 L516.0 60.0 L519.0 60.0 L522.0 60.0 L525.0 60.0 L528.0 60.0 L531.0 60.0 L534.0 60.0 L537.0 60.0 L540.0 60.0 L543.0 60.0 L546.0 60.0 L549.0 60.0 L552.0 60.0 L555.0 60.0 L558.0 60.0 L561.0 60.0 L564.0 60.0 L567.0 60.0 L570.0 60.0 L573.0 60.0 L576.0 60.0 L579.0 60.0 L582.0 60.0 L585.0 60.0 L588.0 60.0 L591.0 60.0 L594.0 60.0 L597.0 60.0 L600.0 60.0 L603.0 60.0 L606.0 60.0 L609.0 60.0 L612.0 60.0 L615.0 60.0 L618.0 60.0 L621.0 60.0 L624.0 60.0 L627.0 60.0 L630.0 60.0 L633.0 60.0 L636.0 60.0 L639.0 60.0 L642.0 60.0 L645.0 60.0 L648.0 60.0 L651.0 60.0 L654.0 60.0 L657.0 60.0 L660.0 60.0 L663.0 60.0 L666.0 60.0 L669.0 60.0 L672.0 60.0 L675.0 60.0 L678.0 60.0 L681.0 60.0 L684.0 60.0 L687.0 60.0 L690.0 60.0 L693.0 60.0 L696.0 60.0 L699.0 60.0 L702.0 60.0 L705.0 60.0 L708.0 60.0 L711.0 60.0 L714.0 60.0 L717.0 60.0 L720.0 60.0 L723.0 60.0 L726.0 60.0 L729.0 60.0 L732.0 60.0 L735.0 60.0 L738.0 60.0 L741.0 60.0 L744.0 60.0 L747.0 60.0 L750.0 60.0 L753.0 60.0 L756.0 60.0 L759.0 60.0 L762.0 60.0 L765.0 60.0 L768.0 60.0 L771.0 60.0 L774.0 60.0 L777.0 60.0 L780.0 60.0 L783.0 60.0 L786.0 60.0 L789.0 60.0 L792.0 60.0 L795.0 60.0 L798.0 60.0 L801.0 60.0 L804.0 60.0 L807.0 60.0 L810.0 60.0 L813.0 60.0 L816.0 60.0 L819.0 60.0 L822.0 60.0 L825.0 60.0 L828.0 60.0 L831.0 60.0 L834.0 60.0 L837.0 60.0 L840.0 60.0 L843.0 60.0 L846.0 60.0 L849.0 60.0 L852.0 60.0 L855.0 60.0 L858.0 60.0 L861.0 60.0 L864.0 60.0 L867.0 60.0 L870.0 60.0 L873.0 60.0 L876.0 60.0 L879.0 60.0 L882.0 60.0 L885.0 60.0 L888.0 60.0 L891.0 60.0 L894.0 60.0 L897.0 60.0 L900.0 60.0 L903.0 60.0 L906.0 60.0 L909.0 60.0 L912.0 60.0 L915.0 60.0 L918.0 60.0 L921.0 60.0 L924.0 60.0 L927.0 60.0 L930.0 60.0 L933.0 60.0 L936.0 60.0 L939.0 60.0 L942.0 60.0 L945.0 60.0" fill="none" stroke="#0030c0" stroke-width="1.2"/>
<rect x="62.7" y="21.4" width="882.5" height="246.6" fill="none" stroke="#a4a4a4" stroke-width="1"/>
<text class="t" x="62.2" y="44.95" text-anchor="end">2</text>
<text class="t" x="62.2" y="65.45" text-anchor="end">0</text>
<text class="t" x="62.2" y="85.95" text-anchor="end">-2</text>
<text class="t" x="62.2" y="106.45" text-anchor="end">-4</text>
<text class="t" x="62.2" y="126.95" text-anchor="end">-6</text>
<text class="t" x="62.2" y="147.45" text-anchor="end">-8</text>
<text class="t" x="62.2" y="167.95" text-anchor="end">-10</text>
<text class="t" x="62.2" y="188.45" text-anchor="end">-12</text>
<text class="t" x="62.2" y="208.95" text-anchor="end">-14</text>
<text class="t" x="62.2" y="229.45" text-anchor="end">-16</text>
<text class="t" x="62.2" y="249.95" text-anchor="end">-18</text>
<text class="t" x="62.2" y="270.45" text-anchor="end">-20</text>
<text class="t" x="128.00" y="285.60" text-anchor="middle">110</text>
<text class="t" x="230.50" y="285.60" text-anchor="middle">120</text>
<text class="t" x="333.00" y="285.60" text-anchor="middle">130</text>
<text class="t" x="435.50" y="285.60" text-anchor="middle">140</text>
<text class="t" x="538.00" y="285.60" text-anchor="middle">150</text>
<text class="t" x="640.50" y="285.60" text-anchor="middle">160</text>
<text class="t" x="743.00" y="285.60" text-anchor="middle">170</text>
<text class="t" x="845.50" y="285.60" text-anchor="middle">180</text>
<path d="M63 39.35 h3 M945 39.35 h-3 M63 59.85 h3 M945 59.85 h-3 M63 80.35 h3 M945 80.35 h-3 M63 100.85 h3 M945 100.85 h-3 M63 121.35 h3 M945 121.35 h-3 M63 141.85 h3 M945 141.85 h-3 M63 162.35 h3 M945 162.35 h-3 M63 182.85 h3 M945 182.85 h-3 M63 203.35 h3 M945 203.35 h-3 M63 223.85 h3 M945 223.85 h-3 M63 244.35 h3 M945 244.35 h-3 M63 264.85 h3 M945 264.85 h-3 M128.00 268 v-3 M128.00 21.5 v3 M230.50 268 v-3 M230.50 21.5 v3 M333.00 268 v-3 M333.00 21.5 v3 M435.50 268 v-3 M435.50 21.5 v3 M538.00 268 v-3 M538.00 21.5 v3 M640.50 268 v-3 M640.50 21.5 v3 M743.00 268 v-3 M743.00 21.5 v3 M845.50 268 v-3 M845.50 21.5 v3" stroke="#3a3030" stroke-width="0.8" fill="none" opacity=".7"/>
<text class="u" x="8.7" y="29.00">m</text>
<text class="u" x="946.4" y="286.00" text-anchor="end">m</text>
<text class="d" x="959.3" y="37.40">dB</text>
<rect x="953.3" y="65.00" width="6.5" height="197" fill="url(#jet)" stroke="#9a9a9a" stroke-width=".4"/>
<text class="t" x="962.4" y="70.90">80</text>
<text class="t" x="962.4" y="99.04">70</text>
<text class="t" x="962.4" y="127.18">60</text>
<text class="t" x="962.4" y="155.32">50</text>
<text class="t" x="962.4" y="183.46">40</text>
<text class="t" x="962.4" y="211.60">30</text>
<text class="t" x="962.4" y="239.74">20</text>
<text class="t" x="962.4" y="267.88">10</text>
<text class="cap" x="511.5" y="336.00" text-anchor="middle">(a)</text>
<path d="M63.0 394.4 L66.0 393.6 L69.0 392.8 L72.0 392.0 L75.0 391.1 L78.0 390.3 L81.0 389.5 L84.0 388.6 L87.0 387.8 L90.0 387.0 L93.0 386.2 L96.0 385.4 L99.0 384.7 L102.0 384.0 L105.0 383.3 L108.0 382.6 L111.0 382.0 L114.0 381.4 L117.0 380.8 L120.0 380.3 L123.0 379.8 L126.0 379.4 L129.0 379.0 L132.0 378.7 L135.0 378.5 L138.0 378.2 L141.0 378.1 L144.0 378.0 L147.0 377.9 L150.0 377.9 L153.0 378.0 L156.0 378.1 L159.0 378.2 L162.0 378.5 L165.0 378.7 L168.0 379.0 L171.0 379.4 L174.0 379.8 L177.0 380.3 L180.0 380.8 L183.0 381.4 L186.0 382.0 L189.0 382.6 L192.0 383.3 L195.0 384.0 L198.0 384.7 L201.0 385.4 L204.0 386.2 L207.0 387.0 L210.0 387.8 L213.0 388.6 L216.0 389.5 L219.0 390.3 L222.0 391.1 L225.0 392.0 L228.0 392.8 L231.0 393.6 L234.0 394.4 L237.0 395.2 L240.0 396.0 L243.0 396.7 L246.0 397.5 L249.0 398.2 L252.0 398.8 L255.0 399.4 L258.0 400.0 L261.0 400.6 L264.0 401.1 L267.0 401.5 L270.0 401.9 L273.0 402.3 L276.0 402.6 L279.0 402.9 L282.0 403.1 L285.0 403.3 L288.0 403.4 L291.0 403.4 L294.0 403.4 L297.0 403.3 L300.0 403.2 L303.0 403.0 L306.0 402.8 L309.0 402.5 L312.0 402.2 L315.0 401.8 L318.0 401.4 L321.0 400.9 L324.0 400.4 L327.0 399.8 L330.0 399.2 L333.0 398.6 L336.0 397.9 L339.0 397.2 L342.0 396.5 L345.0 395.7 L348.0 395.0 L351.0 394.2 L354.0 393.4 L357.0 392.5 L360.0 391.7 L363.0 390.9 L366.0 390.0 L369.0 389.2 L372.0 388.4 L375.0 387.5 L378.0 386.7 L381.0 385.9 L384.0 385.2 L387.0 384.4 L390.0 383.7 L393.0 383.0 L396.0 382.4 L399.0 381.8 L402.0 381.2 L405.0 380.6 L408.0 380.1 L411.0 379.7 L414.0 379.3 L417.0 378.9 L420.0 378.6 L423.0 378.4 L426.0 378.2 L429.0 378.0 L432.0 377.9 L435.0 377.9 L438.0 377.9 L441.0 378.0 L444.0 378.1 L447.0 378.3 L450.0 378.5 L453.0 378.8 L456.0 379.2 L459.0 379.6 L462.0 380.0 L465.0 380.5 L468.0 381.0 L471.0 381.6 L474.0 382.2 L477.0 382.8 L480.0 383.5 L483.0 384.2 L486.0 384.9 L489.0 385.7 L492.0 386.5 L495.0 387.3 L498.0 388.1 L501.0 388.9 L504.0 389.7 L507.0 390.6 L510.0 391.4 L513.0 392.3 L516.0 393.1 L519.0 393.9 L522.0 394.7 L525.0 395.5 L528.0 396.2 L531.0 397.0 L534.0 397.7 L537.0 398.4 L540.0 399.0 L543.0 399.6 L546.0 400.2 L549.0 400.7 L552.0 401.2 L555.0 401.7 L558.0 402.1 L561.0 402.4 L564.0 402.7 L567.0 403.0 L570.0 403.2 L573.0 403.3 L576.0 403.4 L579.0 403.4 L582.0 403.4 L585.0 403.3 L588.0 403.2 L591.0 403.0 L594.0 402.7 L597.0 402.4 L600.0 402.1 L603.0 401.7 L606.0 401.2 L609.0 400.7 L612.0 400.2 L615.0 399.6 L618.0 399.0 L621.0 398.4 L624.0 397.7 L627.0 397.0 L630.0 396.2 L633.0 395.5 L636.0 394.7 L639.0 393.9 L642.0 393.1 L645.0 392.3 L648.0 391.4 L651.0 390.6 L654.0 389.7 L657.0 388.9 L660.0 388.1 L663.0 387.3 L666.0 386.5 L669.0 385.7 L672.0 384.9 L675.0 384.2 L678.0 383.5 L681.0 382.8 L684.0 382.2 L687.0 381.6 L690.0 381.0 L693.0 380.5 L696.0 380.0 L699.0 379.6 L702.0 379.2 L705.0 378.8 L708.0 378.5 L711.0 378.3 L714.0 378.1 L717.0 378.0 L720.0 377.9 L723.0 377.9 L726.0 377.9 L729.0 378.0 L732.0 378.2 L735.0 378.4 L738.0 378.6 L741.0 378.9 L744.0 379.3 L747.0 379.7 L750.0 380.1 L753.0 380.6 L756.0 381.2 L759.0 381.8 L762.0 382.4 L765.0 383.0 L768.0 383.7 L771.0 384.4 L774.0 385.2 L777.0 385.9 L780.0 386.7 L783.0 387.5 L786.0 388.4 L789.0 389.2 L792.0 390.0 L795.0 390.9 L798.0 391.7 L801.0 392.5 L804.0 393.4 L807.0 394.2 L810.0 395.0 L813.0 395.7 L816.0 396.5 L819.0 397.2 L822.0 397.9 L825.0 398.6 L828.0 399.2 L831.0 399.8 L834.0 400.4 L837.0 400.9 L840.0 401.4 L843.0 401.8 L846.0 402.2 L849.0 402.5 L852.0 402.8 L855.0 403.0 L858.0 403.2 L861.0 403.3 L864.0 403.4 L867.0 403.4 L870.0 403.4 L873.0 403.3 L876.0 403.1 L879.0 402.9 L882.0 402.6 L885.0 402.3 L888.0 401.9 L891.0 401.5 L894.0 401.1 L897.0 400.6 L900.0 400.0 L903.0 399.4 L906.0 398.8 L909.0 398.2 L912.0 397.5 L915.0 396.7 L918.0 396.0 L921.0 395.2 L924.0 394.4 L927.0 393.6 L930.0 392.8 L933.0 392.0 L936.0 391.1 L939.0 390.3 L942.0 389.5 L945.0 388.6 L945 352.7 L63 352.7 Z" fill="#fff"/>
<path d="M63.0 394.4 L66.0 393.6 L69.0 392.8 L72.0 392.0 L75.0 391.1 L78.0 390.3 L81.0 389.5 L84.0 388.6 L87.0 387.8 L90.0 387.0 L93.0 386.2 L96.0 385.4 L99.0 384.7 L102.0 384.0 L105.0 383.3 L108.0 382.6 L111.0 382.0 L114.0 381.4 L117.0 380.8 L120.0 380.3 L123.0 379.8 L126.0 379.4 L129.0 379.0 L132.0 378.7 L135.0 378.5 L138.0 378.2 L141.0 378.1 L144.0 378.0 L147.0 377.9 L150.0 377.9 L153.0 378.0 L156.0 378.1 L159.0 378.2 L162.0 378.5 L165.0 378.7 L168.0 379.0 L171.0 379.4 L174.0 379.8 L177.0 380.3 L180.0 380.8 L183.0 381.4 L186.0 382.0 L189.0 382.6 L192.0 383.3 L195.0 384.0 L198.0 384.7 L201.0 385.4 L204.0 386.2 L207.0 387.0 L210.0 387.8 L213.0 388.6 L216.0 389.5 L219.0 390.3 L222.0 391.1 L225.0 392.0 L228.0 392.8 L231.0 393.6 L234.0 394.4 L237.0 395.2 L240.0 396.0 L243.0 396.7 L246.0 397.5 L249.0 398.2 L252.0 398.8 L255.0 399.4 L258.0 400.0 L261.0 400.6 L264.0 401.1 L267.0 401.5 L270.0 401.9 L273.0 402.3 L276.0 402.6 L279.0 402.9 L282.0 403.1 L285.0 403.3 L288.0 403.4 L291.0 403.4 L294.0 403.4 L297.0 403.3 L300.0 403.2 L303.0 403.0 L306.0 402.8 L309.0 402.5 L312.0 402.2 L315.0 401.8 L318.0 401.4 L321.0 400.9 L324.0 400.4 L327.0 399.8 L330.0 399.2 L333.0 398.6 L336.0 397.9 L339.0 397.2 L342.0 396.5 L345.0 395.7 L348.0 395.0 L351.0 394.2 L354.0 393.4 L357.0 392.5 L360.0 391.7 L363.0 390.9 L366.0 390.0 L369.0 389.2 L372.0 388.4 L375.0 387.5 L378.0 386.7 L381.0 385.9 L384.0 385.2 L387.0 384.4 L390.0 383.7 L393.0 383.0 L396.0 382.4 L399.0 381.8 L402.0 381.2 L405.0 380.6 L408.0 380.1 L411.0 379.7 L414.0 379.3 L417.0 378.9 L420.0 378.6 L423.0 378.4 L426.0 378.2 L429.0 378.0 L432.0 377.9 L435.0 377.9 L438.0 377.9 L441.0 378.0 L444.0 378.1 L447.0 378.3 L450.0 378.5 L453.0 378.8 L456.0 379.2 L459.0 379.6 L462.0 380.0 L465.0 380.5 L468.0 381.0 L471.0 381.6 L474.0 382.2 L477.0 382.8 L480.0 383.5 L483.0 384.2 L486.0 384.9 L489.0 385.7 L492.0 386.5 L495.0 387.3 L498.0 388.1 L501.0 388.9 L504.0 389.7 L507.0 390.6 L510.0 391.4 L513.0 392.3 L516.0 393.1 L519.0 393.9 L522.0 394.7 L525.0 395.5 L528.0 396.2 L531.0 397.0 L534.0 397.7 L537.0 398.4 L540.0 399.0 L543.0 399.6 L546.0 400.2 L549.0 400.7 L552.0 401.2 L555.0 401.7 L558.0 402.1 L561.0 402.4 L564.0 402.7 L567.0 403.0 L570.0 403.2 L573.0 403.3 L576.0 403.4 L579.0 403.4 L582.0 403.4 L585.0 403.3 L588.0 403.2 L591.0 403.0 L594.0 402.7 L597.0 402.4 L600.0 402.1 L603.0 401.7 L606.0 401.2 L609.0 400.7 L612.0 400.2 L615.0 399.6 L618.0 399.0 L621.0 398.4 L624.0 397.7 L627.0 397.0 L630.0 396.2 L633.0 395.5 L636.0 394.7 L639.0 393.9 L642.0 393.1 L645.0 392.3 L648.0 391.4 L651.0 390.6 L654.0 389.7 L657.0 388.9 L660.0 388.1 L663.0 387.3 L666.0 386.5 L669.0 385.7 L672.0 384.9 L675.0 384.2 L678.0 383.5 L681.0 382.8 L684.0 382.2 L687.0 381.6 L690.0 381.0 L693.0 380.5 L696.0 380.0 L699.0 379.6 L702.0 379.2 L705.0 378.8 L708.0 378.5 L711.0 378.3 L714.0 378.1 L717.0 378.0 L720.0 377.9 L723.0 377.9 L726.0 377.9 L729.0 378.0 L732.0 378.2 L735.0 378.4 L738.0 378.6 L741.0 378.9 L744.0 379.3 L747.0 379.7 L750.0 380.1 L753.0 380.6 L756.0 381.2 L759.0 381.8 L762.0 382.4 L765.0 383.0 L768.0 383.7 L771.0 384.4 L774.0 385.2 L777.0 385.9 L780.0 386.7 L783.0 387.5 L786.0 388.4 L789.0 389.2 L792.0 390.0 L795.0 390.9 L798.0 391.7 L801.0 392.5 L804.0 393.4 L807.0 394.2 L810.0 395.0 L813.0 395.7 L816.0 396.5 L819.0 397.2 L822.0 397.9 L825.0 398.6 L828.0 399.2 L831.0 399.8 L834.0 400.4 L837.0 400.9 L840.0 401.4 L843.0 401.8 L846.0 402.2 L849.0 402.5 L852.0 402.8 L855.0 403.0 L858.0 403.2 L861.0 403.3 L864.0 403.4 L867.0 403.4 L870.0 403.4 L873.0 403.3 L876.0 403.1 L879.0 402.9 L882.0 402.6 L885.0 402.3 L888.0 401.9 L891.0 401.5 L894.0 401.1 L897.0 400.6 L900.0 400.0 L903.0 399.4 L906.0 398.8 L909.0 398.2 L912.0 397.5 L915.0 396.7 L918.0 396.0 L921.0 395.2 L924.0 394.4 L927.0 393.6 L930.0 392.8 L933.0 392.0 L936.0 391.1 L939.0 390.3 L942.0 389.5 L945.0 388.6" fill="none" stroke="#00007a" stroke-width="1.7" transform="translate(0 .85)"/>
<rect x="62.7" y="352.6" width="882.5" height="246.6" fill="none" stroke="#a4a4a4" stroke-width="1"/>
<text class="t" x="62.2" y="376.15" text-anchor="end">2</text>
<text class="t" x="62.2" y="396.65" text-anchor="end">0</text>
<text class="t" x="62.2" y="417.15" text-anchor="end">-2</text>
<text class="t" x="62.2" y="437.65" text-anchor="end">-4</text>
<text class="t" x="62.2" y="458.15" text-anchor="end">-6</text>
<text class="t" x="62.2" y="478.65" text-anchor="end">-8</text>
<text class="t" x="62.2" y="499.15" text-anchor="end">-10</text>
<text class="t" x="62.2" y="519.65" text-anchor="end">-12</text>
<text class="t" x="62.2" y="540.15" text-anchor="end">-14</text>
<text class="t" x="62.2" y="560.65" text-anchor="end">-16</text>
<text class="t" x="62.2" y="581.15" text-anchor="end">-18</text>
<text class="t" x="62.2" y="601.65" text-anchor="end">-20</text>
<text class="t" x="128.00" y="616.80" text-anchor="middle">110</text>
<text class="t" x="230.50" y="616.80" text-anchor="middle">120</text>
<text class="t" x="333.00" y="616.80" text-anchor="middle">130</text>
<text class="t" x="435.50" y="616.80" text-anchor="middle">140</text>
<text class="t" x="538.00" y="616.80" text-anchor="middle">150</text>
<text class="t" x="640.50" y="616.80" text-anchor="middle">160</text>
<text class="t" x="743.00" y="616.80" text-anchor="middle">170</text>
<text class="t" x="845.50" y="616.80" text-anchor="middle">180</text>
<path d="M63 370.55 h3 M945 370.55 h-3 M63 391.05 h3 M945 391.05 h-3 M63 411.55 h3 M945 411.55 h-3 M63 432.05 h3 M945 432.05 h-3 M63 452.55 h3 M945 452.55 h-3 M63 473.05 h3 M945 473.05 h-3 M63 493.55 h3 M945 493.55 h-3 M63 514.05 h3 M945 514.05 h-3 M63 534.55 h3 M945 534.55 h-3 M63 555.05 h3 M945 555.05 h-3 M63 575.55 h3 M945 575.55 h-3 M63 596.05 h3 M945 596.05 h-3 M128.00 599.2 v-3 M128.00 352.7 v3 M230.50 599.2 v-3 M230.50 352.7 v3 M333.00 599.2 v-3 M333.00 352.7 v3 M435.50 599.2 v-3 M435.50 352.7 v3 M538.00 599.2 v-3 M538.00 352.7 v3 M640.50 599.2 v-3 M640.50 352.7 v3 M743.00 599.2 v-3 M743.00 352.7 v3 M845.50 599.2 v-3 M845.50 352.7 v3" stroke="#3a3030" stroke-width="0.8" fill="none" opacity=".7"/>
<text class="u" x="8.7" y="360.20">m</text>
<text class="u" x="946.4" y="617.20" text-anchor="end">m</text>
<text class="d" x="959.3" y="368.60">dB</text>
<rect x="953.3" y="396.20" width="6.5" height="197" fill="url(#jet)" stroke="#9a9a9a" stroke-width=".4"/>
<text class="t" x="962.4" y="402.10">80</text>
<text class="t" x="962.4" y="430.24">70</text>
<text class="t" x="962.4" y="458.38">60</text>
<text class="t" x="962.4" y="486.52">50</text>
<text class="t" x="962.4" y="514.66">40</text>
<text class="t" x="962.4" y="542.80">30</text>
<text class="t" x="962.4" y="570.94">20</text>
<text class="t" x="962.4" y="599.08">10</text>
<text class="cap" x="511.5" y="667.20" text-anchor="middle">(b)</text>
<path d="M63.0 718.5 L66.0 719.3 L69.0 720.1 L72.0 720.9 L75.0 721.8 L78.0 722.6 L81.0 723.4 L84.0 724.3 L87.0 725.1 L90.0 725.9 L93.0 726.7 L96.0 727.5 L99.0 728.2 L102.0 728.9 L105.0 729.6 L108.0 730.3 L111.0 730.9 L114.0 731.5 L117.0 732.1 L120.0 732.6 L123.0 733.1 L126.0 733.5 L129.0 733.9 L132.0 734.2 L135.0 734.4 L138.0 734.7 L141.0 734.8 L144.0 734.9 L147.0 735.0 L150.0 735.0 L153.0 734.9 L156.0 734.8 L159.0 734.7 L162.0 734.4 L165.0 734.2 L168.0 733.9 L171.0 733.5 L174.0 733.1 L177.0 732.6 L180.0 732.1 L183.0 731.5 L186.0 730.9 L189.0 730.3 L192.0 729.6 L195.0 728.9 L198.0 728.2 L201.0 727.5 L204.0 726.7 L207.0 725.9 L210.0 725.1 L213.0 724.3 L216.0 723.4 L219.0 722.6 L222.0 721.8 L225.0 720.9 L228.0 720.1 L231.0 719.3 L234.0 718.5 L237.0 717.7 L240.0 716.9 L243.0 716.2 L246.0 715.4 L249.0 714.7 L252.0 714.1 L255.0 713.5 L258.0 712.9 L261.0 712.3 L264.0 711.8 L267.0 711.4 L270.0 711.0 L273.0 710.6 L276.0 710.3 L279.0 710.0 L282.0 709.8 L285.0 709.6 L288.0 709.5 L291.0 709.5 L294.0 709.5 L297.0 709.6 L300.0 709.7 L303.0 709.9 L306.0 710.1 L309.0 710.4 L312.0 710.7 L315.0 711.1 L318.0 711.5 L321.0 712.0 L324.0 712.5 L327.0 713.1 L330.0 713.7 L333.0 714.3 L336.0 715.0 L339.0 715.7 L342.0 716.4 L345.0 717.2 L348.0 717.9 L351.0 718.7 L354.0 719.5 L357.0 720.4 L360.0 721.2 L363.0 722.0 L366.0 722.9 L369.0 723.7 L372.0 724.5 L375.0 725.4 L378.0 726.2 L381.0 727.0 L384.0 727.7 L387.0 728.5 L390.0 729.2 L393.0 729.9 L396.0 730.5 L399.0 731.1 L402.0 731.7 L405.0 732.3 L408.0 732.8 L411.0 733.2 L414.0 733.6 L417.0 734.0 L420.0 734.3 L423.0 734.5 L426.0 734.7 L429.0 734.9 L432.0 735.0 L435.0 735.0 L438.0 735.0 L441.0 734.9 L444.0 734.8 L447.0 734.6 L450.0 734.4 L453.0 734.1 L456.0 733.7 L459.0 733.3 L462.0 732.9 L465.0 732.4 L468.0 731.9 L471.0 731.3 L474.0 730.7 L477.0 730.1 L480.0 729.4 L483.0 728.7 L486.0 728.0 L489.0 727.2 L492.0 726.4 L495.0 725.6 L498.0 724.8 L501.0 724.0 L504.0 723.2 L507.0 722.3 L510.0 721.5 L513.0 720.6 L516.0 719.8 L519.0 719.0 L522.0 718.2 L525.0 717.4 L528.0 716.7 L531.0 715.9 L534.0 715.2 L537.0 714.5 L540.0 713.9 L543.0 713.3 L546.0 712.7 L549.0 712.2 L552.0 711.7 L555.0 711.2 L558.0 710.8 L561.0 710.5 L564.0 710.2 L567.0 709.9 L570.0 709.7 L573.0 709.6 L576.0 709.5 L579.0 709.5 L582.0 709.5 L585.0 709.6 L588.0 709.7 L591.0 709.9 L594.0 710.2 L597.0 710.5 L600.0 710.8 L603.0 711.2 L606.0 711.7 L609.0 712.2 L612.0 712.7 L615.0 713.3 L618.0 713.9 L621.0 714.5 L624.0 715.2 L627.0 715.9 L630.0 716.7 L633.0 717.4 L636.0 718.2 L639.0 719.0 L642.0 719.8 L645.0 720.6 L648.0 721.5 L651.0 722.3 L654.0 723.2 L657.0 724.0 L660.0 724.8 L663.0 725.6 L666.0 726.4 L669.0 727.2 L672.0 728.0 L675.0 728.7 L678.0 729.4 L681.0 730.1 L684.0 730.7 L687.0 731.3 L690.0 731.9 L693.0 732.4 L696.0 732.9 L699.0 733.3 L702.0 733.7 L705.0 734.1 L708.0 734.4 L711.0 734.6 L714.0 734.8 L717.0 734.9 L720.0 735.0 L723.0 735.0 L726.0 735.0 L729.0 734.9 L732.0 734.7 L735.0 734.5 L738.0 734.3 L741.0 734.0 L744.0 733.6 L747.0 733.2 L750.0 732.8 L753.0 732.3 L756.0 731.7 L759.0 731.1 L762.0 730.5 L765.0 729.9 L768.0 729.2 L771.0 728.5 L774.0 727.7 L777.0 727.0 L780.0 726.2 L783.0 725.4 L786.0 724.5 L789.0 723.7 L792.0 722.9 L795.0 722.0 L798.0 721.2 L801.0 720.4 L804.0 719.5 L807.0 718.7 L810.0 717.9 L813.0 717.2 L816.0 716.4 L819.0 715.7 L822.0 715.0 L825.0 714.3 L828.0 713.7 L831.0 713.1 L834.0 712.5 L837.0 712.0 L840.0 711.5 L843.0 711.1 L846.0 710.7 L849.0 710.4 L852.0 710.1 L855.0 709.9 L858.0 709.7 L861.0 709.6 L864.0 709.5 L867.0 709.5 L870.0 709.5 L873.0 709.6 L876.0 709.8 L879.0 710.0 L882.0 710.3 L885.0 710.6 L888.0 711.0 L891.0 711.4 L894.0 711.8 L897.0 712.3 L900.0 712.9 L903.0 713.5 L906.0 714.1 L909.0 714.7 L912.0 715.4 L915.0 716.2 L918.0 716.9 L921.0 717.7 L924.0 718.5 L927.0 719.3 L930.0 720.1 L933.0 720.9 L936.0 721.8 L939.0 722.6 L942.0 723.4 L945.0 724.3 L945 684.5 L63 684.5 Z" fill="#fff"/>
<path d="M63.0 718.5 L66.0 719.3 L69.0 720.1 L72.0 720.9 L75.0 721.8 L78.0 722.6 L81.0 723.4 L84.0 724.3 L87.0 725.1 L90.0 725.9 L93.0 726.7 L96.0 727.5 L99.0 728.2 L102.0 728.9 L105.0 729.6 L108.0 730.3 L111.0 730.9 L114.0 731.5 L117.0 732.1 L120.0 732.6 L123.0 733.1 L126.0 733.5 L129.0 733.9 L132.0 734.2 L135.0 734.4 L138.0 734.7 L141.0 734.8 L144.0 734.9 L147.0 735.0 L150.0 735.0 L153.0 734.9 L156.0 734.8 L159.0 734.7 L162.0 734.4 L165.0 734.2 L168.0 733.9 L171.0 733.5 L174.0 733.1 L177.0 732.6 L180.0 732.1 L183.0 731.5 L186.0 730.9 L189.0 730.3 L192.0 729.6 L195.0 728.9 L198.0 728.2 L201.0 727.5 L204.0 726.7 L207.0 725.9 L210.0 725.1 L213.0 724.3 L216.0 723.4 L219.0 722.6 L222.0 721.8 L225.0 720.9 L228.0 720.1 L231.0 719.3 L234.0 718.5 L237.0 717.7 L240.0 716.9 L243.0 716.2 L246.0 715.4 L249.0 714.7 L252.0 714.1 L255.0 713.5 L258.0 712.9 L261.0 712.3 L264.0 711.8 L267.0 711.4 L270.0 711.0 L273.0 710.6 L276.0 710.3 L279.0 710.0 L282.0 709.8 L285.0 709.6 L288.0 709.5 L291.0 709.5 L294.0 709.5 L297.0 709.6 L300.0 709.7 L303.0 709.9 L306.0 710.1 L309.0 710.4 L312.0 710.7 L315.0 711.1 L318.0 711.5 L321.0 712.0 L324.0 712.5 L327.0 713.1 L330.0 713.7 L333.0 714.3 L336.0 715.0 L339.0 715.7 L342.0 716.4 L345.0 717.2 L348.0 717.9 L351.0 718.7 L354.0 719.5 L357.0 720.4 L360.0 721.2 L363.0 722.0 L366.0 722.9 L369.0 723.7 L372.0 724.5 L375.0 725.4 L378.0 726.2 L381.0 727.0 L384.0 727.7 L387.0 728.5 L390.0 729.2 L393.0 729.9 L396.0 730.5 L399.0 731.1 L402.0 731.7 L405.0 732.3 L408.0 732.8 L411.0 733.2 L414.0 733.6 L417.0 734.0 L420.0 734.3 L423.0 734.5 L426.0 734.7 L429.0 734.9 L432.0 735.0 L435.0 735.0 L438.0 735.0 L441.0 734.9 L444.0 734.8 L447.0 734.6 L450.0 734.4 L453.0 734.1 L456.0 733.7 L459.0 733.3 L462.0 732.9 L465.0 732.4 L468.0 731.9 L471.0 731.3 L474.0 730.7 L477.0 730.1 L480.0 729.4 L483.0 728.7 L486.0 728.0 L489.0 727.2 L492.0 726.4 L495.0 725.6 L498.0 724.8 L501.0 724.0 L504.0 723.2 L507.0 722.3 L510.0 721.5 L513.0 720.6 L516.0 719.8 L519.0 719.0 L522.0 718.2 L525.0 717.4 L528.0 716.7 L531.0 715.9 L534.0 715.2 L537.0 714.5 L540.0 713.9 L543.0 713.3 L546.0 712.7 L549.0 712.2 L552.0 711.7 L555.0 711.2 L558.0 710.8 L561.0 710.5 L564.0 710.2 L567.0 709.9 L570.0 709.7 L573.0 709.6 L576.0 709.5 L579.0 709.5 L582.0 709.5 L585.0 709.6 L588.0 709.7 L591.0 709.9 L594.0 710.2 L597.0 710.5 L600.0 710.8 L603.0 711.2 L606.0 711.7 L609.0 712.2 L612.0 712.7 L615.0 713.3 L618.0 713.9 L621.0 714.5 L624.0 715.2 L627.0 715.9 L630.0 716.7 L633.0 717.4 L636.0 718.2 L639.0 719.0 L642.0 719.8 L645.0 720.6 L648.0 721.5 L651.0 722.3 L654.0 723.2 L657.0 724.0 L660.0 724.8 L663.0 725.6 L666.0 726.4 L669.0 727.2 L672.0 728.0 L675.0 728.7 L678.0 729.4 L681.0 730.1 L684.0 730.7 L687.0 731.3 L690.0 731.9 L693.0 732.4 L696.0 732.9 L699.0 733.3 L702.0 733.7 L705.0 734.1 L708.0 734.4 L711.0 734.6 L714.0 734.8 L717.0 734.9 L720.0 735.0 L723.0 735.0 L726.0 735.0 L729.0 734.9 L732.0 734.7 L735.0 734.5 L738.0 734.3 L741.0 734.0 L744.0 733.6 L747.0 733.2 L750.0 732.8 L753.0 732.3 L756.0 731.7 L759.0 731.1 L762.0 730.5 L765.0 729.9 L768.0 729.2 L771.0 728.5 L774.0 727.7 L777.0 727.0 L780.0 726.2 L783.0 725.4 L786.0 724.5 L789.0 723.7 L792.0 722.9 L795.0 722.0 L798.0 721.2 L801.0 720.4 L804.0 719.5 L807.0 718.7 L810.0 717.9 L813.0 717.2 L816.0 716.4 L819.0 715.7 L822.0 715.0 L825.0 714.3 L828.0 713.7 L831.0 713.1 L834.0 712.5 L837.0 712.0 L840.0 711.5 L843.0 711.1 L846.0 710.7 L849.0 710.4 L852.0 710.1 L855.0 709.9 L858.0 709.7 L861.0 709.6 L864.0 709.5 L867.0 709.5 L870.0 709.5 L873.0 709.6 L876.0 709.8 L879.0 710.0 L882.0 710.3 L885.0 710.6 L888.0 711.0 L891.0 711.4 L894.0 711.8 L897.0 712.3 L900.0 712.9 L903.0 713.5 L906.0 714.1 L909.0 714.7 L912.0 715.4 L915.0 716.2 L918.0 716.9 L921.0 717.7 L924.0 718.5 L927.0 719.3 L930.0 720.1 L933.0 720.9 L936.0 721.8 L939.0 722.6 L942.0 723.4 L945.0 724.3" fill="none" stroke="#00007a" stroke-width="1.7" transform="translate(0 .85)"/>
<rect x="62.7" y="684.4" width="882.5" height="246.6" fill="none" stroke="#a4a4a4" stroke-width="1"/>
<text class="t" x="62.2" y="707.95" text-anchor="end">2</text>
<text class="t" x="62.2" y="728.45" text-anchor="end">0</text>
<text class="t" x="62.2" y="748.95" text-anchor="end">-2</text>
<text class="t" x="62.2" y="769.45" text-anchor="end">-4</text>
<text class="t" x="62.2" y="789.95" text-anchor="end">-6</text>
<text class="t" x="62.2" y="810.45" text-anchor="end">-8</text>
<text class="t" x="62.2" y="830.95" text-anchor="end">-10</text>
<text class="t" x="62.2" y="851.45" text-anchor="end">-12</text>
<text class="t" x="62.2" y="871.95" text-anchor="end">-14</text>
<text class="t" x="62.2" y="892.45" text-anchor="end">-16</text>
<text class="t" x="62.2" y="912.95" text-anchor="end">-18</text>
<text class="t" x="62.2" y="933.45" text-anchor="end">-20</text>
<text class="t" x="128.00" y="948.60" text-anchor="middle">110</text>
<text class="t" x="230.50" y="948.60" text-anchor="middle">120</text>
<text class="t" x="333.00" y="948.60" text-anchor="middle">130</text>
<text class="t" x="435.50" y="948.60" text-anchor="middle">140</text>
<text class="t" x="538.00" y="948.60" text-anchor="middle">150</text>
<text class="t" x="640.50" y="948.60" text-anchor="middle">160</text>
<text class="t" x="743.00" y="948.60" text-anchor="middle">170</text>
<text class="t" x="845.50" y="948.60" text-anchor="middle">180</text>
<path d="M63 702.35 h3 M945 702.35 h-3 M63 722.85 h3 M945 722.85 h-3 M63 743.35 h3 M945 743.35 h-3 M63 763.85 h3 M945 763.85 h-3 M63 784.35 h3 M945 784.35 h-3 M63 804.85 h3 M945 804.85 h-3 M63 825.35 h3 M945 825.35 h-3 M63 845.85 h3 M945 845.85 h-3 M63 866.35 h3 M945 866.35 h-3 M63 886.85 h3 M945 886.85 h-3 M63 907.35 h3 M945 907.35 h-3 M63 927.85 h3 M945 927.85 h-3 M128.00 931 v-3 M128.00 684.5 v3 M230.50 931 v-3 M230.50 684.5 v3 M333.00 931 v-3 M333.00 684.5 v3 M435.50 931 v-3 M435.50 684.5 v3 M538.00 931 v-3 M538.00 684.5 v3 M640.50 931 v-3 M640.50 684.5 v3 M743.00 931 v-3 M743.00 684.5 v3 M845.50 931 v-3 M845.50 684.5 v3" stroke="#3a3030" stroke-width="0.8" fill="none" opacity=".7"/>
<text class="u" x="8.7" y="692.00">m</text>
<text class="u" x="946.4" y="949.00" text-anchor="end">m</text>
<text class="d" x="959.3" y="700.40">dB</text>
<rect x="953.3" y="728.00" width="6.5" height="197" fill="url(#jet)" stroke="#9a9a9a" stroke-width=".4"/>
<text class="t" x="962.4" y="733.90">80</text>
<text class="t" x="962.4" y="762.04">70</text>
<text class="t" x="962.4" y="790.18">60</text>
<text class="t" x="962.4" y="818.32">50</text>
<text class="t" x="962.4" y="846.46">40</text>
<text class="t" x="962.4" y="874.60">30</text>
<text class="t" x="962.4" y="902.74">20</text>
<text class="t" x="962.4" y="930.88">10</text>
<text class="cap" x="511.5" y="999.00" text-anchor="middle">(c)</text>
</svg></body></html>
